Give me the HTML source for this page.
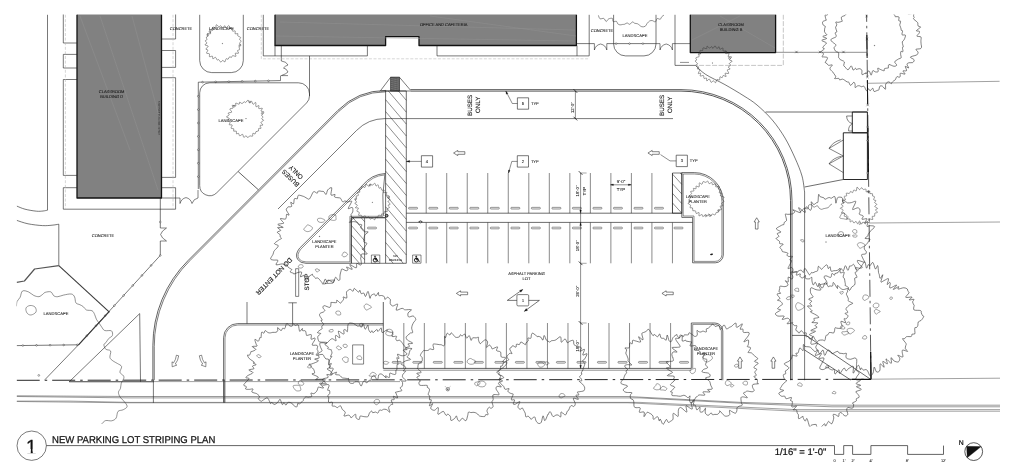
<!DOCTYPE html>
<html lang="en">
<head>
<meta charset="utf-8">
<title>New Parking Lot Striping Plan</title>
<style>
html,body{margin:0;padding:0;background:#fff;}
body{width:1024px;height:468px;overflow:hidden;font-family:"Liberation Sans",sans-serif;}
svg{display:block;will-change:transform;}
text{text-rendering:geometricPrecision;}
</style>
</head>
<body>
<svg width="1024" height="468" viewBox="0 0 1024 468" font-family="'Liberation Sans', sans-serif" stroke-linecap="butt" stroke-linejoin="round">
<defs><clipPath id="vp"><rect x="16.5" y="14.6" width="984.5" height="412"/></clipPath></defs>
<rect x="0" y="0" width="1024" height="468" fill="#ffffff"/>
<g clip-path="url(#vp)">
<rect x="77" y="11.6" width="84.5" height="186.4" fill="#818181" stroke="none" stroke-width="0"/>
<path d="M77,14.6 V198 H161.5 V14.6" fill="none" stroke="#111" stroke-width="1.3"/>
<line x1="80" y1="16" x2="130" y2="150" stroke="#929292" stroke-width="0.5"/>
<line x1="132" y1="16" x2="160" y2="120" stroke="#929292" stroke-width="0.5"/>
<line x1="100" y1="16" x2="158" y2="190" stroke="#929292" stroke-width="0.5"/>
<path d="M47.5,14.6 V210.2" fill="none" stroke="#1e1e1e" stroke-width="0.6"/>
<path d="M16.8,206.1 C18.17,206.62 21.72,208.35 25,209.2 C28.28,210.05 33.5,210.9 36.5,211.2 C39.5,211.5 41.17,211.17 43,211 C44.83,210.83 46.75,210.33 47.5,210.2" fill="none" stroke="#1e1e1e" stroke-width="0.6"/>
<path d="M16.8,220.4 C18.67,220.97 23.72,222.93 28,223.8 C32.28,224.67 38.5,225.37 42.5,225.6 C46.5,225.83 49.28,225.43 52,225.2 C54.72,224.97 57.67,224.37 58.8,224.2 V265.6" fill="none" stroke="#1e1e1e" stroke-width="0.6"/>
<path d="M77,11.6 H63.3 V43 H77" fill="none" stroke="#1e1e1e" stroke-width="0.6"/>
<path d="M77,54.4 H63.3 V68 H77" fill="none" stroke="#1e1e1e" stroke-width="0.6"/>
<path d="M77,79.5 H63.3 V175.4 H77" fill="none" stroke="#1e1e1e" stroke-width="0.6"/>
<path d="M77,187.7 H63.3 V209.2 H175.6 V187.7 H161.5" fill="none" stroke="#1e1e1e" stroke-width="0.6"/>
<path d="M161.5,11.6 H175.6 V39 H161.5" fill="none" stroke="#1e1e1e" stroke-width="0.6"/>
<path d="M161.5,50.5 H175.6 V67.4 H161.5" fill="none" stroke="#1e1e1e" stroke-width="0.6"/>
<path d="M161.5,77.7 H175.6 V177.4 H161.5" fill="none" stroke="#1e1e1e" stroke-width="0.6"/>
<line x1="65.4" y1="14.6" x2="65.4" y2="208.5" stroke="#b5b5b5" stroke-width="0.55" stroke-dasharray="3 1.6"/>
<line x1="173" y1="14.6" x2="173" y2="208.5" stroke="#b5b5b5" stroke-width="0.55" stroke-dasharray="3 1.6"/>
<text x="111.6" y="92.8" font-size="4" text-anchor="middle" fill="#151515" stroke="#151515" stroke-width="0.07" font-weight="normal">CLASSROOM</text>
<text x="111.6" y="97.8" font-size="4" text-anchor="middle" fill="#151515" stroke="#151515" stroke-width="0.07" font-weight="normal">BUILDING D</text>
<text x="160.4" y="135" font-size="2.5" fill="#111" textLength="34" lengthAdjust="spacingAndGlyphs" transform="rotate(-90 160.4 135)">EDGE OF ROOF OVERHANG ABOVE</text>
<path d="M160.3,198 L160.3,228" fill="none" stroke="#1e1e1e" stroke-width="0.6"/>
<circle cx="160.3" cy="222" r="0.8" fill="#fff" stroke="#1e1e1e" stroke-width="0.45"/>
<path d="M160.3,241 L160.3,255.4 L78.5,344.8 L16.7,345.6" fill="none" stroke="#1e1e1e" stroke-width="0.6"/>
<circle cx="160.3" cy="255.4" r="0.8" fill="#fff" stroke="#1e1e1e" stroke-width="0.45"/>
<circle cx="151.12" cy="265.43" r="0.8" fill="#fff" stroke="#1e1e1e" stroke-width="0.45"/>
<circle cx="141.94" cy="275.47" r="0.8" fill="#fff" stroke="#1e1e1e" stroke-width="0.45"/>
<circle cx="132.76" cy="285.5" r="0.8" fill="#fff" stroke="#1e1e1e" stroke-width="0.45"/>
<circle cx="123.58" cy="295.53" r="0.8" fill="#fff" stroke="#1e1e1e" stroke-width="0.45"/>
<circle cx="114.4" cy="305.57" r="0.8" fill="#fff" stroke="#1e1e1e" stroke-width="0.45"/>
<circle cx="105.22" cy="315.6" r="0.8" fill="#fff" stroke="#1e1e1e" stroke-width="0.45"/>
<circle cx="96.04" cy="325.64" r="0.8" fill="#fff" stroke="#1e1e1e" stroke-width="0.45"/>
<circle cx="86.85" cy="335.67" r="0.8" fill="#fff" stroke="#1e1e1e" stroke-width="0.45"/>
<circle cx="77.28" cy="344.82" r="0.8" fill="#fff" stroke="#1e1e1e" stroke-width="0.45"/>
<circle cx="63.68" cy="344.99" r="0.8" fill="#fff" stroke="#1e1e1e" stroke-width="0.45"/>
<circle cx="50.08" cy="345.17" r="0.8" fill="#fff" stroke="#1e1e1e" stroke-width="0.45"/>
<circle cx="36.48" cy="345.34" r="0.8" fill="#fff" stroke="#1e1e1e" stroke-width="0.45"/>
<circle cx="22.88" cy="345.52" r="0.8" fill="#fff" stroke="#1e1e1e" stroke-width="0.45"/>
<path d="M160.3,228 H166.5 M160.3,241 H166.5 M166.5,228 Q161.5,231 160.6,234.5 Q161.5,238 166.5,241" fill="none" stroke="#1e1e1e" stroke-width="0.55"/>
<path d="M175.6,198 H180 V203.5 M180,203.5 Q181.5,198.5 186,197.6 Q190.5,198.5 192,203.5 M192,203.5 Q193.5,198.8 198,198 V190" fill="none" stroke="#1e1e1e" stroke-width="0.55"/>
<path d="M199.7,14.6 V60.6 A12,12 0 0 0 211.7,72.6 H231.3 A12,12 0 0 0 243.3,60.6 V14.6" fill="none" stroke="#1e1e1e" stroke-width="0.6"/>
<path d="M239.58,43.3 C239.49,43.92 240.63,44.21 240.54,44.77 C240.45,45.34 239.18,45.91 239.03,46.7 C238.88,47.5 239.88,48.9 239.63,49.55 C239.38,50.2 237.72,49.99 237.53,50.59 C237.34,51.2 238.86,52.75 238.48,53.2 C238.11,53.65 235.72,52.78 235.29,53.29 C234.85,53.81 236.32,55.9 235.87,56.3 C235.41,56.69 233.3,55.47 232.56,55.66 C231.83,55.84 231.98,57.2 231.47,57.4 C230.97,57.59 230.1,56.54 229.54,56.85 C228.97,57.15 228.64,58.89 228.08,59.2 C227.52,59.52 226.73,58.28 226.17,58.74 C225.61,59.2 225.26,61.7 224.72,61.97 C224.17,62.24 223.55,60.34 222.89,60.36 C222.22,60.37 221.42,62.18 220.73,62.05 C220.03,61.93 219.31,59.96 218.73,59.62 C218.15,59.29 217.76,60.43 217.24,60.06 C216.71,59.69 216.29,57.61 215.56,57.4 C214.83,57.19 213.4,58.98 212.87,58.78 C212.35,58.58 212.97,56.57 212.41,56.22 C211.84,55.88 209.99,57.11 209.48,56.71 C208.98,56.31 209.87,54.39 209.39,53.81 C208.9,53.22 206.84,53.81 206.58,53.19 C206.32,52.57 207.97,50.79 207.83,50.09 C207.68,49.4 205.63,49.66 205.71,49.02 C205.78,48.38 208.39,46.94 208.26,46.25 C208.13,45.56 205.14,45.39 204.92,44.86 C204.71,44.32 206.93,43.69 206.98,43.03 C207.03,42.38 205.24,41.48 205.22,40.93 C205.21,40.38 206.7,40.38 206.88,39.74 C207.07,39.11 206.16,37.68 206.32,37.11 C206.48,36.55 207.64,36.94 207.82,36.35 C208,35.77 206.95,34.07 207.41,33.62 C207.87,33.17 210.18,34.3 210.58,33.66 C210.99,33.01 209.49,30.31 209.85,29.77 C210.2,29.22 212.17,30.8 212.7,30.39 C213.23,29.97 212.53,27.72 213.02,27.26 C213.52,26.81 215.12,28.09 215.67,27.67 C216.23,27.25 215.82,24.91 216.34,24.73 C216.87,24.56 218.08,26.42 218.85,26.6 C219.61,26.78 220.31,25.58 220.93,25.82 C221.55,26.05 221.92,28.04 222.58,28.01 C223.23,27.98 224.32,25.65 224.87,25.64 C225.43,25.62 225.28,27.94 225.93,27.93 C226.58,27.92 228.05,25.52 228.79,25.58 C229.52,25.65 229.76,27.89 230.32,28.32 C230.89,28.76 231.82,27.72 232.19,28.19 C232.56,28.66 232.07,30.68 232.56,31.13 C233.06,31.59 234.71,30.49 235.14,30.93 C235.58,31.37 234.7,33.32 235.16,33.77 C235.62,34.23 237.45,33.32 237.88,33.66 C238.31,33.99 237.3,35.13 237.75,35.76 C238.2,36.4 240.28,36.83 240.58,37.44 C240.88,38.05 239.46,38.82 239.54,39.42 C239.63,40.02 241.09,40.42 241.09,41.06 C241.1,41.71 239.68,42.68 239.58,43.3 Z" fill="none" stroke="#333" stroke-width="0.5"/>
<circle cx="207.71" cy="34.94" r="0.9" fill="none" stroke="#333" stroke-width="0.4"/>
<circle cx="239.86" cy="45.36" r="0.9" fill="none" stroke="#333" stroke-width="0.4"/>
<circle cx="209.93" cy="31.79" r="0.9" fill="none" stroke="#333" stroke-width="0.4"/>
<circle cx="222.3" cy="43.6" r="0.3" fill="#1e1e1e" stroke="#1e1e1e" stroke-width="0.3"/>
<text x="181" y="30" font-size="4" text-anchor="middle" fill="#151515" stroke="#151515" stroke-width="0.07" font-weight="normal">CONCRETE</text>
<text x="221.5" y="29.6" font-size="4.1" text-anchor="middle" fill="#151515" stroke="#151515" stroke-width="0.07" font-weight="normal">LANDSCAPE</text>
<text x="258" y="29.6" font-size="4" text-anchor="middle" fill="#151515" stroke="#151515" stroke-width="0.07" font-weight="normal">CONCRETE</text>
<path d="M275,11.6 H576.4 V45.5 H419 V36.7 H385.6 V45.5 H275 Z" fill="#818181" stroke="none" stroke-width="0"/>
<path d="M275,14.6 V45.5 H385.6 V36.7 H419 V45.5 H576.4 V14.6" fill="none" stroke="#111" stroke-width="1.3"/>
<line x1="280" y1="22" x2="575" y2="30" stroke="#919191" stroke-width="0.5"/>
<line x1="276" y1="36" x2="575" y2="41" stroke="#919191" stroke-width="0.5"/>
<line x1="430" y1="16" x2="576" y2="36" stroke="#919191" stroke-width="0.5"/>
<text x="443.7" y="26.2" font-size="4" text-anchor="middle" fill="#151515" stroke="#151515" stroke-width="0.07" font-weight="normal">OFFICE AND CAFETERIA</text>
<path d="M263.3,14.6 V55.9 H367.4 V45.5" fill="none" stroke="#1e1e1e" stroke-width="0.6"/>
<path d="M437,45.5 V55.9 H589.2 V14.6" fill="none" stroke="#1e1e1e" stroke-width="0.6"/>
<line x1="275" y1="45.5" x2="275" y2="55.9" stroke="#1e1e1e" stroke-width="0.6"/>
<line x1="281.3" y1="45.5" x2="281.3" y2="61" stroke="#1e1e1e" stroke-width="0.6"/>
<line x1="577" y1="45.5" x2="577" y2="55.9" stroke="#1e1e1e" stroke-width="0.6"/>
<path d="M261.3,14.6 V58.8 H589" fill="none" stroke="#b5b5b5" stroke-width="0.55" stroke-dasharray="3 1.6"/>
<path d="M281.3,61 Q286.5,61.5 288,65 Q285,66 283.5,68 Q286.5,68.5 288,72 Q286,74 281.3,75.6 M281.3,75.6 H288 M280.5,75.6 V80.6" fill="none" stroke="#1e1e1e" stroke-width="0.55"/>
<path d="M280.5,80.6 L198.3,82.2" fill="none" stroke="#1e1e1e" stroke-width="0.6"/>
<circle cx="268.5" cy="80.83" r="0.8" fill="#fff" stroke="#1e1e1e" stroke-width="0.45"/>
<circle cx="255.3" cy="81.09" r="0.8" fill="#fff" stroke="#1e1e1e" stroke-width="0.45"/>
<circle cx="242.11" cy="81.35" r="0.8" fill="#fff" stroke="#1e1e1e" stroke-width="0.45"/>
<circle cx="228.91" cy="81.6" r="0.8" fill="#fff" stroke="#1e1e1e" stroke-width="0.45"/>
<circle cx="215.71" cy="81.86" r="0.8" fill="#fff" stroke="#1e1e1e" stroke-width="0.45"/>
<circle cx="202.51" cy="82.12" r="0.8" fill="#fff" stroke="#1e1e1e" stroke-width="0.45"/>
<path d="M198.3,82.2 L198.3,189" fill="none" stroke="#1e1e1e" stroke-width="0.6"/>
<circle cx="198.3" cy="96.2" r="0.8" fill="#fff" stroke="#1e1e1e" stroke-width="0.45"/>
<circle cx="198.3" cy="109.6" r="0.8" fill="#fff" stroke="#1e1e1e" stroke-width="0.45"/>
<circle cx="198.3" cy="123" r="0.8" fill="#fff" stroke="#1e1e1e" stroke-width="0.45"/>
<circle cx="198.3" cy="136.4" r="0.8" fill="#fff" stroke="#1e1e1e" stroke-width="0.45"/>
<circle cx="198.3" cy="149.8" r="0.8" fill="#fff" stroke="#1e1e1e" stroke-width="0.45"/>
<circle cx="198.3" cy="163.2" r="0.8" fill="#fff" stroke="#1e1e1e" stroke-width="0.45"/>
<circle cx="198.3" cy="176.6" r="0.8" fill="#fff" stroke="#1e1e1e" stroke-width="0.45"/>
<line x1="309.5" y1="55.9" x2="309.5" y2="96" stroke="#1e1e1e" stroke-width="0.6"/>
<path d="M199.7,185.66 V92.8 A10,10 0 0 1 209.7,82.8 H298.5 A11,11 0 0 1 309.5,93.8 V95.86 A10,10 0 0 1 306.57,102.93 L216.77,192.73 A10,10 0 0 1 199.7,185.66 Z" fill="none" stroke="#1e1e1e" stroke-width="0.6"/>
<path d="M261.7,118.89 C261.8,119.44 263.74,119.68 263.61,120.28 C263.49,120.88 261.09,121.69 260.97,122.48 C260.85,123.27 263.04,124.52 262.9,125.02 C262.75,125.53 260.4,124.97 260.09,125.51 C259.78,126.04 261.26,127.77 261.03,128.25 C260.81,128.74 259.17,127.99 258.73,128.44 C258.29,128.89 258.88,130.41 258.41,130.94 C257.95,131.48 256.49,131.14 255.94,131.63 C255.4,132.12 255.65,133.6 255.14,133.89 C254.62,134.18 253.3,132.99 252.86,133.38 C252.42,133.76 252.96,135.75 252.5,136.18 C252.04,136.61 250.92,135.75 250.1,135.96 C249.27,136.16 248.23,137.44 247.56,137.42 C246.89,137.39 246.71,135.83 246.08,135.81 C245.44,135.78 244.36,137.5 243.77,137.26 C243.19,137.01 243.25,134.56 242.57,134.32 C241.9,134.09 240.4,136 239.72,135.84 C239.04,135.68 239.03,133.68 238.49,133.35 C237.96,133.02 236.88,134.23 236.51,133.87 C236.15,133.51 236.77,131.63 236.3,131.18 C235.82,130.73 234.09,131.56 233.67,131.17 C233.26,130.77 234.24,129.33 233.8,128.84 C233.37,128.34 231.35,128.81 231.08,128.18 C230.81,127.55 232.47,125.63 232.17,125.05 C231.87,124.47 229.64,125.16 229.29,124.68 C228.94,124.2 230.33,122.87 230.06,122.15 C229.8,121.42 227.83,120.93 227.71,120.32 C227.59,119.72 229.55,119.06 229.34,118.5 C229.13,117.94 226.47,117.55 226.44,116.97 C226.41,116.39 228.83,115.65 229.14,114.99 C229.44,114.33 227.83,113.48 228.26,113 C228.69,112.52 231.42,112.8 231.69,112.13 C231.96,111.46 229.65,109.65 229.88,108.96 C230.11,108.28 232.67,108.63 233.08,108.02 C233.48,107.42 231.86,105.66 232.3,105.31 C232.74,104.95 235.15,106.26 235.72,105.9 C236.29,105.55 235.16,103.48 235.73,103.19 C236.31,102.9 238.5,104.34 239.16,104.17 C239.82,103.99 239.18,102.23 239.68,102.13 C240.17,102.02 241.39,103.61 242.12,103.54 C242.85,103.48 243.47,101.9 244.08,101.72 C244.69,101.54 245.11,102.74 245.77,102.46 C246.43,102.18 247.44,100 248.04,100.04 C248.65,100.07 248.82,102.46 249.41,102.67 C250,102.87 250.99,101.02 251.59,101.29 C252.2,101.55 252.34,104.04 253.03,104.24 C253.71,104.45 255.21,102.12 255.7,102.52 C256.19,102.92 255.45,106.14 255.98,106.66 C256.52,107.17 258.42,105.28 258.89,105.59 C259.36,105.9 258.22,108.06 258.79,108.52 C259.36,108.97 261.95,107.92 262.31,108.34 C262.68,108.75 260.74,110.42 261.01,111.02 C261.27,111.62 263.78,111.21 263.9,111.94 C264.02,112.66 261.87,114.53 261.71,115.36 C261.56,116.2 262.97,116.39 262.97,116.97 C262.97,117.56 261.59,118.33 261.7,118.89 Z" fill="none" stroke="#333" stroke-width="0.5"/>
<circle cx="262.24" cy="113.31" r="0.9" fill="none" stroke="#333" stroke-width="0.4"/>
<circle cx="234.13" cy="106.16" r="0.9" fill="none" stroke="#333" stroke-width="0.4"/>
<circle cx="249.93" cy="101.98" r="0.9" fill="none" stroke="#333" stroke-width="0.4"/>
<circle cx="246" cy="118.7" r="0.3" fill="#1e1e1e" stroke="#1e1e1e" stroke-width="0.3"/>
<text x="231" y="121.8" font-size="4.1" text-anchor="middle" fill="#151515" stroke="#151515" stroke-width="0.07" font-weight="normal">LANDSCAPE</text>
<line x1="238.2" y1="171.6" x2="258.4" y2="189.8" stroke="#1e1e1e" stroke-width="0.7"/>
<path d="M152.9,380.2 V345.4 A120,120 0 0 1 188.05,260.55 L337.88,110.38 A68.2,68.2 0 0 1 386.1,90.4" fill="none" stroke="#1e1e1e" stroke-width="0.7"/>
<path d="M154.25,380.2 V346.52 A121.35,121.35 0 0 1 189.79,260.72 L338.83,111.33 A66.85,66.85 0 0 1 386.1,91.75" fill="none" stroke="#1e1e1e" stroke-width="0.6"/>
<path d="M673,118.6 H384.9 A40,40 0 0 0 356.6,130.4 L278,209" fill="none" stroke="#1e1e1e" stroke-width="0.6"/>
<path d="M410.5,89.6 H681 A111,111 0 0 1 792,200.6 V380.2" fill="none" stroke="#1e1e1e" stroke-width="0.7"/>
<path d="M410.5,91.1 H681 A109.5,109.5 0 0 1 790.5,200.6 V380.2" fill="none" stroke="#1e1e1e" stroke-width="0.75"/>
<path d="M379.8,91.6 L390.6,77.3 L399.5,77.3 L410.5,90.2" fill="none" stroke="#1e1e1e" stroke-width="0.6"/>
<line x1="381" y1="91" x2="410.5" y2="91" stroke="#1e1e1e" stroke-width="0.6"/>
<rect x="390.6" y="77.3" width="8.9" height="13.7" fill="#7c7c7c" stroke="#1e1e1e" stroke-width="0.6"/>
<line x1="390.6" y1="77.3" x2="399.5" y2="79.3" stroke="#333" stroke-width="0.35"/>
<line x1="390.6" y1="77.3" x2="390.6" y2="91" stroke="#444" stroke-width="0.25"/>
<line x1="390.6" y1="79.3" x2="399.5" y2="81.3" stroke="#333" stroke-width="0.35"/>
<line x1="392.08" y1="77.3" x2="392.08" y2="91" stroke="#444" stroke-width="0.25"/>
<line x1="390.6" y1="81.3" x2="399.5" y2="83.3" stroke="#333" stroke-width="0.35"/>
<line x1="393.56" y1="77.3" x2="393.56" y2="91" stroke="#444" stroke-width="0.25"/>
<line x1="390.6" y1="83.3" x2="399.5" y2="85.3" stroke="#333" stroke-width="0.35"/>
<line x1="395.04" y1="77.3" x2="395.04" y2="91" stroke="#444" stroke-width="0.25"/>
<line x1="390.6" y1="85.3" x2="399.5" y2="87.3" stroke="#333" stroke-width="0.35"/>
<line x1="396.52" y1="77.3" x2="396.52" y2="91" stroke="#444" stroke-width="0.25"/>
<line x1="390.6" y1="87.3" x2="399.5" y2="89.3" stroke="#333" stroke-width="0.35"/>
<line x1="398" y1="77.3" x2="398" y2="91" stroke="#444" stroke-width="0.25"/>
<line x1="390.6" y1="89.3" x2="399.5" y2="91.3" stroke="#333" stroke-width="0.35"/>
<line x1="399.48" y1="77.3" x2="399.48" y2="91" stroke="#444" stroke-width="0.25"/>
<path d="M675,14.6 V65.4 H695.4" fill="none" stroke="#1e1e1e" stroke-width="0.6"/>
<path d="M695.4,65.4 C697.1,66.9 700.68,71.2 705.6,74.4 C710.52,77.6 718.5,81 724.9,84.6 C731.3,88.2 738.65,92.6 744,96 C749.35,99.4 752.28,101 757,105 C761.72,109 767.63,114.5 772.3,120 C776.97,125.5 781.22,131.67 785,138 C788.78,144.33 792.17,151.67 795,158 C797.83,164.33 800.4,170.33 802,176 C803.6,181.67 804.17,189.33 804.6,192 V380.2" fill="none" stroke="#1e1e1e" stroke-width="0.6"/>
<rect x="385.6" y="91" width="20.7" height="172.3" fill="none" stroke="#1e1e1e" stroke-width="0.65"/>
<line x1="398.42" y1="91" x2="406.3" y2="100.3" stroke="#1e1e1e" stroke-width="0.5"/>
<line x1="388.33" y1="91" x2="406.3" y2="112.2" stroke="#1e1e1e" stroke-width="0.5"/>
<line x1="385.6" y1="99.67" x2="406.3" y2="124.1" stroke="#1e1e1e" stroke-width="0.5"/>
<line x1="385.6" y1="111.57" x2="406.3" y2="136" stroke="#1e1e1e" stroke-width="0.5"/>
<line x1="385.6" y1="123.47" x2="406.3" y2="147.9" stroke="#1e1e1e" stroke-width="0.5"/>
<line x1="385.6" y1="135.37" x2="406.3" y2="159.8" stroke="#1e1e1e" stroke-width="0.5"/>
<line x1="385.6" y1="147.27" x2="406.3" y2="171.7" stroke="#1e1e1e" stroke-width="0.5"/>
<line x1="385.6" y1="159.17" x2="406.3" y2="183.6" stroke="#1e1e1e" stroke-width="0.5"/>
<line x1="385.6" y1="171.07" x2="406.3" y2="195.5" stroke="#1e1e1e" stroke-width="0.5"/>
<line x1="385.6" y1="182.97" x2="406.3" y2="207.4" stroke="#1e1e1e" stroke-width="0.5"/>
<line x1="385.6" y1="194.87" x2="406.3" y2="219.3" stroke="#1e1e1e" stroke-width="0.5"/>
<line x1="385.6" y1="206.77" x2="406.3" y2="231.2" stroke="#1e1e1e" stroke-width="0.5"/>
<line x1="385.6" y1="218.67" x2="406.3" y2="243.1" stroke="#1e1e1e" stroke-width="0.5"/>
<line x1="385.6" y1="230.57" x2="406.3" y2="255" stroke="#1e1e1e" stroke-width="0.5"/>
<line x1="385.6" y1="242.47" x2="403.25" y2="263.3" stroke="#1e1e1e" stroke-width="0.5"/>
<line x1="385.6" y1="254.37" x2="393.16" y2="263.3" stroke="#1e1e1e" stroke-width="0.5"/>
<text x="395.4" y="257.4" font-size="3" text-anchor="middle" fill="#151515" stroke="#151515" stroke-width="0.04" font-weight="normal">NO</text>
<text x="395.4" y="261.3" font-size="3" text-anchor="middle" fill="#151515" stroke="#151515" stroke-width="0.04" font-weight="normal">PARKING</text>
<line x1="426.2" y1="173" x2="426.2" y2="213.2" stroke="#3c3c3c" stroke-width="0.6"/>
<line x1="446.72" y1="173" x2="446.72" y2="213.2" stroke="#3c3c3c" stroke-width="0.6"/>
<line x1="467.24" y1="173" x2="467.24" y2="213.2" stroke="#3c3c3c" stroke-width="0.6"/>
<line x1="487.76" y1="173" x2="487.76" y2="213.2" stroke="#3c3c3c" stroke-width="0.6"/>
<line x1="508.28" y1="173" x2="508.28" y2="213.2" stroke="#3c3c3c" stroke-width="0.6"/>
<line x1="528.8" y1="173" x2="528.8" y2="213.2" stroke="#3c3c3c" stroke-width="0.6"/>
<line x1="549.32" y1="173" x2="549.32" y2="213.2" stroke="#3c3c3c" stroke-width="0.6"/>
<line x1="569.84" y1="173" x2="569.84" y2="213.2" stroke="#3c3c3c" stroke-width="0.6"/>
<line x1="590.36" y1="173" x2="590.36" y2="213.2" stroke="#3c3c3c" stroke-width="0.6"/>
<line x1="610.88" y1="173" x2="610.88" y2="213.2" stroke="#3c3c3c" stroke-width="0.6"/>
<line x1="631.4" y1="173" x2="631.4" y2="213.2" stroke="#3c3c3c" stroke-width="0.6"/>
<line x1="651.92" y1="173" x2="651.92" y2="213.2" stroke="#3c3c3c" stroke-width="0.6"/>
<line x1="672.44" y1="173" x2="672.44" y2="213.2" stroke="#3c3c3c" stroke-width="0.6"/>
<line x1="406.3" y1="213.2" x2="681.8" y2="213.2" stroke="#1e1e1e" stroke-width="0.65"/>
<line x1="406.3" y1="222.4" x2="692.6" y2="222.4" stroke="#1e1e1e" stroke-width="0.65"/>
<line x1="426.2" y1="222.4" x2="426.2" y2="263.3" stroke="#3c3c3c" stroke-width="0.6"/>
<line x1="446.72" y1="222.4" x2="446.72" y2="263.3" stroke="#3c3c3c" stroke-width="0.6"/>
<line x1="467.24" y1="222.4" x2="467.24" y2="263.3" stroke="#3c3c3c" stroke-width="0.6"/>
<line x1="487.76" y1="222.4" x2="487.76" y2="263.3" stroke="#3c3c3c" stroke-width="0.6"/>
<line x1="508.28" y1="222.4" x2="508.28" y2="263.3" stroke="#3c3c3c" stroke-width="0.6"/>
<line x1="528.8" y1="222.4" x2="528.8" y2="263.3" stroke="#3c3c3c" stroke-width="0.6"/>
<line x1="549.32" y1="222.4" x2="549.32" y2="263.3" stroke="#3c3c3c" stroke-width="0.6"/>
<line x1="569.84" y1="222.4" x2="569.84" y2="263.3" stroke="#3c3c3c" stroke-width="0.6"/>
<line x1="590.36" y1="222.4" x2="590.36" y2="263.3" stroke="#3c3c3c" stroke-width="0.6"/>
<line x1="610.88" y1="222.4" x2="610.88" y2="263.3" stroke="#3c3c3c" stroke-width="0.6"/>
<line x1="631.4" y1="222.4" x2="631.4" y2="263.3" stroke="#3c3c3c" stroke-width="0.6"/>
<line x1="651.92" y1="222.4" x2="651.92" y2="263.3" stroke="#3c3c3c" stroke-width="0.6"/>
<line x1="672.44" y1="222.4" x2="672.44" y2="263.3" stroke="#3c3c3c" stroke-width="0.6"/>
<rect x="408.55" y="207.35" width="9" height="1.7" rx="0.7" fill="#ececec" stroke="#3a3a3a" stroke-width="0.5"/>
<rect x="408.55" y="227.15" width="9" height="1.7" rx="0.7" fill="#ececec" stroke="#3a3a3a" stroke-width="0.5"/>
<rect x="428.76" y="207.35" width="9" height="1.7" rx="0.7" fill="#ececec" stroke="#3a3a3a" stroke-width="0.5"/>
<rect x="428.76" y="227.15" width="9" height="1.7" rx="0.7" fill="#ececec" stroke="#3a3a3a" stroke-width="0.5"/>
<rect x="449.28" y="207.35" width="9" height="1.7" rx="0.7" fill="#ececec" stroke="#3a3a3a" stroke-width="0.5"/>
<rect x="449.28" y="227.15" width="9" height="1.7" rx="0.7" fill="#ececec" stroke="#3a3a3a" stroke-width="0.5"/>
<rect x="469.8" y="207.35" width="9" height="1.7" rx="0.7" fill="#ececec" stroke="#3a3a3a" stroke-width="0.5"/>
<rect x="469.8" y="227.15" width="9" height="1.7" rx="0.7" fill="#ececec" stroke="#3a3a3a" stroke-width="0.5"/>
<rect x="490.32" y="207.35" width="9" height="1.7" rx="0.7" fill="#ececec" stroke="#3a3a3a" stroke-width="0.5"/>
<rect x="490.32" y="227.15" width="9" height="1.7" rx="0.7" fill="#ececec" stroke="#3a3a3a" stroke-width="0.5"/>
<rect x="510.84" y="207.35" width="9" height="1.7" rx="0.7" fill="#ececec" stroke="#3a3a3a" stroke-width="0.5"/>
<rect x="510.84" y="227.15" width="9" height="1.7" rx="0.7" fill="#ececec" stroke="#3a3a3a" stroke-width="0.5"/>
<rect x="531.36" y="207.35" width="9" height="1.7" rx="0.7" fill="#ececec" stroke="#3a3a3a" stroke-width="0.5"/>
<rect x="531.36" y="227.15" width="9" height="1.7" rx="0.7" fill="#ececec" stroke="#3a3a3a" stroke-width="0.5"/>
<rect x="551.88" y="207.35" width="9" height="1.7" rx="0.7" fill="#ececec" stroke="#3a3a3a" stroke-width="0.5"/>
<rect x="551.88" y="227.15" width="9" height="1.7" rx="0.7" fill="#ececec" stroke="#3a3a3a" stroke-width="0.5"/>
<rect x="572.4" y="207.35" width="9" height="1.7" rx="0.7" fill="#ececec" stroke="#3a3a3a" stroke-width="0.5"/>
<rect x="572.4" y="227.15" width="9" height="1.7" rx="0.7" fill="#ececec" stroke="#3a3a3a" stroke-width="0.5"/>
<rect x="592.92" y="207.35" width="9" height="1.7" rx="0.7" fill="#ececec" stroke="#3a3a3a" stroke-width="0.5"/>
<rect x="592.92" y="227.15" width="9" height="1.7" rx="0.7" fill="#ececec" stroke="#3a3a3a" stroke-width="0.5"/>
<rect x="613.44" y="207.35" width="9" height="1.7" rx="0.7" fill="#ececec" stroke="#3a3a3a" stroke-width="0.5"/>
<rect x="613.44" y="227.15" width="9" height="1.7" rx="0.7" fill="#ececec" stroke="#3a3a3a" stroke-width="0.5"/>
<rect x="633.96" y="207.35" width="9" height="1.7" rx="0.7" fill="#ececec" stroke="#3a3a3a" stroke-width="0.5"/>
<rect x="633.96" y="227.15" width="9" height="1.7" rx="0.7" fill="#ececec" stroke="#3a3a3a" stroke-width="0.5"/>
<rect x="654.48" y="207.35" width="9" height="1.7" rx="0.7" fill="#ececec" stroke="#3a3a3a" stroke-width="0.5"/>
<rect x="654.48" y="227.15" width="9" height="1.7" rx="0.7" fill="#ececec" stroke="#3a3a3a" stroke-width="0.5"/>
<rect x="674" y="227.15" width="9" height="1.7" rx="0.7" fill="#ececec" stroke="#3a3a3a" stroke-width="0.5"/>
<circle cx="420.5" cy="221.8" r="1.1" fill="#fff" stroke="#1e1e1e" stroke-width="0.6"/>
<line x1="418.4" y1="221.8" x2="422.6" y2="221.8" stroke="#1e1e1e" stroke-width="0.6"/>
<rect x="672.5" y="173" width="9.3" height="40.2" fill="none" stroke="#1e1e1e" stroke-width="0.6"/>
<line x1="680.16" y1="173" x2="681.8" y2="174.8" stroke="#1e1e1e" stroke-width="0.5"/>
<line x1="672.5" y1="174.17" x2="681.8" y2="184.4" stroke="#1e1e1e" stroke-width="0.5"/>
<line x1="672.5" y1="183.77" x2="681.8" y2="194" stroke="#1e1e1e" stroke-width="0.5"/>
<line x1="672.5" y1="193.37" x2="681.8" y2="203.6" stroke="#1e1e1e" stroke-width="0.5"/>
<line x1="672.5" y1="202.97" x2="681.8" y2="213.2" stroke="#1e1e1e" stroke-width="0.5"/>
<line x1="672.5" y1="212.57" x2="673.07" y2="213.2" stroke="#1e1e1e" stroke-width="0.5"/>
<rect x="351.3" y="217.7" width="13.3" height="45.6" fill="none" stroke="#1e1e1e" stroke-width="0.6"/>
<line x1="361.12" y1="217.7" x2="364.6" y2="221.7" stroke="#1e1e1e" stroke-width="0.5"/>
<line x1="352.86" y1="217.7" x2="364.6" y2="231.2" stroke="#1e1e1e" stroke-width="0.5"/>
<line x1="351.3" y1="225.4" x2="364.6" y2="240.7" stroke="#1e1e1e" stroke-width="0.5"/>
<line x1="351.3" y1="234.9" x2="364.6" y2="250.2" stroke="#1e1e1e" stroke-width="0.5"/>
<line x1="351.3" y1="244.4" x2="364.6" y2="259.7" stroke="#1e1e1e" stroke-width="0.5"/>
<line x1="351.3" y1="253.9" x2="359.47" y2="263.3" stroke="#1e1e1e" stroke-width="0.5"/>
<line x1="364.6" y1="217.7" x2="385.6" y2="217.7" stroke="#1e1e1e" stroke-width="0.6"/>
<line x1="364.6" y1="263.3" x2="385.6" y2="263.3" stroke="#1e1e1e" stroke-width="0.6"/>
<rect x="367.5" y="227.15" width="9" height="1.7" rx="0.7" fill="#ececec" stroke="#3a3a3a" stroke-width="0.5"/>
<rect x="371.4" y="255" width="8.4" height="8.2" fill="#fff" stroke="#111" stroke-width="0.5"/>
<circle cx="375.1" cy="260.1" r="1.9" fill="none" stroke="#111" stroke-width="0.9"/>
<circle cx="375" cy="256.4" r="0.7" fill="#111" stroke="#111" stroke-width="0.2"/>
<path d="M375,257.2 V259.7 H377.2 L378.2,262 M375,258.4 H377" fill="none" stroke="#111" stroke-width="0.9"/>
<rect x="412.6" y="255" width="8.4" height="8.2" fill="#fff" stroke="#111" stroke-width="0.5"/>
<circle cx="416.3" cy="260.1" r="1.9" fill="none" stroke="#111" stroke-width="0.9"/>
<circle cx="416.2" cy="256.4" r="0.7" fill="#111" stroke="#111" stroke-width="0.2"/>
<path d="M416.2,257.2 V259.7 H418.4 L419.4,262 M416.2,258.4 H418.2" fill="none" stroke="#111" stroke-width="0.9"/>
<line x1="403.82" y1="323" x2="403.82" y2="368.5" stroke="#3c3c3c" stroke-width="0.6"/>
<line x1="424.34" y1="323" x2="424.34" y2="368.5" stroke="#3c3c3c" stroke-width="0.6"/>
<line x1="444.86" y1="323" x2="444.86" y2="368.5" stroke="#3c3c3c" stroke-width="0.6"/>
<line x1="465.38" y1="323" x2="465.38" y2="368.5" stroke="#3c3c3c" stroke-width="0.6"/>
<line x1="485.9" y1="323" x2="485.9" y2="368.5" stroke="#3c3c3c" stroke-width="0.6"/>
<line x1="506.42" y1="323" x2="506.42" y2="368.5" stroke="#3c3c3c" stroke-width="0.6"/>
<line x1="526.94" y1="323" x2="526.94" y2="368.5" stroke="#3c3c3c" stroke-width="0.6"/>
<line x1="547.46" y1="323" x2="547.46" y2="368.5" stroke="#3c3c3c" stroke-width="0.6"/>
<line x1="567.98" y1="323" x2="567.98" y2="368.5" stroke="#3c3c3c" stroke-width="0.6"/>
<line x1="588.5" y1="323" x2="588.5" y2="368.5" stroke="#3c3c3c" stroke-width="0.6"/>
<line x1="609.02" y1="323" x2="609.02" y2="368.5" stroke="#3c3c3c" stroke-width="0.6"/>
<line x1="629.54" y1="323" x2="629.54" y2="368.5" stroke="#3c3c3c" stroke-width="0.6"/>
<line x1="650.06" y1="323" x2="650.06" y2="368.5" stroke="#3c3c3c" stroke-width="0.6"/>
<line x1="670.58" y1="323" x2="670.58" y2="368.5" stroke="#3c3c3c" stroke-width="0.6"/>
<line x1="383.3" y1="368.4" x2="691.3" y2="368.4" stroke="#1e1e1e" stroke-width="0.7"/>
<line x1="383.3" y1="370.2" x2="691.3" y2="370.2" stroke="#1e1e1e" stroke-width="0.5"/>
<rect x="392.26" y="361.45" width="9" height="1.7" rx="0.7" fill="#ececec" stroke="#3a3a3a" stroke-width="0.5"/>
<rect x="412.78" y="361.45" width="9" height="1.7" rx="0.7" fill="#ececec" stroke="#3a3a3a" stroke-width="0.5"/>
<rect x="433.3" y="361.45" width="9" height="1.7" rx="0.7" fill="#ececec" stroke="#3a3a3a" stroke-width="0.5"/>
<rect x="453.82" y="361.45" width="9" height="1.7" rx="0.7" fill="#ececec" stroke="#3a3a3a" stroke-width="0.5"/>
<rect x="474.34" y="361.45" width="9" height="1.7" rx="0.7" fill="#ececec" stroke="#3a3a3a" stroke-width="0.5"/>
<rect x="494.86" y="361.45" width="9" height="1.7" rx="0.7" fill="#ececec" stroke="#3a3a3a" stroke-width="0.5"/>
<rect x="515.38" y="361.45" width="9" height="1.7" rx="0.7" fill="#ececec" stroke="#3a3a3a" stroke-width="0.5"/>
<rect x="535.9" y="361.45" width="9" height="1.7" rx="0.7" fill="#ececec" stroke="#3a3a3a" stroke-width="0.5"/>
<rect x="556.42" y="361.45" width="9" height="1.7" rx="0.7" fill="#ececec" stroke="#3a3a3a" stroke-width="0.5"/>
<rect x="576.94" y="361.45" width="9" height="1.7" rx="0.7" fill="#ececec" stroke="#3a3a3a" stroke-width="0.5"/>
<rect x="597.46" y="361.45" width="9" height="1.7" rx="0.7" fill="#ececec" stroke="#3a3a3a" stroke-width="0.5"/>
<rect x="617.98" y="361.45" width="9" height="1.7" rx="0.7" fill="#ececec" stroke="#3a3a3a" stroke-width="0.5"/>
<rect x="638.5" y="361.45" width="9" height="1.7" rx="0.7" fill="#ececec" stroke="#3a3a3a" stroke-width="0.5"/>
<rect x="659.02" y="361.45" width="9" height="1.7" rx="0.7" fill="#ececec" stroke="#3a3a3a" stroke-width="0.5"/>
<rect x="679.54" y="361.45" width="9" height="1.7" rx="0.7" fill="#ececec" stroke="#3a3a3a" stroke-width="0.5"/>
<line x1="383.3" y1="302" x2="383.3" y2="368.5" stroke="#1e1e1e" stroke-width="0.7"/>
<path d="M385.4,173.5 Q371.5,174.2 362.5,185.4 L299.6,248.2 Q294.6,254.4 297.6,259.4 Q300.4,263.3 306,263.3 H351.3 V217.7 H385.4" fill="none" stroke="#1e1e1e" stroke-width="0.65"/>
<path d="M384.2,175 Q372.6,175.6 363.6,186.4 L300.8,249.2 Q296.4,254.6 298.9,258.7 Q301.2,261.9 306,261.9 H349.9 V216.3 H383.2" fill="none" stroke="#1e1e1e" stroke-width="0.5"/>
<path d="M384.9,173.8 Q381.6,195 383.3,216" fill="none" stroke="#1e1e1e" stroke-width="0.6"/>
<text x="324.4" y="242.6" font-size="4" text-anchor="middle" fill="#151515" stroke="#151515" stroke-width="0.07" font-weight="normal">LANDSCAPE</text>
<text x="324.4" y="247.8" font-size="4" text-anchor="middle" fill="#151515" stroke="#151515" stroke-width="0.07" font-weight="normal">PLANTER</text>
<path d="M681.8,172.6 H694.3 A29,29 0 0 1 723.3,201.6 V255 A8,8 0 0 1 715.3,262.8 H692.6 V217.4 H681.8 Z" fill="none" stroke="#1e1e1e" stroke-width="0.65"/>
<path d="M683.2,174 H694.3 A27.6,27.6 0 0 1 721.9,201.6 V254.6 A6.8,6.8 0 0 1 715,261.4 H694 V216 H683.2 Z" fill="none" stroke="#1e1e1e" stroke-width="0.5"/>
<text x="697.8" y="197.8" font-size="4" text-anchor="middle" fill="#151515" stroke="#151515" stroke-width="0.07" font-weight="normal">LANDSCAPE</text>
<text x="697.8" y="202.8" font-size="4" text-anchor="middle" fill="#151515" stroke="#151515" stroke-width="0.07" font-weight="normal">PLANTER</text>
<path d="M710,254.6 q1.6,-1.4 3,-0.6 q-1,1.6 -3,0.6 Z" fill="#111" stroke="#111" stroke-width="0.4"/>
<path d="M691.3,368.5 V323 H714.8 A8,8 0 0 1 722.8,331 V380.2" fill="none" stroke="#1e1e1e" stroke-width="0.65"/>
<path d="M692.7,368.5 V324.4 H714.6 A6.7,6.7 0 0 1 721.4,331 V380.2" fill="none" stroke="#1e1e1e" stroke-width="0.5"/>
<text x="706" y="349.8" font-size="4" text-anchor="middle" fill="#151515" stroke="#151515" stroke-width="0.07" font-weight="normal">LANDSCAPE</text>
<text x="706" y="354.8" font-size="4" text-anchor="middle" fill="#151515" stroke="#151515" stroke-width="0.07" font-weight="normal">PLANTER</text>
<path d="M383.3,323.6 H237.6 A14,14 0 0 0 223.6,337.6 V402.8" fill="none" stroke="#1e1e1e" stroke-width="0.65"/>
<path d="M383.3,325 H237.8 A12.7,12.7 0 0 0 225,337.8 V402.8" fill="none" stroke="#1e1e1e" stroke-width="0.5"/>
<line x1="247" y1="302" x2="247" y2="323.6" stroke="#1e1e1e" stroke-width="0.6"/>
<line x1="292.6" y1="302.8" x2="292.6" y2="323.6" stroke="#1e1e1e" stroke-width="0.6"/>
<line x1="288.4" y1="302.8" x2="296.8" y2="302.8" stroke="#1e1e1e" stroke-width="0.6"/>
<rect x="352.6" y="344.9" width="11" height="19.2" fill="none" stroke="#1e1e1e" stroke-width="0.55"/>
<text x="302" y="355.3" font-size="4" text-anchor="middle" fill="#151515" stroke="#151515" stroke-width="0.07" font-weight="normal">LANDSCAPE</text>
<text x="302" y="360.3" font-size="4" text-anchor="middle" fill="#151515" stroke="#151515" stroke-width="0.07" font-weight="normal">PLANTER</text>
<path d="M325.2,283.6 L327.2,280.4 L334.6,280 L332.8,283.2 Z" fill="none" stroke="#1e1e1e" stroke-width="0.5"/>
<line x1="323.8" y1="284.2" x2="326" y2="283.4" stroke="#1e1e1e" stroke-width="0.5"/>
<rect x="295.6" y="268.7" width="3.1" height="27.7" fill="none" stroke="#1e1e1e" stroke-width="0.55"/>
<text x="309.4" y="282" font-size="6.3" text-anchor="middle" fill="#151515" stroke="#151515" stroke-width="0.12" font-weight="normal" transform="rotate(-90 309.4 282)">STOP</text>
<text x="272.4" y="274.8" font-size="6.5" text-anchor="middle" fill="#151515" stroke="#151515" stroke-width="0.12" font-weight="normal" transform="rotate(134 272.4 274.8)">DO NOT ENTER</text>
<text x="292.2" y="176.6" font-size="6.4" text-anchor="middle" fill="#151515" stroke="#151515" stroke-width="0.12" font-weight="normal" transform="rotate(225 292.2 176.6)">BUSES</text>
<text x="297.4" y="170.8" font-size="6.4" text-anchor="middle" fill="#151515" stroke="#151515" stroke-width="0.12" font-weight="normal" transform="rotate(225 297.4 170.8)">ONLY</text>
<text x="471.9" y="105.4" font-size="6.25" text-anchor="middle" fill="#151515" stroke="#151515" stroke-width="0.12" font-weight="normal" transform="rotate(-90 471.9 105.4)">BUSES</text>
<text x="479.7" y="104.8" font-size="6.25" text-anchor="middle" fill="#151515" stroke="#151515" stroke-width="0.12" font-weight="normal" transform="rotate(-90 479.7 104.8)">ONLY</text>
<text x="663.9" y="105.4" font-size="6.25" text-anchor="middle" fill="#151515" stroke="#151515" stroke-width="0.12" font-weight="normal" transform="rotate(-90 663.9 105.4)">BUSES</text>
<text x="671.7" y="104.8" font-size="6.25" text-anchor="middle" fill="#151515" stroke="#151515" stroke-width="0.12" font-weight="normal" transform="rotate(-90 671.7 104.8)">ONLY</text>
<rect x="517.4" y="97.8" width="11.2" height="11.4" fill="#fff" stroke="#1e1e1e" stroke-width="0.6"/>
<text x="523" y="105" font-size="4.2" text-anchor="middle" fill="#151515" stroke="#151515" stroke-width="0.07" font-weight="normal">5</text>
<text x="531" y="105" font-size="4" text-anchor="start" fill="#151515" stroke="#151515" stroke-width="0.07" font-weight="normal">TYP</text>
<path d="M505.9,91.2 L512.3,103.5 H517.4" fill="none" stroke="#1e1e1e" stroke-width="0.5"/>
<path d="M505.9,91.2 L507.9,93.4 L506.3,94.2 Z" fill="#111" stroke="#111" stroke-width="0.3"/>
<rect x="421.4" y="155.7" width="11.2" height="11.4" fill="#fff" stroke="#1e1e1e" stroke-width="0.6"/>
<text x="427" y="162.9" font-size="4.2" text-anchor="middle" fill="#151515" stroke="#151515" stroke-width="0.07" font-weight="normal">4</text>
<line x1="406.3" y1="161.4" x2="421.4" y2="161.4" stroke="#1e1e1e" stroke-width="0.5"/>
<path d="M406.3,161.4 L409.6,160.5 L409.6,162.3 Z" fill="#111" stroke="#111" stroke-width="0.3"/>
<rect x="517.3" y="155.7" width="11.2" height="11.4" fill="#fff" stroke="#1e1e1e" stroke-width="0.6"/>
<text x="522.9" y="162.9" font-size="4.2" text-anchor="middle" fill="#151515" stroke="#151515" stroke-width="0.07" font-weight="normal">2</text>
<text x="530.9" y="162.9" font-size="4" text-anchor="start" fill="#151515" stroke="#151515" stroke-width="0.07" font-weight="normal">TYP</text>
<path d="M517.3,161.4 H511.8 L508.5,173" fill="none" stroke="#1e1e1e" stroke-width="0.5"/>
<path d="M508.5,173 L508.5,170 L510,170.4 Z" fill="#111" stroke="#111" stroke-width="0.3"/>
<rect x="676.2" y="155.2" width="11.2" height="11.4" fill="#fff" stroke="#1e1e1e" stroke-width="0.6"/>
<text x="681.8" y="162.4" font-size="4.2" text-anchor="middle" fill="#151515" stroke="#151515" stroke-width="0.07" font-weight="normal">3</text>
<text x="689.8" y="162.4" font-size="4" text-anchor="start" fill="#151515" stroke="#151515" stroke-width="0.07" font-weight="normal">TYP</text>
<path d="M676.2,160.9 H670 L660.5,154.6" fill="none" stroke="#1e1e1e" stroke-width="0.5"/>
<path d="M507.3,300.4 H539.4 M507.3,300.4 L522.7,289.5 M539.4,300.4 L524.4,311.3" fill="none" stroke="#1e1e1e" stroke-width="0.6"/>
<rect x="516.9" y="294.6" width="11.8" height="11.3" rx="1.2" fill="#fff" stroke="#2a2a2a" stroke-width="0.6"/>
<text x="522.9" y="302" font-size="4.4" text-anchor="middle" fill="#151515" stroke="#151515" stroke-width="0.07" font-weight="normal">1</text>
<path d="M522.7,289.5 L519.6,290.4 L520.9,292.2 Z" fill="#111" stroke="#111" stroke-width="0.3"/>
<path d="M524.4,311.3 L527.5,310.4 L526.2,308.6 Z" fill="#111" stroke="#111" stroke-width="0.3"/>
<text x="526.5" y="275" font-size="4" text-anchor="middle" fill="#151515" stroke="#151515" stroke-width="0.07" font-weight="normal">ASPHALT PARKING</text>
<text x="526.5" y="279.9" font-size="4" text-anchor="middle" fill="#151515" stroke="#151515" stroke-width="0.07" font-weight="normal">LOT</text>
<path d="M453.55,153 L457.75,150.4 L457.75,151.7 L464.85,151.7 L464.85,154.3 L457.75,154.3 L457.75,155.6 Z" fill="none" stroke="#1e1e1e" stroke-width="0.55"/>
<path d="M647.95,153 L652.15,150.4 L652.15,151.7 L659.25,151.7 L659.25,154.3 L652.15,154.3 L652.15,155.6 Z" fill="none" stroke="#1e1e1e" stroke-width="0.55"/>
<path d="M456.35,293.4 L460.55,290.8 L460.55,292.1 L467.65,292.1 L467.65,294.7 L460.55,294.7 L460.55,296 Z" fill="none" stroke="#1e1e1e" stroke-width="0.55"/>
<path d="M661.95,293.4 L666.15,290.8 L666.15,292.1 L673.25,292.1 L673.25,294.7 L666.15,294.7 L666.15,296 Z" fill="none" stroke="#1e1e1e" stroke-width="0.55"/>
<path d="M756.7,217.75 L759.3,221.95 L758,221.95 L758,229.05 L755.4,229.05 L755.4,221.95 L754.1,221.95 Z" fill="none" stroke="#1e1e1e" stroke-width="0.55"/>
<path d="M740,356.95 L742.6,361.15 L741.3,361.15 L741.3,368.25 L738.7,368.25 L738.7,361.15 L737.4,361.15 Z" fill="none" stroke="#1e1e1e" stroke-width="0.55"/>
<path d="M773.4,356.95 L776,361.15 L774.7,361.15 L774.7,368.25 L772.1,368.25 L772.1,361.15 L770.8,361.15 Z" fill="none" stroke="#1e1e1e" stroke-width="0.55"/>
<path d="M176.4,355.2 l2.3,0.6 q-0.6,4.6 -3.4,8.2 l1.5,1.1 l-4.6,1.7 l-0.2,-5 l1.5,1.1 q2.4,-3.2 2.9,-7.7 Z" fill="none" stroke="#1e1e1e" stroke-width="0.5"/>
<path d="M201.6,355.2 l-2.3,0.6 q0.6,4.6 3.4,8.2 l-1.5,1.1 l4.6,1.7 l0.2,-5 l-1.5,1.1 q-2.4,-3.2 -2.9,-7.7 Z" fill="none" stroke="#1e1e1e" stroke-width="0.5"/>
<line x1="580.6" y1="173" x2="580.6" y2="368.5" stroke="#1e1e1e" stroke-width="0.5"/>
<line x1="575.4" y1="91" x2="575.4" y2="118.6" stroke="#1e1e1e" stroke-width="0.5"/>
<line x1="573.6" y1="89.2" x2="577.2" y2="92.8" stroke="#111" stroke-width="0.8"/>
<line x1="573.6" y1="116.8" x2="577.2" y2="120.4" stroke="#111" stroke-width="0.8"/>
<line x1="578.8" y1="171.2" x2="582.4" y2="174.8" stroke="#111" stroke-width="0.8"/>
<line x1="578.8" y1="261.5" x2="582.4" y2="265.1" stroke="#111" stroke-width="0.8"/>
<line x1="578.8" y1="321.2" x2="582.4" y2="324.8" stroke="#111" stroke-width="0.8"/>
<path d="M580.6,213.2 L579.8,210 L581.4,210 Z" fill="#111" stroke="#111" stroke-width="0.3"/>
<path d="M580.6,222.4 L579.8,225.6 L581.4,225.6 Z" fill="#111" stroke="#111" stroke-width="0.3"/>
<path d="M580.6,368.4 L579.8,365.2 L581.4,365.2 Z" fill="#111" stroke="#111" stroke-width="0.3"/>
<line x1="580.6" y1="173" x2="586.6" y2="173" stroke="#1e1e1e" stroke-width="0.4"/>
<line x1="580.6" y1="263.3" x2="586.6" y2="263.3" stroke="#1e1e1e" stroke-width="0.4"/>
<line x1="580.6" y1="323" x2="586.6" y2="323" stroke="#1e1e1e" stroke-width="0.4"/>
<text x="574" y="107.6" font-size="4.3" text-anchor="middle" fill="#151515" stroke="#151515" stroke-width="0.07" font-weight="normal" transform="rotate(-90 574 107.6)">12'-0&quot;</text>
<text x="579.2" y="191" font-size="4.3" text-anchor="middle" fill="#151515" stroke="#151515" stroke-width="0.07" font-weight="normal" transform="rotate(-90 579.2 191)">18'-0&quot;</text>
<text x="585.8" y="191" font-size="4.3" text-anchor="middle" fill="#151515" stroke="#151515" stroke-width="0.07" font-weight="normal" transform="rotate(-90 585.8 191)">TYP</text>
<text x="579.2" y="245.7" font-size="4.3" text-anchor="middle" fill="#151515" stroke="#151515" stroke-width="0.07" font-weight="normal" transform="rotate(-90 579.2 245.7)">18'-0&quot;</text>
<text x="579.2" y="291.3" font-size="4.3" text-anchor="middle" fill="#151515" stroke="#151515" stroke-width="0.07" font-weight="normal" transform="rotate(-90 579.2 291.3)">26'-0&quot;</text>
<text x="579.2" y="346" font-size="4.3" text-anchor="middle" fill="#151515" stroke="#151515" stroke-width="0.07" font-weight="normal" transform="rotate(-90 579.2 346)">18'-0&quot;</text>
<line x1="610.6" y1="184.8" x2="631.2" y2="184.8" stroke="#1e1e1e" stroke-width="0.5"/>
<path d="M610.6,184.8 L613.4,184 L613.4,185.6 Z" fill="#111" stroke="#111" stroke-width="0.3"/>
<path d="M631.2,184.8 L628.4,184 L628.4,185.6 Z" fill="#111" stroke="#111" stroke-width="0.3"/>
<text x="621" y="183.2" font-size="4.3" text-anchor="middle" fill="#151515" stroke="#151515" stroke-width="0.07" font-weight="normal">9'-0&quot;</text>
<text x="621" y="190.6" font-size="4.3" text-anchor="middle" fill="#151515" stroke="#151515" stroke-width="0.07" font-weight="normal">TYP</text>
<path d="M613.6,14.6 V43.9 A12,12 0 0 0 625.6,55.9 H644 A12,12 0 0 0 656,43.9 V14.6" fill="none" stroke="#1e1e1e" stroke-width="0.6"/>
<line x1="576.4" y1="43.6" x2="594.4" y2="43.6" stroke="#1e1e1e" stroke-width="0.6"/>
<path d="M594.4,43.6 V50 Q595.4,45.2 600.6,44 Q605.8,45.2 606.8,50 V43.6" fill="none" stroke="#1e1e1e" stroke-width="0.55"/>
<line x1="606.8" y1="43.6" x2="613.6" y2="43.6" stroke="#1e1e1e" stroke-width="0.6"/>
<path d="M613.6,43.6 L656,43.6" fill="none" stroke="#1e1e1e" stroke-width="0.6"/>
<circle cx="616.1" cy="43.6" r="0.8" fill="#fff" stroke="#1e1e1e" stroke-width="0.45"/>
<circle cx="629.5" cy="43.6" r="0.8" fill="#fff" stroke="#1e1e1e" stroke-width="0.45"/>
<circle cx="642.9" cy="43.6" r="0.8" fill="#fff" stroke="#1e1e1e" stroke-width="0.45"/>
<path d="M656,43.6 H660 V50 Q661,45.2 666.2,44 Q671.4,45.2 672.4,50 V43.6 H690.3" fill="none" stroke="#1e1e1e" stroke-width="0.55"/>
<text x="602" y="31.9" font-size="4" text-anchor="middle" fill="#151515" stroke="#151515" stroke-width="0.07" font-weight="normal">CONCRETE</text>
<text x="635" y="37.1" font-size="4.1" text-anchor="middle" fill="#151515" stroke="#151515" stroke-width="0.07" font-weight="normal">LANDSCAPE</text>
<path d="M598.41,15.35 C598.67,15.92 599.07,18.25 599.98,18.76 C600.89,19.28 602.85,17.98 603.89,18.45 C604.92,18.91 605.39,21.47 606.18,21.54 C606.97,21.62 607.59,19.42 608.63,18.9 C609.67,18.38 611.67,17.98 612.42,18.43 C613.18,18.89 612.48,21.13 613.16,21.62 C613.84,22.1 615.72,20.98 616.49,21.35 C617.25,21.72 617.18,23.23 617.76,23.82 C618.34,24.41 619.21,24.78 619.98,24.89 C620.75,25 621.58,24.59 622.38,24.47 C623.18,24.35 624.02,24.44 624.8,24.19 C625.58,23.93 626.23,22.93 627.06,22.95 C627.88,22.97 628.86,24.48 629.75,24.31 C630.65,24.14 631.59,22.1 632.43,21.93 C633.26,21.77 633.93,23.01 634.78,23.31 C635.62,23.61 636.67,23.4 637.5,23.75 C638.33,24.1 639.02,24.89 639.74,25.39 C640.47,25.9 640.94,26.63 641.86,26.78 C642.78,26.93 644.38,26.85 645.26,26.29 C646.15,25.72 646.42,24.27 647.15,23.38 C647.89,22.49 648.83,21.43 649.69,20.96 C650.55,20.5 651.35,20.46 652.31,20.6 C653.26,20.74 654.59,22.16 655.4,21.82 C656.2,21.48 656.34,19.01 657.15,18.58 C657.96,18.15 659.47,19.54 660.24,19.24 C661.01,18.93 661.13,17.46 661.76,16.76 C662.38,16.05 663.63,15.29 664,15" fill="none" stroke="#3a3a3a" stroke-width="0.55"/>
<line x1="680" y1="62.4" x2="689" y2="62.4" stroke="#1e1e1e" stroke-width="0.5"/>
<rect x="690.3" y="11.6" width="85.3" height="41" fill="#818181" stroke="none" stroke-width="0"/>
<path d="M690.3,14.6 V52.6 H775.6 V14.6" fill="none" stroke="#111" stroke-width="1.3"/>
<line x1="720" y1="16" x2="775" y2="48" stroke="#919191" stroke-width="0.5"/>
<line x1="692" y1="40" x2="740" y2="16" stroke="#919191" stroke-width="0.5"/>
<text x="731" y="25.7" font-size="4" text-anchor="middle" fill="#151515" stroke="#151515" stroke-width="0.07" font-weight="normal">CLASSROOM</text>
<text x="731" y="30.7" font-size="4" text-anchor="middle" fill="#151515" stroke="#151515" stroke-width="0.07" font-weight="normal">BUILDING B</text>
<path d="M783.3,14.6 V65.4 H697" fill="none" stroke="#c6c6c6" stroke-width="1.0" stroke-dasharray="5 1.5"/>
<path d="M729.25,63.51 C729.02,64.19 731.01,64.62 730.83,65.2 C730.66,65.78 728.33,66.37 728.22,67.01 C728.11,67.64 730.32,68.54 730.18,69.03 C730.03,69.51 727.59,69.19 727.34,69.91 C727.09,70.64 729.04,72.79 728.66,73.36 C728.28,73.93 725.49,72.82 725.06,73.35 C724.63,73.87 726.41,76.13 726.1,76.49 C725.79,76.85 723.85,75.29 723.2,75.49 C722.54,75.68 722.71,77.43 722.17,77.66 C721.64,77.89 720.44,76.48 719.99,76.87 C719.55,77.26 720.01,79.56 719.51,80.01 C719.01,80.46 717.69,79.1 717.01,79.55 C716.34,80.01 716.07,82.54 715.45,82.74 C714.83,82.93 714.01,80.77 713.3,80.71 C712.59,80.65 711.87,82.65 711.21,82.38 C710.55,82.11 710.06,79.35 709.33,79.11 C708.61,78.86 707.35,81.11 706.87,80.93 C706.39,80.75 706.92,78.45 706.46,78.04 C706,77.64 704.61,78.9 704.1,78.48 C703.6,78.07 704.06,75.96 703.42,75.55 C702.79,75.15 700.77,76.46 700.31,76.06 C699.84,75.65 700.99,73.56 700.65,73.13 C700.3,72.7 698.38,74.07 698.24,73.49 C698.09,72.92 699.95,70.48 699.77,69.68 C699.6,68.88 697.36,69.13 697.2,68.71 C697.04,68.28 699.07,67.7 698.84,67.12 C698.6,66.54 696,65.78 695.79,65.23 C695.58,64.68 697.67,64.52 697.57,63.82 C697.47,63.12 695.33,61.67 695.18,61.04 C695.03,60.4 696.53,60.57 696.66,60.03 C696.78,59.49 695.51,58.4 695.92,57.8 C696.34,57.2 698.77,57.07 699.17,56.44 C699.56,55.81 698.08,54.48 698.32,54.02 C698.55,53.56 700.33,54.26 700.6,53.69 C700.87,53.11 699.58,51.1 699.91,50.59 C700.24,50.07 702.06,51.04 702.6,50.59 C703.15,50.14 702.51,48.2 703.18,47.88 C703.84,47.57 705.95,48.99 706.59,48.7 C707.24,48.42 706.56,46.29 707.05,46.18 C707.54,46.06 708.76,47.93 709.53,48.01 C710.31,48.09 711.12,46.59 711.7,46.65 C712.28,46.71 712.44,48.52 713,48.38 C713.56,48.23 714.39,45.76 715.04,45.8 C715.69,45.83 716.25,48.45 716.92,48.59 C717.58,48.73 718.53,46.52 719.01,46.63 C719.5,46.74 719.18,49.03 719.81,49.25 C720.44,49.48 722.22,47.7 722.78,47.97 C723.35,48.25 722.65,50.37 723.21,50.91 C723.77,51.45 725.7,50.78 726.14,51.23 C726.57,51.68 725.32,53.27 725.8,53.61 C726.28,53.94 728.65,52.74 729.04,53.26 C729.44,53.78 727.77,56.1 728.18,56.7 C728.6,57.3 731.33,56.31 731.55,56.86 C731.78,57.41 729.41,59.3 729.52,60 C729.63,60.7 732.28,60.49 732.23,61.08 C732.19,61.66 729.48,62.82 729.25,63.51 Z" fill="none" stroke="#333" stroke-width="0.5"/>
<circle cx="729.46" cy="58.21" r="0.9" fill="none" stroke="#333" stroke-width="0.4"/>
<circle cx="725.82" cy="52" r="0.9" fill="none" stroke="#333" stroke-width="0.4"/>
<circle cx="699.75" cy="53.23" r="0.9" fill="none" stroke="#333" stroke-width="0.4"/>
<circle cx="712.4" cy="63" r="0.3" fill="#1e1e1e" stroke="#1e1e1e" stroke-width="0.3"/>
<line x1="775.6" y1="52.3" x2="866.9" y2="52.3" stroke="#444" stroke-width="0.6"/>
<path d="M795.3,50.8 l2.4,2.4 M795.3,53.2 l2.4,-2.4" fill="none" stroke="#1e1e1e" stroke-width="0.45"/>
<path d="M818.8,50.8 l2.4,2.4 M818.8,53.2 l2.4,-2.4" fill="none" stroke="#1e1e1e" stroke-width="0.45"/>
<path d="M842.3,50.8 l2.4,2.4 M842.3,53.2 l2.4,-2.4" fill="none" stroke="#1e1e1e" stroke-width="0.45"/>
<line x1="765.6" y1="112" x2="867.4" y2="112" stroke="#1e1e1e" stroke-width="0.65"/>
<rect x="852.3" y="112" width="15.1" height="20.8" fill="none" stroke="#111" stroke-width="0.9"/>
<rect x="843.3" y="132.8" width="24.1" height="46.7" fill="none" stroke="#111" stroke-width="0.9"/>
<line x1="804.6" y1="187" x2="843.3" y2="179.5" stroke="#1e1e1e" stroke-width="0.65"/>
<path d="M852.3,116 H846.6 Q846.8,122 852.3,123.6 M852.3,131 H848.6 Q848.2,126 852.3,123.6" fill="none" stroke="#1e1e1e" stroke-width="0.55"/>
<path d="M843.3,140 L829,148.4 L843.3,156 M843.3,156 L829,163.8 L843.3,172.6 M829,148.4 Q833,141.8 840.8,139.8 M829,163.8 Q833,158 841.4,156.2" fill="none" stroke="#1e1e1e" stroke-width="0.55"/>
<circle cx="867.6" cy="127" r="0.8" fill="#fff" stroke="#1e1e1e" stroke-width="0.45"/>
<circle cx="867.6" cy="140.5" r="0.8" fill="#fff" stroke="#1e1e1e" stroke-width="0.45"/>
<circle cx="867.6" cy="173" r="0.8" fill="#fff" stroke="#1e1e1e" stroke-width="0.45"/>
<path d="M16.7,380.3 L871,379.3" fill="none" stroke="#1a1a1a" stroke-width="0.95" stroke-dasharray="23 5 2.5 5"/>
<path d="M871,379.3 L866.6,14.6" fill="none" stroke="#222" stroke-width="0.75" stroke-dasharray="17 4 2.5 4"/>
<line x1="871" y1="379.3" x2="870.67" y2="352" stroke="#111" stroke-width="1.3"/>
<line x1="852" y1="379.3" x2="871" y2="379.3" stroke="#111" stroke-width="1.3"/>
<line x1="867.97" y1="128" x2="868.5" y2="172" stroke="#111" stroke-width="1.0"/>
<line x1="866.85" y1="35" x2="867.12" y2="58" stroke="#111" stroke-width="1.0"/>
<line x1="867.39" y1="80" x2="867.68" y2="104" stroke="#111" stroke-width="1.0"/>
<path d="M865.42,14.8 l2.4,2.4 M865.42,17.2 l2.4,-2.4" fill="none" stroke="#1e1e1e" stroke-width="0.45"/>
<path d="M865.69,37.8 l2.4,2.4 M865.69,40.2 l2.4,-2.4" fill="none" stroke="#1e1e1e" stroke-width="0.45"/>
<path d="M866.15,75.8 l2.4,2.4 M866.15,78.2 l2.4,-2.4" fill="none" stroke="#1e1e1e" stroke-width="0.45"/>
<path d="M866.49,103.8 l2.4,2.4 M866.49,106.2 l2.4,-2.4" fill="none" stroke="#1e1e1e" stroke-width="0.45"/>
<line x1="867.43" y1="83.3" x2="999.6" y2="81.3" stroke="#555" stroke-width="0.55"/>
<line x1="869.12" y1="223" x2="1000" y2="222" stroke="#555" stroke-width="0.55"/>
<line x1="871" y1="379.2" x2="1000" y2="378.2" stroke="#555" stroke-width="0.55"/>
<text x="838" y="236.5" font-size="4.1" text-anchor="middle" fill="#151515" stroke="#151515" stroke-width="0.07" font-weight="normal">LANDSCAPE</text>
<line x1="792" y1="335.4" x2="806" y2="335.4" stroke="#1e1e1e" stroke-width="0.65"/>
<line x1="806" y1="335.4" x2="870.6" y2="379.3" stroke="#1e1e1e" stroke-width="0.65"/>
<line x1="804.6" y1="350" x2="850.8" y2="380" stroke="#1e1e1e" stroke-width="0.65"/>
<path d="M16.7,395.8 L130,396.5 H628 L741,402.4 L832,405.2 H1000" fill="none" stroke="#555" stroke-width="0.6"/>
<path d="M16.7,396.5 L130,397.9 H640 L752,403.8 L832,406.8 H1000" fill="none" stroke="#555" stroke-width="0.6"/>
<path d="M16.7,401.1 H70 L130,402.4 H640 L795.6,409.6 H1000" fill="none" stroke="#555" stroke-width="0.55"/>
<path d="M16.7,401.5 L130,402.8 H628 L795.6,411.2 H1000" fill="none" stroke="#555" stroke-width="0.55"/>
<line x1="153.4" y1="380.2" x2="153.4" y2="402.8" stroke="#1e1e1e" stroke-width="0.6"/>
<line x1="69.2" y1="381.6" x2="400" y2="381.6" stroke="#444" stroke-width="0.5"/>
<circle cx="447.8" cy="389.2" r="1.7" fill="none" stroke="#1e1e1e" stroke-width="0.5"/>
<circle cx="447.8" cy="389.2" r="0.5" fill="#1e1e1e" stroke="#1e1e1e" stroke-width="0.3"/>
<path d="M446.2,387.4 l-0.9,-0.9 M449.4,387.4 l0.9,-0.9" fill="none" stroke="#1e1e1e" stroke-width="0.5"/>
<line x1="224.2" y1="380.2" x2="224.2" y2="402.8" stroke="#1e1e1e" stroke-width="0.6"/>
<path d="M58.8,265.6 L34.6,269 L24.4,281 L16.7,282.3" fill="none" stroke="#555" stroke-width="1.2"/>
<line x1="58.8" y1="265.6" x2="109.4" y2="312.2" stroke="#3a3a3a" stroke-width="1.1"/>
<line x1="78.5" y1="344.8" x2="44.9" y2="379.7" stroke="#1e1e1e" stroke-width="0.6"/>
<line x1="109.4" y1="311.4" x2="78.5" y2="344.8" stroke="#3a3a3a" stroke-width="1.2"/>
<path d="M139.7,313.6 L69.2,381.8 L140.5,381.8 Z" fill="none" stroke="#1e1e1e" stroke-width="0.6"/>
<line x1="140.5" y1="381.8" x2="154" y2="381.8" stroke="#1e1e1e" stroke-width="0.6"/>
<text x="56" y="315.2" font-size="4.1" text-anchor="middle" fill="#151515" stroke="#151515" stroke-width="0.07" font-weight="normal">LANDSCAPE</text>
<text x="103" y="236.8" font-size="4" text-anchor="middle" fill="#151515" stroke="#151515" stroke-width="0.07" font-weight="normal">CONCRETE</text>
<line x1="161.5" y1="198" x2="175.6" y2="198" stroke="#1e1e1e" stroke-width="0.6"/>
<circle cx="38.8" cy="375.4" r="0.9" fill="none" stroke="#1e1e1e" stroke-width="0.4"/>
<path d="M16.48,306.26 C16.57,305.46 16.45,302.94 17.05,301.47 C17.65,299.99 19.16,299.14 20.07,297.39 C20.98,295.65 21.07,291.89 22.5,290.99 C23.93,290.09 26.75,291.23 28.63,291.98 C30.51,292.72 32.05,294.68 33.77,295.45 C35.5,296.23 37.48,296.84 38.96,296.65 C40.45,296.46 41.65,295.04 42.69,294.33 C43.73,293.62 43.84,292.78 45.2,292.37 C46.56,291.97 49.39,291.31 50.84,291.89 C52.29,292.47 52.73,295.06 53.89,295.86 C55.05,296.65 56.15,296.81 57.78,296.68 C59.41,296.55 61.43,295.51 63.68,295.06 C65.93,294.62 69.46,293.71 71.28,294.01 C73.1,294.32 73.81,295.44 74.58,296.91 C75.35,298.38 75.03,301.56 75.91,302.86 C76.8,304.16 78.66,304.08 79.88,304.71 C81.1,305.34 82.17,305.78 83.25,306.65 C84.33,307.52 84.88,309.26 86.36,309.95 C87.83,310.64 90.72,310.02 92.11,310.79 C93.49,311.56 93.97,313.18 94.68,314.58 C95.39,315.99 95.65,317.81 96.36,319.2 C97.08,320.59 98.1,321.65 98.97,322.94 C99.85,324.23 100.67,325.67 101.63,326.94 C102.59,328.2 103.08,329.89 104.72,330.54 C106.35,331.19 110.16,329.99 111.43,330.83 C112.7,331.66 112.82,334.25 112.36,335.54 C111.89,336.84 109.72,337.41 108.65,338.59 C107.57,339.78 106.7,341.63 105.91,342.64 C105.12,343.65 103.92,343.57 103.9,344.67 C103.88,345.77 104.66,348.17 105.78,349.22 C106.9,350.27 109.93,349.57 110.62,350.97 C111.31,352.36 109.52,355.92 109.94,357.59 C110.35,359.27 111.85,360.02 113.1,361.01 C114.35,361.99 116.02,362.58 117.44,363.51 C118.86,364.43 121.2,365.11 121.62,366.56 C122.03,368.02 119.6,370.69 119.92,372.23 C120.23,373.77 122.88,374.73 123.5,375.83 C124.12,376.92 124.01,377.6 123.64,378.81 C123.27,380.02 121.81,381.5 121.28,383.08 C120.76,384.66 120.96,386.78 120.49,388.31 C120.02,389.83 118.52,390.79 118.44,392.23 C118.36,393.68 119.2,395.58 120.03,396.97 C120.86,398.37 122.23,399.07 123.42,400.62 C124.61,402.17 127.2,404.77 127.17,406.29 C127.13,407.81 124.73,408.89 123.2,409.74 C121.67,410.6 119.18,410.03 118,411.41 C116.82,412.8 117.15,416.5 116.11,418.07 C115.07,419.63 113.52,420.38 111.75,420.8 C109.99,421.22 107.24,420.08 105.54,420.61 C103.85,421.14 102.26,423.43 101.6,424" fill="none" stroke="#3a3a3a" stroke-width="0.55"/>
<path d="M26,308 C26.5,306.75 28.5,305.67 30,305.5 C31.5,305.33 34,305.92 35,307 C36,308.08 36.67,310.67 36,312 C35.33,313.33 32.5,314.83 31,315 C29.5,315.17 27.83,314.17 27,313 C26.17,311.83 25.5,309.25 26,308 Z" fill="none" stroke="#3a3a3a" stroke-width="0.5"/>
<circle cx="386.6" cy="215.7" r="1.4" fill="#999" stroke="#1a1a1a" stroke-width="1.0"/>
<path d="M388.01,201.58 C388.06,202.33 390.32,203.48 390.32,204.12 C390.31,204.76 388.13,204.87 388,205.41 C387.87,205.95 389.69,206.78 389.53,207.38 C389.37,207.99 387.42,208.33 387.05,209.03 C386.68,209.73 387.69,211.19 387.29,211.59 C386.88,211.99 385.19,211.02 384.62,211.43 C384.05,211.84 384.37,213.63 383.85,214.05 C383.34,214.46 381.89,213.61 381.51,213.93 C381.13,214.26 382.06,215.78 381.58,215.99 C381.1,216.19 379.33,214.85 378.64,215.18 C377.95,215.5 377.89,217.63 377.44,217.92 C376.98,218.21 376.4,216.59 375.92,216.91 C375.45,217.23 375.19,219.66 374.58,219.84 C373.96,220.02 372.94,218.1 372.24,218 C371.54,217.9 370.91,219.44 370.37,219.25 C369.83,219.06 369.69,217.1 369.01,216.86 C368.33,216.62 366.91,217.95 366.28,217.79 C365.64,217.62 365.87,216 365.18,215.87 C364.5,215.73 362.83,217.08 362.17,216.97 C361.51,216.86 361.82,215.49 361.23,215.21 C360.63,214.93 358.93,215.74 358.61,215.29 C358.28,214.83 359.59,213.19 359.3,212.49 C359.01,211.79 357.01,211.82 356.87,211.09 C356.72,210.35 358.65,208.64 358.41,208.08 C358.17,207.53 355.62,208.23 355.44,207.75 C355.26,207.27 357.46,205.97 357.35,205.23 C357.24,204.49 354.91,203.84 354.78,203.33 C354.66,202.82 356.52,202.78 356.58,202.17 C356.64,201.56 355.13,200.34 355.13,199.69 C355.14,199.03 356.44,198.84 356.6,198.24 C356.77,197.65 355.81,196.6 356.1,196.12 C356.4,195.65 358.14,195.97 358.39,195.39 C358.65,194.8 357.41,193.12 357.64,192.59 C357.87,192.06 359.44,192.74 359.76,192.2 C360.08,191.66 359.28,189.96 359.56,189.35 C359.83,188.73 361.02,189.08 361.43,188.51 C361.84,187.94 361.44,186.11 362.02,185.94 C362.6,185.77 364.2,187.77 364.91,187.48 C365.63,187.18 365.66,184.37 366.31,184.19 C366.97,184.02 368.14,186.48 368.84,186.43 C369.55,186.38 369.99,184.06 370.54,183.88 C371.09,183.7 371.43,185.44 372.12,185.34 C372.82,185.24 374.05,183.16 374.72,183.27 C375.39,183.38 375.58,185.73 376.13,185.99 C376.68,186.24 377.54,184.42 378.03,184.79 C378.53,185.15 378.62,187.73 379.08,188.18 C379.53,188.63 380.31,187.18 380.76,187.51 C381.21,187.83 381.2,189.67 381.78,190.11 C382.36,190.56 383.95,189.75 384.24,190.16 C384.52,190.57 383.05,192.18 383.49,192.57 C383.93,192.96 386.44,192.13 386.89,192.49 C387.34,192.84 385.77,194.07 386.19,194.69 C386.61,195.3 388.98,195.57 389.39,196.17 C389.79,196.77 388.49,197.7 388.6,198.27 C388.71,198.83 390.11,199.02 390.02,199.57 C389.92,200.12 387.96,200.82 388.01,201.58 Z" fill="none" stroke="#333" stroke-width="0.5"/>
<circle cx="388.43" cy="197.46" r="0.9" fill="none" stroke="#333" stroke-width="0.4"/>
<circle cx="355.61" cy="199.13" r="0.9" fill="none" stroke="#333" stroke-width="0.4"/>
<circle cx="369.91" cy="185.16" r="0.9" fill="none" stroke="#333" stroke-width="0.4"/>
<circle cx="372.3" cy="202.3" r="0.3" fill="#1e1e1e" stroke="#1e1e1e" stroke-width="0.3"/>
<path d="M722.73,199.04 C722.7,199.77 724.01,200.78 723.85,201.49 C723.69,202.2 721.94,202.58 721.75,203.28 C721.55,203.99 722.96,205.19 722.69,205.7 C722.42,206.21 720.32,205.7 720.11,206.32 C719.9,206.95 721.65,208.84 721.42,209.45 C721.2,210.06 719.31,209.5 718.77,209.99 C718.23,210.48 718.6,211.99 718.18,212.39 C717.77,212.8 716.81,212.01 716.27,212.43 C715.73,212.85 715.62,214.65 714.95,214.91 C714.28,215.17 712.92,213.78 712.25,213.98 C711.58,214.19 711.51,216.18 710.92,216.16 C710.33,216.15 709.3,213.92 708.72,213.9 C708.15,213.88 708.01,215.89 707.48,216.02 C706.95,216.16 706.32,214.62 705.55,214.71 C704.78,214.81 703.42,216.62 702.84,216.59 C702.26,216.55 702.69,214.63 702.05,214.51 C701.41,214.38 699.51,216.15 699,215.83 C698.5,215.51 699.48,212.98 699.03,212.59 C698.57,212.2 696.85,213.78 696.25,213.49 C695.65,213.19 695.98,211.29 695.41,210.83 C694.84,210.37 693.32,211.19 692.83,210.71 C692.34,210.23 692.97,208.48 692.5,207.96 C692.03,207.45 690.32,208.08 690.01,207.61 C689.69,207.15 690.9,205.87 690.61,205.19 C690.32,204.51 688.27,204.23 688.26,203.53 C688.25,202.84 690.46,201.64 690.57,201 C690.68,200.35 688.87,200.23 688.9,199.66 C688.93,199.1 690.6,198.3 690.74,197.6 C690.88,196.9 689.62,196.14 689.76,195.47 C689.9,194.79 691.44,194.22 691.58,193.56 C691.73,192.9 690.23,191.98 690.62,191.52 C691,191.06 693.46,191.31 693.92,190.8 C694.38,190.28 693.03,188.77 693.39,188.41 C693.74,188.05 695.59,189.01 696.05,188.63 C696.51,188.24 695.64,186.41 696.15,186.1 C696.66,185.8 698.57,187.33 699.11,186.79 C699.65,186.26 698.89,183.32 699.37,182.89 C699.84,182.47 701.33,184.44 701.95,184.23 C702.57,184.02 702.48,181.96 703.1,181.65 C703.73,181.33 704.91,182.44 705.67,182.35 C706.44,182.26 707.11,180.87 707.68,181.08 C708.25,181.3 708.4,183.4 709.08,183.64 C709.77,183.87 711.22,182.29 711.79,182.48 C712.37,182.67 711.95,184.55 712.54,184.77 C713.14,185 714.83,183.48 715.38,183.83 C715.93,184.17 715.26,186.48 715.84,186.86 C716.43,187.24 718.46,185.81 718.89,186.1 C719.31,186.4 718.08,188 718.38,188.65 C718.67,189.3 720.52,189.35 720.65,190 C720.78,190.66 718.9,192 719.13,192.58 C719.37,193.17 721.84,193 722.04,193.51 C722.24,194.02 720,195.03 720.33,195.63 C720.66,196.23 723.62,196.53 724.02,197.09 C724.42,197.66 722.76,198.31 722.73,199.04 Z" fill="none" stroke="#333" stroke-width="0.5"/>
<circle cx="718.54" cy="210.51" r="0.9" fill="none" stroke="#333" stroke-width="0.4"/>
<circle cx="709.8" cy="215.53" r="0.9" fill="none" stroke="#333" stroke-width="0.4"/>
<circle cx="705.8" cy="215.89" r="0.9" fill="none" stroke="#333" stroke-width="0.4"/>
<path d="M874.76,206.47 C874.89,207.16 877.51,207.92 877.64,208.47 C877.76,209.03 875.54,209.15 875.51,209.8 C875.47,210.46 877.55,211.81 877.43,212.4 C877.3,212.99 875.23,212.7 874.78,213.32 C874.32,213.95 875.11,215.62 874.67,216.15 C874.24,216.68 872.5,215.97 872.17,216.52 C871.85,217.07 873.22,219.04 872.74,219.46 C872.26,219.87 869.85,218.53 869.29,219.03 C868.74,219.53 869.88,221.98 869.42,222.45 C868.95,222.93 867.19,221.63 866.52,221.87 C865.84,222.11 865.96,223.87 865.37,223.89 C864.78,223.9 863.62,221.95 863,221.97 C862.38,222 862.23,224.17 861.65,224.02 C861.07,223.87 860.21,221.13 859.52,221.08 C858.82,221.02 858.07,223.64 857.48,223.68 C856.88,223.73 856.56,221.48 855.97,221.37 C855.39,221.26 854.58,223.13 853.97,223.03 C853.36,222.94 852.93,220.98 852.3,220.79 C851.66,220.6 850.57,222.18 850.17,221.89 C849.77,221.6 850.45,219.51 849.89,219.03 C849.33,218.54 847.34,219.38 846.81,219 C846.28,218.63 847.14,217.24 846.72,216.77 C846.3,216.3 844.64,216.75 844.29,216.18 C843.94,215.6 845.1,213.85 844.64,213.31 C844.19,212.76 841.82,213.48 841.56,212.92 C841.3,212.35 843.32,210.68 843.1,209.9 C842.88,209.13 840.23,208.85 840.24,208.26 C840.25,207.67 843.04,207.03 843.17,206.36 C843.31,205.69 840.98,204.79 841.07,204.24 C841.16,203.69 843.5,203.64 843.72,203.07 C843.94,202.5 842.1,201.33 842.38,200.82 C842.67,200.32 845.11,200.72 845.41,200.01 C845.7,199.3 843.94,197.25 844.15,196.56 C844.35,195.86 846.27,196.38 846.63,195.82 C847,195.26 845.89,193.61 846.35,193.2 C846.81,192.8 848.69,193.7 849.39,193.4 C850.09,193.1 850.02,191.54 850.56,191.41 C851.1,191.28 852.07,192.83 852.6,192.61 C853.14,192.4 853.15,190.4 853.77,190.1 C854.38,189.8 855.74,191.3 856.29,190.81 C856.84,190.32 856.52,187.36 857.06,187.17 C857.6,186.98 858.76,189.57 859.52,189.65 C860.29,189.73 861.05,187.69 861.65,187.66 C862.26,187.63 862.44,189.21 863.15,189.46 C863.86,189.71 865.38,188.75 865.91,189.16 C866.45,189.57 865.74,191.6 866.35,191.9 C866.95,192.2 868.94,190.67 869.54,190.95 C870.13,191.23 869.44,193.12 869.92,193.58 C870.41,194.03 871.99,193.28 872.45,193.69 C872.9,194.11 872.3,195.55 872.64,196.06 C872.99,196.57 874.34,196.13 874.52,196.75 C874.69,197.37 873.47,199.13 873.71,199.79 C873.95,200.44 875.83,200.2 875.98,200.68 C876.12,201.16 874.45,202.05 874.6,202.65 C874.74,203.25 876.8,203.67 876.83,204.3 C876.86,204.94 874.63,205.77 874.76,206.47 Z" fill="none" stroke="#333" stroke-width="0.5"/>
<circle cx="843.47" cy="200.16" r="0.9" fill="none" stroke="#333" stroke-width="0.4"/>
<circle cx="868.25" cy="191.59" r="0.9" fill="none" stroke="#333" stroke-width="0.4"/>
<circle cx="859.69" cy="223.6" r="0.9" fill="none" stroke="#333" stroke-width="0.4"/>
<path d="M364.32,236.61 C364.09,237.51 363.89,239.12 363.85,240.05 C363.8,240.98 363.51,241.61 364.03,242.18 C364.56,242.75 366.8,242.82 366.98,243.48 C367.16,244.14 365.72,245.2 365.12,246.15 C364.52,247.1 363.89,248.71 363.39,249.19 C362.89,249.66 361.48,248.24 362.12,249.01 C362.76,249.78 367.29,252.97 367.21,253.81 C367.14,254.66 362.73,253.43 361.69,254.06 C360.65,254.68 361.16,256.88 360.98,257.56 C360.8,258.24 360.57,257.4 360.61,258.12 C360.65,258.83 361.19,260.66 361.22,261.83 C361.25,263 361.55,264.84 360.81,265.12 C360.07,265.39 357.57,263.01 356.8,263.47 C356.03,263.94 357.34,267.72 356.18,267.9 C355.02,268.09 350.53,264.33 349.86,264.57 C349.19,264.82 352.7,268.94 352.16,269.35 C351.63,269.76 347.37,266.97 346.67,267.04 C345.96,267.1 348.04,269.11 347.93,269.72 C347.82,270.33 346.99,270.82 346,270.7 C345.01,270.57 342.82,268.91 341.99,268.98 C341.17,269.05 341.36,270.12 341.03,271.12 C340.71,272.13 340.27,273.56 340.06,275 C339.85,276.45 340.13,278.95 339.77,279.79 C339.4,280.63 338.54,280.49 337.87,280.06 C337.19,279.63 336.34,277.05 335.7,277.2 C335.05,277.35 334.44,280.1 334.02,280.98 C333.6,281.85 334.06,282.58 333.16,282.46 C332.25,282.34 329.55,280.24 328.58,280.26 C327.6,280.28 327.86,282.78 327.3,282.58 C326.74,282.38 325.92,278.81 325.22,279.07 C324.52,279.33 323.69,283.6 323.11,284.13 C322.53,284.66 322.51,283.2 321.73,282.25 C320.96,281.31 319.31,279.19 318.45,278.47 C317.58,277.74 316.98,277.9 316.54,277.88 C316.09,277.86 316.42,278.8 315.78,278.36 C315.14,277.93 313.25,275.97 312.69,275.29 C312.13,274.61 313.02,274.08 312.41,274.3 C311.79,274.51 310.05,275.53 309.02,276.57 C307.99,277.6 306.98,280.41 306.23,280.51 C305.47,280.61 304.87,278.04 304.49,277.18 C304.11,276.31 304.59,275.37 303.92,275.3 C303.26,275.24 300.86,277.31 300.48,276.8 C300.09,276.28 302.06,272.93 301.64,272.22 C301.22,271.5 299.26,272.21 297.98,272.51 C296.7,272.81 294.69,273.88 293.96,274.02 C293.23,274.15 294.26,273.68 293.62,273.32 C292.98,272.97 290.43,272.49 290.13,271.88 C289.83,271.27 291.89,270.27 291.81,269.66 C291.74,269.05 290.25,268.59 289.67,268.2 C289.08,267.8 288.87,267.96 288.29,267.31 C287.71,266.66 286.98,264.78 286.17,264.29 C285.37,263.8 284.17,264.44 283.45,264.37 C282.72,264.31 283.08,263.86 281.85,263.91 C280.61,263.97 276.67,265.29 276.02,264.7 C275.37,264.12 278.4,261.2 277.93,260.42 C277.46,259.64 274.43,260.3 273.21,260.02 C271.99,259.75 270.66,259.71 270.62,258.77 C270.58,257.83 272.45,255.57 272.97,254.38 C273.49,253.19 273.48,252.32 273.77,251.64 C274.05,250.97 273.9,251.28 274.67,250.31 C275.43,249.35 278.32,246.92 278.33,245.87 C278.34,244.83 275.25,244.61 274.75,244.06 C274.26,243.51 274.58,243.29 275.35,242.56 C276.13,241.82 278.39,240.33 279.41,239.64 C280.43,238.96 281.34,238.94 281.47,238.44 C281.6,237.95 280.43,237.3 280.19,236.67 C279.95,236.04 280.52,235.43 280.02,234.69 C279.53,233.95 277.13,232.96 277.25,232.23 C277.37,231.5 280.68,231.1 280.75,230.33 C280.81,229.55 277.21,228.05 277.62,227.56 C278.03,227.07 283.18,227.91 283.21,227.4 C283.24,226.88 277.75,225.15 277.81,224.47 C277.87,223.78 282.76,223.76 283.55,223.29 C284.35,222.82 283.09,222.44 282.58,221.65 C282.06,220.86 280.03,218.96 280.48,218.53 C280.94,218.11 284.3,219.44 285.28,219.12 C286.26,218.8 286.14,217.4 286.36,216.6 C286.58,215.8 286.14,214.58 286.59,214.31 C287.05,214.04 289.15,215.71 289.1,214.95 C289.05,214.19 286.47,211.02 286.28,209.73 C286.08,208.44 287.58,207.69 287.93,207.2 C288.28,206.72 287.77,206.94 288.39,206.81 C289.01,206.68 291.24,207.17 291.64,206.41 C292.04,205.64 290.47,202.66 290.79,202.23 C291.1,201.8 292.93,204.4 293.53,203.82 C294.14,203.24 293.77,199.59 294.41,198.75 C295.04,197.91 296.82,199.09 297.35,198.8 C297.89,198.5 297.4,197.61 297.64,197 C297.88,196.39 297.88,195.27 298.79,195.15 C299.69,195.03 302.14,196.01 303.08,196.28 C304.01,196.55 303.63,196.36 304.4,196.77 C305.17,197.18 306.87,198.38 307.7,198.76 C308.53,199.13 308.73,199.6 309.38,199 C310.04,198.4 311.11,196.14 311.64,195.14 C312.17,194.14 312.15,193.62 312.57,193.02 C312.98,192.42 313.36,191.53 314.13,191.56 C314.9,191.6 316.5,193.32 317.21,193.23 C317.91,193.13 317.58,191.31 318.36,191 C319.13,190.69 320.93,191.28 321.83,191.39 C322.74,191.5 323.07,191.15 323.78,191.66 C324.49,192.16 325.44,194.74 326.1,194.45 C326.77,194.15 326.81,190.99 327.75,189.88 C328.68,188.77 331.17,186.94 331.71,187.78 C332.25,188.62 330.44,193.83 330.99,194.94 C331.54,196.05 334.43,194.16 335,194.45 C335.57,194.74 334.19,196.18 334.41,196.69 C334.63,197.2 335.46,197.32 336.31,197.52 C337.17,197.71 338.81,197.71 339.55,197.87 C340.28,198.03 340.2,197.83 340.72,198.49 C341.24,199.15 341.95,201.42 342.68,201.82 C343.4,202.22 344.28,200.83 345.06,200.87 C345.85,200.91 346.3,202.04 347.37,202.07 C348.45,202.1 351,200.75 351.52,201.06 C352.04,201.38 351.06,202.72 350.52,203.98 C349.97,205.24 347.94,208.04 348.23,208.63 C348.53,209.21 351.54,206.92 352.29,207.48 C353.04,208.04 352.95,210.82 352.74,211.98 C352.54,213.14 351.21,213.56 351.07,214.45 C350.92,215.34 351.48,216.67 351.87,217.31 C352.27,217.95 353.87,217.49 353.45,218.31 C353.03,219.14 349.38,221.71 349.37,222.26 C349.35,222.81 351.97,221.59 353.34,221.63 C354.72,221.66 356.74,222.05 357.62,222.48 C358.51,222.91 357.97,223.84 358.64,224.21 C359.32,224.59 361.37,224.14 361.7,224.76 C362.03,225.37 360.65,227.28 360.63,227.91 C360.6,228.53 360.93,227.88 361.54,228.51 C362.14,229.14 363.16,231.12 364.26,231.68 C365.37,232.24 368,231.39 368.15,231.88 C368.3,232.37 365.81,233.85 365.17,234.64 C364.54,235.43 364.54,235.71 364.32,236.61 Z" fill="none" stroke="#2e2e2e" stroke-width="0.6"/>
<path d="M303.32,266.2 C303.33,266.64 302.88,267.22 302.4,267.54 C301.93,267.86 301.13,268.16 300.45,268.1 C299.77,268.05 298.6,267.64 298.34,267.19 C298.08,266.74 298.52,265.83 298.88,265.41 C299.25,264.98 299.97,264.73 300.55,264.64 C301.13,264.56 301.89,264.65 302.35,264.91 C302.81,265.16 303.31,265.76 303.32,266.2 Z" fill="none" stroke="#2e2e2e" stroke-width="0.45"/>
<path d="M319.83,270.27 C319.83,270.56 318.86,270.84 318.38,271.14 C317.9,271.44 317.34,272.12 316.94,272.07 C316.54,272.02 316.24,271.26 315.97,270.83 C315.7,270.39 315.14,269.8 315.32,269.47 C315.5,269.14 316.54,268.85 317.05,268.84 C317.55,268.83 317.89,269.18 318.35,269.42 C318.82,269.66 319.83,269.98 319.83,270.27 Z" fill="none" stroke="#2e2e2e" stroke-width="0.45"/>
<path d="M347.61,254.38 C347.61,254.9 346.94,255.56 346.33,255.98 C345.71,256.4 344.63,257.01 343.92,256.9 C343.2,256.8 342.21,255.89 342.02,255.36 C341.84,254.82 342.49,254.25 342.81,253.69 C343.13,253.13 343.38,252.14 343.96,251.99 C344.54,251.85 345.67,252.43 346.28,252.82 C346.88,253.22 347.6,253.85 347.61,254.38 Z" fill="none" stroke="#2e2e2e" stroke-width="0.45"/>
<path d="M335.93,217.42 C335.96,218.21 336.44,219.4 335.86,219.88 C335.28,220.36 333.54,220.47 332.45,220.31 C331.36,220.14 329.83,219.64 329.3,218.9 C328.76,218.17 328.69,216.62 329.22,215.91 C329.75,215.2 331.41,214.77 332.48,214.64 C333.56,214.52 335.1,214.67 335.68,215.13 C336.25,215.6 335.9,216.63 335.93,217.42 Z" fill="none" stroke="#2e2e2e" stroke-width="0.45"/>
<path d="M324.89,220.11 C325,220.64 324.01,221.64 323.3,222.02 C322.59,222.4 321.52,222.52 320.63,222.41 C319.75,222.3 318.45,221.96 317.97,221.35 C317.48,220.75 317.28,219.3 317.74,218.79 C318.21,218.27 319.95,218.24 320.77,218.26 C321.58,218.27 321.93,218.54 322.62,218.85 C323.31,219.16 324.78,219.58 324.89,220.11 Z" fill="none" stroke="#2e2e2e" stroke-width="0.45"/>
<path d="M312.45,227.88 C312.55,228.62 311.9,229.77 311.05,230.39 C310.19,231.02 308.54,231.75 307.33,231.62 C306.12,231.49 304.09,230.39 303.81,229.59 C303.54,228.8 305.06,227.64 305.68,226.86 C306.31,226.08 306.77,225.07 307.56,224.92 C308.35,224.77 309.6,225.48 310.42,225.97 C311.23,226.47 312.34,227.14 312.45,227.88 Z" fill="none" stroke="#2e2e2e" stroke-width="0.45"/>
<circle cx="319.5" cy="236.4" r="0.35" fill="#1e1e1e" stroke="#1e1e1e" stroke-width="0.3"/>
<path d="M330.25,367.29 C329.9,367.98 326.91,368.27 327.05,369 C327.19,369.73 330.32,370.66 331.1,371.67 C331.88,372.68 332.44,374.59 331.73,375.07 C331.02,375.55 327.44,374.15 326.84,374.54 C326.23,374.93 328.81,376.62 328.09,377.42 C327.37,378.21 322.84,378.33 322.5,379.3 C322.15,380.27 325.59,382.47 326.04,383.23 C326.49,383.98 326.25,383.82 325.17,383.85 C324.1,383.87 319.87,382.7 319.61,383.38 C319.35,384.07 323.79,387.33 323.6,387.96 C323.41,388.58 319.45,386.95 318.45,387.14 C317.45,387.33 317.91,388.4 317.61,389.09 C317.3,389.78 317.24,390.5 316.63,391.26 C316.02,392.03 314.89,393.36 313.95,393.67 C313,393.98 311.32,392.68 310.95,393.14 C310.59,393.59 312.05,395.73 311.75,396.38 C311.45,397.04 309.76,396.91 309.15,397.06 C308.53,397.2 308.69,397.28 308.09,397.27 C307.48,397.27 306.33,396.59 305.53,397.02 C304.72,397.44 303.63,399.23 303.26,399.81 C302.88,400.38 303.74,399.94 303.29,400.48 C302.85,401.02 301.3,402.46 300.58,403.06 C299.85,403.65 299.39,404.03 298.93,404.07 C298.47,404.12 298.21,402.84 297.83,403.33 C297.45,403.82 297.39,406.72 296.63,407.01 C295.88,407.3 294.14,405.73 293.31,405.08 C292.47,404.42 292.52,403.52 291.62,403.07 C290.72,402.63 288.86,402.09 287.91,402.43 C286.95,402.77 286.56,405.1 285.91,405.13 C285.26,405.15 284.6,402.64 284.02,402.57 C283.45,402.49 282.94,404.83 282.45,404.66 C281.96,404.49 281.52,402.44 281.09,401.54 C280.66,400.65 280.47,399.1 279.86,399.29 C279.26,399.48 278.4,401.83 277.44,402.69 C276.48,403.55 275.01,404.5 274.09,404.45 C273.18,404.4 272.52,402.52 271.94,402.38 C271.36,402.23 271,403.75 270.6,403.6 C270.2,403.44 270.14,402.39 269.56,401.42 C268.99,400.46 268.27,397.99 267.16,397.79 C266.06,397.59 263.94,399.66 262.94,400.23 C261.94,400.79 261.94,401.41 261.17,401.19 C260.4,400.96 258.59,399.62 258.33,398.88 C258.07,398.14 259.66,397.4 259.63,396.74 C259.59,396.08 258.63,395.43 258.13,394.91 C257.62,394.38 257.62,394.08 256.58,393.6 C255.55,393.11 252.5,392.76 251.91,392 C251.31,391.23 253.41,389.46 252.99,389.02 C252.57,388.58 250.61,389.37 249.38,389.36 C248.15,389.35 246.09,389.43 245.59,388.98 C245.09,388.54 246.67,387.39 246.37,386.69 C246.07,385.99 243.33,386.09 243.77,384.76 C244.2,383.44 248.62,379.89 248.98,378.72 C249.35,377.55 246.18,378.26 245.95,377.75 C245.71,377.24 246.43,376.53 247.59,375.69 C248.76,374.84 252.75,373.62 252.96,372.67 C253.17,371.72 248.67,370.65 248.83,369.98 C249,369.32 253.34,369.33 253.96,368.68 C254.57,368.03 252.14,366.77 252.51,366.09 C252.87,365.41 256.06,365.13 256.16,364.62 C256.26,364.11 253.44,363.46 253.12,363.05 C252.8,362.64 254.87,362.92 254.24,362.17 C253.6,361.42 250.42,359.72 249.29,358.54 C248.16,357.36 247.43,355.65 247.47,355.08 C247.51,354.52 248.91,355.73 249.52,355.14 C250.12,354.54 250.72,352.12 251.1,351.52 C251.49,350.92 251.04,351.91 251.83,351.56 C252.62,351.2 255.78,350.21 255.85,349.39 C255.92,348.56 252.05,347.16 252.24,346.61 C252.43,346.07 256.31,346.47 256.98,346.1 C257.65,345.72 256.6,345.47 256.26,344.35 C255.92,343.23 254.57,339.91 254.92,339.38 C255.27,338.85 257.55,341.46 258.37,341.16 C259.19,340.87 259.4,338.17 259.84,337.59 C260.27,337.01 260.68,338.58 260.99,337.69 C261.3,336.79 261.19,332.99 261.68,332.24 C262.17,331.49 263.37,333.45 263.94,333.18 C264.5,332.91 264.38,330.72 265.09,330.63 C265.79,330.54 267.28,332.25 268.18,332.63 C269.07,333.01 269.69,332.94 270.47,332.89 C271.25,332.84 271.95,332.44 272.85,332.34 C273.74,332.24 275.04,332.56 275.86,332.3 C276.67,332.05 277.43,331.63 277.73,330.84 C278.03,330.04 277.13,327.59 277.67,327.56 C278.22,327.52 280.17,330.53 281.01,330.63 C281.84,330.74 282.04,328.55 282.67,328.21 C283.3,327.86 284.12,329.33 284.79,328.57 C285.46,327.81 285.83,324.08 286.68,323.64 C287.53,323.21 288.97,325.58 289.9,325.98 C290.84,326.38 291.8,326.47 292.28,326.04 C292.76,325.61 292.3,323.52 292.78,323.42 C293.25,323.31 294.23,325.13 295.13,325.4 C296.04,325.67 297.46,324.05 298.21,325.04 C298.97,326.02 299,330.73 299.68,331.3 C300.37,331.88 301.83,328.6 302.31,328.49 C302.79,328.38 302.08,330.23 302.58,330.63 C303.09,331.03 304.75,330.29 305.36,330.91 C305.98,331.54 306.02,333.63 306.28,334.39 C306.54,335.15 306.11,335.43 306.93,335.47 C307.75,335.52 310.51,334.04 311.22,334.66 C311.92,335.28 310.56,338.64 311.14,339.2 C311.71,339.77 314.04,337.94 314.66,338.04 C315.27,338.15 315.26,338.68 314.84,339.83 C314.42,340.97 311.93,344.03 312.15,344.93 C312.36,345.82 315.21,344.97 316.13,345.18 C317.04,345.39 317.5,345.55 317.66,346.18 C317.82,346.8 317.16,348.34 317.09,348.92 C317.03,349.5 317.1,349.17 317.27,349.66 C317.43,350.16 318.26,350.95 318.09,351.88 C317.93,352.81 315.58,354.83 316.28,355.25 C316.98,355.67 320.99,354.15 322.32,354.39 C323.64,354.63 323.61,355.91 324.21,356.67 C324.81,357.43 325.24,358.57 325.92,358.97 C326.59,359.37 327.73,358.6 328.26,359.08 C328.79,359.56 328.94,360.9 329.08,361.87 C329.23,362.84 328.91,363.98 329.1,364.89 C329.3,365.79 330.59,366.61 330.25,367.29 Z" fill="none" stroke="#2e2e2e" stroke-width="0.6"/>
<path d="M300.33,387.38 C300.53,388.18 301.26,389.8 300.62,390.37 C299.99,390.95 297.58,391.1 296.5,390.81 C295.42,390.52 294.7,389.46 294.16,388.62 C293.61,387.79 292.79,386.35 293.24,385.79 C293.7,385.23 295.86,385.3 296.89,385.26 C297.92,385.22 298.85,385.19 299.42,385.54 C299.99,385.89 300.13,386.57 300.33,387.38 Z" fill="none" stroke="#2e2e2e" stroke-width="0.45"/>
<path d="M311.36,366.38 C311.37,366.76 311.41,367.28 311.08,367.53 C310.76,367.79 310.03,367.97 309.43,367.92 C308.83,367.88 307.63,367.62 307.47,367.27 C307.31,366.93 308.16,366.28 308.48,365.86 C308.8,365.44 308.97,364.84 309.4,364.74 C309.83,364.63 310.75,364.96 311.08,365.23 C311.41,365.5 311.36,365.99 311.36,366.38 Z" fill="none" stroke="#2e2e2e" stroke-width="0.45"/>
<path d="M261.05,356.32 C261.1,356.7 260.54,357.43 260.1,357.62 C259.65,357.82 258.83,357.63 258.4,357.49 C257.96,357.35 257.78,357.09 257.51,356.77 C257.24,356.46 256.65,355.95 256.77,355.59 C256.89,355.22 257.72,354.62 258.23,354.57 C258.73,354.53 259.31,355.02 259.78,355.32 C260.25,355.61 261,355.93 261.05,356.32 Z" fill="none" stroke="#2e2e2e" stroke-width="0.45"/>
<path d="M303.79,383.31 C303.86,383.87 303.33,384.88 302.74,385.18 C302.16,385.47 300.97,385.27 300.28,385.1 C299.59,384.93 298.89,384.58 298.58,384.14 C298.27,383.69 298.19,383.05 298.41,382.42 C298.64,381.8 299.29,380.48 299.94,380.39 C300.6,380.29 301.68,381.36 302.33,381.85 C302.97,382.34 303.72,382.76 303.79,383.31 Z" fill="none" stroke="#2e2e2e" stroke-width="0.45"/>
<path d="M403.28,370.72 C403.26,371.25 405.68,370.88 405.64,371.44 C405.6,372 403.58,373.22 403.04,374.08 C402.5,374.93 402.43,375.98 402.4,376.58 C402.37,377.17 402.22,376.94 402.86,377.65 C403.5,378.36 406.41,380.27 406.25,380.85 C406.09,381.44 402.51,380.82 401.91,381.17 C401.31,381.52 402.6,382.09 402.64,382.94 C402.67,383.8 402.53,385.47 402.12,386.29 C401.71,387.1 400.21,387.18 400.16,387.85 C400.11,388.51 401.74,389.76 401.81,390.29 C401.89,390.82 401.64,390.71 400.62,391.04 C399.6,391.37 396.47,391.93 395.69,392.26 C394.9,392.6 395.63,392.1 395.93,393.05 C396.23,394.01 397.9,397.44 397.48,397.97 C397.06,398.5 393.97,395.98 393.43,396.23 C392.89,396.47 394.6,398.81 394.24,399.45 C393.88,400.08 391.53,399.24 391.28,400.04 C391.03,400.84 392.77,403.46 392.73,404.24 C392.69,405.01 391.74,404.13 391.06,404.7 C390.38,405.26 388.85,406.37 388.66,407.62 C388.46,408.88 390.23,411.9 389.88,412.23 C389.52,412.56 387.61,410.09 386.55,409.61 C385.48,409.12 384.3,409.19 383.5,409.31 C382.71,409.44 382.43,410.23 381.76,410.35 C381.1,410.48 380.16,409.6 379.51,410.06 C378.87,410.51 378.56,412.75 377.9,413.07 C377.23,413.4 376.38,412.09 375.51,412.03 C374.64,411.97 373.34,412.88 372.69,412.71 C372.04,412.54 372.15,410.92 371.6,411 C371.05,411.07 369.94,412.28 369.39,413.16 C368.83,414.04 368.77,415.67 368.26,416.29 C367.75,416.9 367.16,416.82 366.32,416.86 C365.48,416.9 364.24,416.63 363.21,416.51 C362.17,416.39 360.78,415.68 360.12,416.16 C359.46,416.65 359.93,419.12 359.26,419.42 C358.59,419.71 356.74,418.82 356.11,417.95 C355.48,417.09 356.31,414.3 355.5,414.24 C354.7,414.18 352.2,417.32 351.29,417.61 C350.38,417.9 350.53,416.4 350.04,415.99 C349.55,415.58 349.33,415.13 348.33,415.14 C347.33,415.14 344.55,416.49 344.04,416.01 C343.52,415.54 345.5,413.38 345.24,412.3 C344.97,411.23 342.99,410.14 342.45,409.56 C341.92,408.99 342.4,409.5 342.03,408.84 C341.66,408.19 340.97,405.83 340.23,405.62 C339.48,405.41 338.46,407.49 337.55,407.59 C336.65,407.69 335.68,406.51 334.78,406.21 C333.88,405.92 332.54,406.48 332.15,405.83 C331.76,405.18 332.94,402.89 332.44,402.33 C331.95,401.78 329.85,402.73 329.18,402.51 C328.51,402.3 328.51,401.9 328.44,401.04 C328.36,400.18 328.88,398.18 328.73,397.34 C328.58,396.49 327.39,396.65 327.56,396 C327.73,395.34 329.43,394.34 329.74,393.41 C330.06,392.47 329.81,390.91 329.45,390.36 C329.08,389.82 327.64,390.88 327.57,390.13 C327.51,389.39 328.98,386.81 329.04,385.88 C329.1,384.94 328.93,384.64 327.94,384.52 C326.95,384.41 324.19,385.35 323.08,385.18 C321.97,385.01 320.88,384.4 321.28,383.5 C321.69,382.6 325.7,380.5 325.5,379.78 C325.3,379.06 321.76,379.22 320.09,379.19 C318.42,379.16 315.78,379.95 315.48,379.61 C315.18,379.26 318.87,378.07 318.3,377.14 C317.72,376.21 312.65,374.73 312.03,374.05 C311.41,373.36 314.3,373.83 314.56,373.04 C314.83,372.26 314.18,370.4 313.63,369.36 C313.09,368.31 312.05,367.61 311.28,366.79 C310.51,365.97 308.95,364.88 309.01,364.41 C309.07,363.94 310.08,364.54 311.63,363.97 C313.19,363.4 317.85,361.8 318.35,360.99 C318.85,360.17 314.52,359.58 314.64,359.07 C314.76,358.57 318.53,358.62 319.08,357.94 C319.63,357.26 318.09,355.76 317.94,355.01 C317.8,354.25 317.79,353.92 318.22,353.43 C318.64,352.93 319.85,352.48 320.49,352.02 C321.13,351.55 322.03,351.41 322.06,350.65 C322.09,349.89 321.04,348.68 320.67,347.46 C320.3,346.23 319.36,344.07 319.85,343.3 C320.34,342.53 322.56,342.79 323.6,342.83 C324.64,342.87 325.32,343.71 326.1,343.53 C326.88,343.36 327.69,342.33 328.26,341.81 C328.83,341.28 328.84,340.9 329.52,340.38 C330.19,339.87 331.26,338.64 332.34,338.72 C333.41,338.8 335.45,341 335.98,340.87 C336.51,340.73 335.53,338.81 335.52,337.89 C335.5,336.96 335.15,335.32 335.87,335.29 C336.59,335.26 339.42,338.38 339.84,337.69 C340.26,337 337.75,331.75 338.39,331.16 C339.04,330.57 342.82,334.36 343.72,334.14 C344.62,333.92 343.46,330.51 343.81,329.83 C344.17,329.16 345.24,329.8 345.84,330.09 C346.43,330.38 347.04,332.4 347.39,331.57 C347.73,330.73 347.57,326.49 347.91,325.09 C348.24,323.69 348.87,323.49 349.39,323.16 C349.91,322.83 350.32,323.02 351.03,323.1 C351.74,323.18 352.57,323.12 353.66,323.62 C354.75,324.12 356.61,325.74 357.59,326.12 C358.56,326.49 358.87,325.7 359.51,325.88 C360.15,326.07 360.8,327.58 361.43,327.24 C362.07,326.89 362.72,323.48 363.34,323.82 C363.97,324.16 364.42,329.06 365.18,329.27 C365.94,329.48 367.34,325.07 367.9,325.07 C368.46,325.08 368.12,328.05 368.56,329.29 C368.99,330.53 369.95,332.27 370.5,332.51 C371.05,332.74 371.4,330.69 371.84,330.69 C372.29,330.7 372.35,332.74 373.17,332.54 C374,332.35 375.98,329.72 376.8,329.53 C377.62,329.35 377.35,331.72 378.08,331.44 C378.82,331.17 380.52,327.69 381.19,327.88 C381.87,328.06 381.13,332.27 382.14,332.55 C383.14,332.83 386.43,329.82 387.23,329.56 C388.03,329.29 386.29,330.5 386.91,330.96 C387.53,331.42 389.96,332.14 390.94,332.32 C391.92,332.5 392.58,331.36 392.77,332.04 C392.97,332.73 391.48,335.72 392.09,336.42 C392.7,337.12 395.82,335.91 396.45,336.25 C397.08,336.59 395.82,337.72 395.87,338.45 C395.91,339.19 396.07,340.35 396.72,340.66 C397.38,340.97 398.88,339.91 399.8,340.29 C400.72,340.68 401.77,342.41 402.26,342.98 C402.74,343.55 402.26,343.11 402.7,343.7 C403.14,344.3 404.22,345.84 404.91,346.57 C405.6,347.3 405.69,347.75 406.87,348.08 C408.04,348.42 411.43,348.19 411.96,348.56 C412.49,348.94 410.58,349.28 410.03,350.33 C409.49,351.37 409.18,353.7 408.71,354.84 C408.24,355.98 406.89,356.4 407.2,357.16 C407.5,357.92 410.84,358.75 410.54,359.39 C410.24,360.03 406.94,360.21 405.39,361 C403.84,361.79 401.45,363.35 401.24,364.12 C401.03,364.89 403.4,364.93 404.14,365.62 C404.89,366.31 405.88,367.39 405.73,368.24 C405.59,369.09 403.29,370.18 403.28,370.72 Z" fill="none" stroke="#2e2e2e" stroke-width="0.6"/>
<path d="M341.67,348.17 C341.72,348.54 340.87,349.21 340.35,349.47 C339.83,349.72 339.03,349.83 338.54,349.71 C338.05,349.59 337.77,349.17 337.41,348.75 C337.05,348.34 336.23,347.68 336.38,347.2 C336.53,346.71 337.71,345.85 338.31,345.85 C338.91,345.85 339.45,346.8 340.01,347.19 C340.57,347.58 341.61,347.79 341.67,348.17 Z" fill="none" stroke="#2e2e2e" stroke-width="0.45"/>
<path d="M361.61,357.49 C361.73,358.05 361.89,359.22 361.42,359.53 C360.94,359.85 359.49,359.58 358.74,359.38 C357.99,359.19 357.16,358.83 356.9,358.38 C356.64,357.93 356.84,357.12 357.16,356.7 C357.48,356.28 358.23,355.93 358.81,355.85 C359.4,355.76 360.19,355.91 360.65,356.19 C361.12,356.46 361.48,356.94 361.61,357.49 Z" fill="none" stroke="#2e2e2e" stroke-width="0.45"/>
<path d="M376.22,374.43 C376.29,375.03 375.49,376.13 374.82,376.44 C374.14,376.75 373.13,376.4 372.18,376.29 C371.23,376.18 369.34,376.19 369.11,375.76 C368.89,375.34 370.33,374.3 370.83,373.72 C371.33,373.14 371.5,372.44 372.1,372.29 C372.69,372.14 373.69,372.48 374.38,372.84 C375.06,373.19 376.14,373.83 376.22,374.43 Z" fill="none" stroke="#2e2e2e" stroke-width="0.45"/>
<path d="M379.6,401.63 C379.57,402.2 379.29,402.7 378.72,403.22 C378.14,403.74 376.88,404.84 376.14,404.75 C375.4,404.66 374.55,403.35 374.26,402.67 C373.97,401.99 374.05,401.19 374.41,400.65 C374.77,400.11 375.66,399.57 376.41,399.43 C377.17,399.29 378.41,399.46 378.94,399.83 C379.47,400.19 379.64,401.07 379.6,401.63 Z" fill="none" stroke="#2e2e2e" stroke-width="0.45"/>
<path d="M348.05,359.99 C348.02,360.65 348.36,361.49 347.88,361.9 C347.4,362.31 345.9,362.61 345.17,362.45 C344.43,362.28 343.92,361.52 343.46,360.89 C342.99,360.26 342.13,359.34 342.39,358.69 C342.64,358.03 344.06,357.09 345,356.96 C345.94,356.84 347.53,357.41 348.04,357.92 C348.55,358.42 348.08,359.32 348.05,359.99 Z" fill="none" stroke="#2e2e2e" stroke-width="0.45"/>
<path d="M408.17,335.1 C407.5,335.75 406.3,336.21 406.17,337.03 C406.04,337.85 406.29,338.99 407.38,340.01 C408.46,341.04 412.6,342.51 412.69,343.17 C412.78,343.83 408.46,343.44 407.93,343.96 C407.4,344.48 410.01,345.56 409.51,346.27 C409.01,346.98 405.33,347.65 404.94,348.2 C404.56,348.75 407.5,349.23 407.19,349.56 C406.89,349.9 403.12,349.47 403.1,350.22 C403.09,350.96 407.28,353.1 407.12,354.03 C406.96,354.96 403.75,355.77 402.15,355.8 C400.55,355.83 398.03,353.79 397.52,354.22 C397.01,354.65 399.18,357.8 399.06,358.38 C398.94,358.96 397.08,357.44 396.8,357.7 C396.52,357.96 397.21,358.77 397.41,359.95 C397.6,361.12 398.01,363.96 397.95,364.75 C397.89,365.54 397.24,363.91 397.07,364.68 C396.9,365.45 397.09,368.42 396.91,369.36 C396.72,370.29 396.19,369.48 395.96,370.3 C395.74,371.11 396.08,373.61 395.56,374.25 C395.05,374.89 393.83,374.3 392.87,374.13 C391.92,373.96 390.42,372.68 389.83,373.24 C389.24,373.79 390.06,377.04 389.35,377.47 C388.65,377.89 386.17,375.72 385.62,375.8 C385.08,375.87 386.73,378.19 386.07,377.91 C385.4,377.63 382.83,374.64 381.61,374.13 C380.39,373.61 379.32,374.16 378.75,374.82 C378.17,375.48 378.49,377.33 378.16,378.11 C377.83,378.89 377.44,379.95 376.76,379.47 C376.09,378.99 375.02,375.48 374.11,375.22 C373.2,374.95 371.79,377.04 371.29,377.88 C370.79,378.73 371.48,379.91 371.1,380.31 C370.72,380.71 369.72,379.88 369.02,380.28 C368.31,380.69 367.77,382.6 366.88,382.74 C365.99,382.87 364.6,380.57 363.66,381.12 C362.71,381.66 361.95,385.77 361.21,386.01 C360.47,386.25 359.67,383.25 359.21,382.55 C358.75,381.85 359.18,381.92 358.44,381.8 C357.7,381.68 355.66,381.57 354.78,381.83 C353.91,382.1 354.06,383.26 353.19,383.39 C352.32,383.53 350.35,383.51 349.56,382.66 C348.78,381.81 348.75,378.97 348.49,378.29 C348.24,377.6 348.78,378.6 348.04,378.57 C347.29,378.54 344.98,378.23 344.04,378.12 C343.11,378 342.91,378.1 342.43,377.88 C341.94,377.66 341.64,377.27 341.12,376.8 C340.6,376.33 340.23,375.45 339.31,375.06 C338.39,374.67 336.08,374.94 335.6,374.46 C335.12,373.97 337.28,372.18 336.42,372.16 C335.56,372.13 330.95,374.92 330.43,374.33 C329.92,373.74 333.49,369.66 333.31,368.61 C333.13,367.55 329.69,368.86 329.36,368.01 C329.04,367.17 331.47,364.09 331.35,363.52 C331.22,362.95 328.92,365.19 328.64,364.59 C328.35,363.99 329.11,361.28 329.64,359.93 C330.18,358.58 331.71,357.08 331.85,356.49 C331.99,355.91 330.48,357.03 330.51,356.43 C330.54,355.82 331.9,353.88 332.02,352.87 C332.14,351.86 331.37,350.88 331.24,350.36 C331.12,349.84 331.85,350.04 331.25,349.76 C330.66,349.47 328.16,349.13 327.66,348.66 C327.16,348.19 328.67,347.58 328.24,346.93 C327.8,346.29 325.28,345.51 325.04,344.78 C324.81,344.04 327.67,342.99 326.83,342.52 C325.99,342.06 321.37,342.32 319.98,342 C318.59,341.68 318.87,341.34 318.5,340.62 C318.13,339.9 317.85,338.46 317.76,337.71 C317.68,336.95 317.51,336.8 318,336.11 C318.49,335.41 320.81,334.13 320.71,333.54 C320.62,332.96 317.46,333.23 317.45,332.58 C317.43,331.93 319.83,330.31 320.63,329.65 C321.42,328.98 322.05,329.11 322.22,328.61 C322.39,328.11 321.43,327.36 321.65,326.63 C321.87,325.9 323.67,325.23 323.55,324.24 C323.43,323.25 321.17,321.41 320.94,320.69 C320.72,319.98 322.45,320.87 322.22,319.97 C321.99,319.06 319.82,316.43 319.56,315.28 C319.29,314.12 320,313.58 320.62,313.05 C321.24,312.52 322.56,312.56 323.26,312.11 C323.97,311.65 324.91,310.99 324.86,310.3 C324.81,309.61 323.08,308.75 322.96,307.97 C322.85,307.19 323.02,305.75 324.18,305.64 C325.33,305.54 328.74,307.73 329.88,307.34 C331.02,306.95 330.79,304.11 331.01,303.29 C331.23,302.48 330.29,302.55 331.2,302.43 C332.1,302.31 335.5,302.96 336.44,302.58 C337.38,302.19 336.2,300.05 336.85,300.13 C337.5,300.21 339.5,302.78 340.31,303.05 C341.13,303.33 341.2,302.42 341.75,301.77 C342.3,301.13 343.37,300 343.63,299.19 C343.88,298.38 342.77,297.11 343.3,296.92 C343.82,296.72 346.23,298.8 346.76,298.01 C347.29,297.23 346.2,293.54 346.5,292.22 C346.8,290.89 347.94,290.53 348.58,290.05 C349.21,289.57 349.56,289.16 350.32,289.35 C351.07,289.54 352.42,291.33 353.09,291.18 C353.75,291.02 353.43,288.26 354.32,288.42 C355.2,288.57 357.47,291.8 358.4,292.11 C359.34,292.41 359.45,289.99 359.9,290.24 C360.36,290.49 360.48,293.12 361.14,293.6 C361.8,294.08 363.13,292.65 363.86,293.13 C364.59,293.61 364.83,296.77 365.53,296.48 C366.22,296.19 367.28,291.09 368.02,291.38 C368.76,291.68 369.45,297.56 369.96,298.25 C370.47,298.94 370.37,296.25 371.1,295.53 C371.83,294.82 373.52,293.86 374.33,293.96 C375.13,294.06 375.24,296.39 375.91,296.14 C376.59,295.89 377.87,292.56 378.36,292.45 C378.85,292.35 378.32,294.99 378.86,295.5 C379.4,296.01 380.7,295.31 381.61,295.51 C382.52,295.71 383.77,296.04 384.32,296.7 C384.88,297.36 384.43,299.38 384.95,299.47 C385.46,299.56 386.63,297.36 387.42,297.24 C388.21,297.12 389.18,298.3 389.68,298.75 C390.18,299.2 390.33,299.09 390.43,299.93 C390.52,300.78 389.86,302.81 390.23,303.82 C390.6,304.83 391.9,305.74 392.64,305.98 C393.38,306.22 393.81,305.54 394.65,305.26 C395.5,304.97 397.44,303.47 397.71,304.28 C397.98,305.08 395.56,309.43 396.28,310.11 C397,310.79 400.67,308.42 402.02,308.34 C403.38,308.26 403.86,309.36 404.42,309.61 C404.98,309.86 404.23,309.81 405.4,309.84 C406.56,309.86 410.97,309.25 411.42,309.77 C411.86,310.3 408.52,311.8 408.07,312.99 C407.61,314.19 407.8,316.42 408.66,316.93 C409.52,317.44 412.05,315.63 413.24,316.04 C414.43,316.45 415.7,318.39 415.8,319.39 C415.9,320.4 414.45,321.1 413.87,322.06 C413.29,323.02 412.67,324.13 412.31,325.13 C411.94,326.13 411.7,327.3 411.66,328.06 C411.61,328.82 411.86,328.96 412.03,329.71 C412.19,330.46 412.98,331.98 412.67,332.55 C412.35,333.11 410.9,332.68 410.15,333.1 C409.41,333.53 408.83,334.44 408.17,335.1 Z" fill="none" stroke="#2e2e2e" stroke-width="0.6"/>
<path d="M333.17,330.72 C333.13,331.11 332.88,331.57 332.53,331.78 C332.18,331.99 331.61,332.03 331.05,332 C330.48,331.96 329.38,331.9 329.12,331.57 C328.86,331.24 329.16,330.33 329.49,330 C329.81,329.67 330.55,329.69 331.09,329.6 C331.64,329.51 332.4,329.26 332.74,329.44 C333.09,329.63 333.2,330.33 333.17,330.72 Z" fill="none" stroke="#2e2e2e" stroke-width="0.45"/>
<path d="M362.38,324.78 C362.4,325.23 362.78,325.95 362.48,326.19 C362.19,326.44 361.04,326.38 360.59,326.22 C360.14,326.06 359.97,325.57 359.79,325.23 C359.6,324.9 359.34,324.49 359.48,324.21 C359.63,323.93 360.17,323.68 360.66,323.56 C361.14,323.44 362.08,323.27 362.37,323.47 C362.66,323.68 362.36,324.33 362.38,324.78 Z" fill="none" stroke="#2e2e2e" stroke-width="0.45"/>
<path d="M347.24,345.65 C347.29,346.03 347.29,346.59 346.92,346.92 C346.55,347.25 345.6,347.7 345.01,347.63 C344.42,347.56 343.65,346.95 343.36,346.48 C343.08,346 342.98,345.16 343.29,344.79 C343.59,344.42 344.63,344.29 345.19,344.27 C345.75,344.25 346.28,344.43 346.62,344.66 C346.96,344.89 347.19,345.27 347.24,345.65 Z" fill="none" stroke="#2e2e2e" stroke-width="0.45"/>
<path d="M371.54,307.17 C371.5,307.78 369.83,308.4 368.97,308.87 C368.11,309.35 367.08,310.15 366.36,310.03 C365.65,309.9 365.08,308.77 364.7,308.1 C364.31,307.43 363.79,306.69 364.06,306.01 C364.32,305.33 365.42,304.15 366.27,304.02 C367.13,303.9 368.31,304.74 369.18,305.27 C370.06,305.79 371.57,306.57 371.54,307.17 Z" fill="none" stroke="#2e2e2e" stroke-width="0.45"/>
<path d="M340.48,312.47 C340.66,313.05 341,314.32 340.49,314.72 C339.99,315.12 338.22,315.09 337.46,314.86 C336.69,314.62 336.16,313.83 335.92,313.3 C335.68,312.77 335.71,312.05 336.01,311.67 C336.32,311.3 337.18,311.13 337.74,311.06 C338.31,310.99 338.96,311.03 339.42,311.26 C339.88,311.5 340.3,311.9 340.48,312.47 Z" fill="none" stroke="#2e2e2e" stroke-width="0.45"/>
<path d="M392.79,332.65 C392.86,333.47 393.26,334.8 392.62,335.32 C391.98,335.83 390.08,335.92 388.94,335.72 C387.8,335.53 386.16,334.87 385.78,334.16 C385.4,333.45 386.15,332.29 386.66,331.46 C387.17,330.63 387.9,329.35 388.83,329.17 C389.75,329 391.54,329.81 392.2,330.39 C392.86,330.97 392.72,331.83 392.79,332.65 Z" fill="none" stroke="#2e2e2e" stroke-width="0.45"/>
<path d="M388.86,362.55 C388.95,362.95 387.93,363.73 387.34,364 C386.75,364.28 385.95,364.29 385.34,364.18 C384.73,364.07 383.93,363.73 383.69,363.34 C383.45,362.95 383.61,362.17 383.9,361.83 C384.2,361.5 384.97,361.35 385.46,361.31 C385.95,361.27 386.26,361.38 386.82,361.58 C387.39,361.79 388.78,362.14 388.86,362.55 Z" fill="none" stroke="#2e2e2e" stroke-width="0.45"/>
<path d="M502.02,375.74 C502.8,376.28 504.07,377.43 503.54,377.99 C503.02,378.54 499.49,378.53 498.88,379.08 C498.28,379.62 499.99,380.46 499.92,381.25 C499.86,382.05 498.25,382.89 498.5,383.83 C498.74,384.77 501.63,386.47 501.39,386.89 C501.15,387.32 497.96,386.03 497.07,386.38 C496.19,386.72 495.87,387.92 496.07,388.94 C496.27,389.96 497.78,391.53 498.27,392.49 C498.76,393.45 499.44,394.34 498.99,394.69 C498.55,395.04 496.62,394.51 495.6,394.57 C494.57,394.62 493.27,394.38 492.85,395.01 C492.44,395.64 493.07,397.47 493.1,398.36 C493.13,399.24 493.24,399.75 493.04,400.31 C492.85,400.86 491.93,400.63 491.94,401.67 C491.94,402.7 493.23,405.42 493.07,406.52 C492.9,407.61 491.63,408.14 490.96,408.26 C490.3,408.38 489.73,406.84 489.07,407.24 C488.41,407.65 487.14,409.51 486.99,410.71 C486.83,411.92 488.37,413.81 488.14,414.47 C487.92,415.13 486.22,414.33 485.63,414.67 C485.04,415.01 485.62,416.28 484.62,416.51 C483.61,416.73 480.8,416.48 479.61,416.04 C478.42,415.61 478.24,414.48 477.5,413.91 C476.76,413.34 475.95,412.88 475.19,412.62 C474.43,412.35 473.66,412.31 472.96,412.31 C472.27,412.31 471.76,412.65 471.02,412.62 C470.28,412.59 469.1,411.64 468.54,412.14 C467.98,412.64 468.11,414.19 467.67,415.61 C467.22,417.04 466.78,420.27 465.88,420.71 C464.98,421.16 463.29,418.23 462.27,418.28 C461.26,418.34 460.56,420.75 459.82,421.03 C459.07,421.3 458.37,420.77 457.8,419.93 C457.22,419.08 456.89,416.19 456.36,415.95 C455.84,415.71 455.55,417.71 454.65,418.46 C453.74,419.21 451.66,420.74 450.96,420.44 C450.26,420.14 450.98,417.72 450.46,416.66 C449.94,415.6 448.51,414.27 447.85,414.07 C447.18,413.87 446.93,415.47 446.48,415.49 C446.02,415.5 445.69,414.84 445.13,414.16 C444.58,413.48 444.31,411.39 443.14,411.41 C441.97,411.44 438.9,414.48 438.09,414.29 C437.29,414.09 438.33,411.39 438.32,410.24 C438.3,409.09 438.64,407.38 437.98,407.39 C437.32,407.4 435.57,410.15 434.35,410.3 C433.14,410.45 430.95,409.38 430.68,408.27 C430.4,407.17 432.94,404.1 432.72,403.67 C432.5,403.24 429.58,406.31 429.36,405.7 C429.14,405.08 431.39,400.99 431.41,399.99 C431.42,398.99 429.73,400.36 429.46,399.7 C429.19,399.04 430.02,396.87 429.8,396.04 C429.57,395.2 428.27,395.28 428.11,394.67 C427.95,394.06 428.6,393.1 428.83,392.37 C429.06,391.64 429.43,390.94 429.47,390.29 C429.52,389.64 429.46,388.97 429.08,388.48 C428.71,387.98 427.56,387.82 427.21,387.31 C426.87,386.79 428.25,385.75 427.02,385.4 C425.8,385.05 421.2,385.79 419.88,385.22 C418.55,384.65 418.98,382.7 419.07,381.97 C419.16,381.25 420.76,381.66 420.39,380.88 C420.03,380.1 417.01,378.19 416.9,377.32 C416.78,376.45 419.72,376.31 419.7,375.65 C419.67,375 416.48,373.95 416.74,373.4 C416.99,372.84 421.09,373.08 421.24,372.32 C421.4,371.55 418.24,369.64 417.68,368.8 C417.12,367.96 417.77,368.09 417.89,367.27 C418,366.45 417.87,364.74 418.39,363.88 C418.91,363.03 420.38,362.63 421.02,362.13 C421.65,361.64 422.01,361.69 422.19,360.92 C422.37,360.14 422.39,358.35 422.1,357.47 C421.82,356.59 420.6,356.31 420.46,355.64 C420.31,354.97 420.71,354.31 421.23,353.46 C421.75,352.6 423.03,350.99 423.57,350.51 C424.1,350.03 423.63,350.59 424.45,350.56 C425.26,350.53 427.61,350.62 428.48,350.34 C429.35,350.05 428.8,349 429.66,348.85 C430.52,348.69 433.06,350.15 433.63,349.41 C434.19,348.67 432.54,345.26 433.04,344.4 C433.54,343.53 435.59,344.18 436.63,344.22 C437.67,344.26 438.52,344.55 439.28,344.64 C440.04,344.72 440.46,344.54 441.2,344.73 C441.94,344.92 443.15,345.94 443.74,345.77 C444.33,345.6 444.59,345.27 444.73,343.71 C444.88,342.15 444.49,337.4 444.62,336.41 C444.74,335.43 445.04,338.34 445.47,337.8 C445.9,337.27 446.46,333.68 447.19,333.22 C447.92,332.75 449.16,335.06 449.86,335 C450.57,334.95 450.6,332.61 451.41,332.86 C452.22,333.12 453.89,335.8 454.73,336.56 C455.58,337.32 455.71,337.39 456.48,337.43 C457.25,337.48 458.71,337.28 459.36,336.82 C460,336.36 459.91,334.81 460.37,334.68 C460.83,334.55 461.39,336.15 462.11,336.04 C462.83,335.93 463.94,333.68 464.7,334.03 C465.46,334.38 465.9,337.87 466.66,338.14 C467.41,338.41 468.5,335.27 469.23,335.63 C469.97,336 470.51,339.98 471.08,340.35 C471.65,340.72 471.81,338.24 472.64,337.83 C473.47,337.42 475.12,338.01 476.08,337.9 C477.05,337.8 478.04,336.9 478.43,337.2 C478.82,337.5 478.14,338.65 478.41,339.72 C478.69,340.78 479.45,343.21 480.06,343.6 C480.67,343.99 481.19,342.71 482.08,342.07 C482.96,341.44 484.44,339.81 485.37,339.81 C486.3,339.8 487.44,340.78 487.64,342.05 C487.84,343.32 486.27,346.94 486.58,347.43 C486.88,347.93 488.63,344.97 489.47,345.02 C490.32,345.07 491.14,347.08 491.63,347.71 C492.11,348.35 491.43,348.98 492.4,348.85 C493.37,348.71 496.78,346.63 497.47,346.9 C498.16,347.18 496.09,349.7 496.53,350.49 C496.96,351.27 499.37,351.21 500.09,351.63 C500.8,352.05 500.62,352.11 500.83,352.99 C501.04,353.88 500.55,356.16 501.33,356.95 C502.12,357.74 505.32,356.94 505.55,357.73 C505.78,358.52 502.61,360.94 502.71,361.67 C502.81,362.4 505.46,361.84 506.16,362.09 C506.86,362.33 507.27,362.38 506.93,363.16 C506.58,363.95 505.42,365.53 504.07,366.79 C502.71,368.05 499.61,369.77 498.81,370.74 C498.01,371.7 499.24,371.91 499.26,372.58 C499.27,373.24 498.42,374.2 498.88,374.72 C499.35,375.25 501.25,375.19 502.02,375.74 Z" fill="none" stroke="#2e2e2e" stroke-width="0.6"/>
<path d="M485.86,383.67 C485.95,384.47 485.29,385.83 484.43,386.35 C483.58,386.87 481.85,386.99 480.73,386.79 C479.61,386.58 478.13,385.86 477.72,385.13 C477.3,384.4 477.69,383.07 478.22,382.4 C478.74,381.73 479.95,381.24 480.89,381.1 C481.83,380.96 483.02,381.12 483.85,381.55 C484.68,381.98 485.76,382.87 485.86,383.67 Z" fill="none" stroke="#2e2e2e" stroke-width="0.45"/>
<path d="M475.65,361.07 C475.85,361.76 474.86,363.19 473.97,363.71 C473.08,364.24 471.41,364.42 470.3,364.22 C469.2,364.02 467.75,363.25 467.34,362.51 C466.94,361.78 467.36,360.5 467.88,359.83 C468.4,359.15 469.65,358.51 470.46,358.47 C471.28,358.43 471.9,359.17 472.76,359.6 C473.62,360.04 475.44,360.39 475.65,361.07 Z" fill="none" stroke="#2e2e2e" stroke-width="0.45"/>
<path d="M480.03,383.59 C479.87,384.11 478.96,384.33 478.39,384.7 C477.81,385.08 477.14,385.87 476.56,385.82 C475.99,385.78 475.23,384.95 474.95,384.43 C474.67,383.91 474.57,383.11 474.88,382.72 C475.18,382.32 476.04,382.27 476.78,382.08 C477.52,381.89 478.79,381.31 479.33,381.56 C479.87,381.81 480.18,383.06 480.03,383.59 Z" fill="none" stroke="#2e2e2e" stroke-width="0.45"/>
<path d="M579.51,376.81 C579.32,377.53 580.55,377.7 580.92,378.35 C581.29,379 582.03,380.22 581.75,380.7 C581.48,381.19 579.11,380.67 579.26,381.26 C579.4,381.85 581.81,383.4 582.61,384.24 C583.42,385.07 583.77,385.67 584.11,386.28 C584.45,386.89 584.72,387.18 584.68,387.93 C584.64,388.67 584.78,390.11 583.87,390.75 C582.95,391.39 580.28,391.51 579.21,391.75 C578.14,391.98 577.5,391.64 577.44,392.18 C577.38,392.71 579.09,394.42 578.84,394.96 C578.59,395.49 576.04,394.67 575.95,395.4 C575.86,396.13 578.73,398.87 578.3,399.35 C577.87,399.82 573.85,397.55 573.35,398.26 C572.84,398.97 575.18,402.23 575.26,403.6 C575.34,404.97 574.45,406.13 573.85,406.47 C573.26,406.8 572.29,405.57 571.67,405.59 C571.06,405.62 570.66,405.82 570.14,406.61 C569.62,407.41 569.07,409.56 568.57,410.34 C568.07,411.13 567.53,410.66 567.13,411.32 C566.73,411.98 566.63,413.78 566.18,414.32 C565.73,414.86 565.26,414.95 564.41,414.56 C563.57,414.17 561.72,411.61 561.11,412 C560.5,412.38 561.25,416.35 560.75,416.86 C560.25,417.37 558.91,415.38 558.11,415.08 C557.31,414.79 556.83,414.86 555.96,415.08 C555.09,415.3 553.85,417 552.89,416.43 C551.93,415.86 551,411.98 550.2,411.66 C549.41,411.34 548.54,413.97 548.13,414.49 C547.71,415.01 548.25,413.74 547.71,414.77 C547.17,415.8 545.68,420.47 544.9,420.65 C544.12,420.83 543.66,415.57 543.04,415.87 C542.42,416.17 541.95,421.2 541.17,422.45 C540.39,423.69 539.21,423.61 538.36,423.35 C537.5,423.1 536.68,421.97 536.05,420.9 C535.42,419.83 535.39,417.2 534.57,416.92 C533.76,416.64 531.89,419.02 531.15,419.2 C530.41,419.39 530.64,418.52 530.14,418.02 C529.64,417.51 528.85,416.37 528.14,416.18 C527.42,415.98 526.35,417.34 525.86,416.83 C525.36,416.33 525.54,414.21 525.18,413.13 C524.82,412.05 524.21,411.24 523.71,410.36 C523.2,409.47 522.74,408 522.15,407.84 C521.57,407.67 520.92,409.53 520.21,409.35 C519.51,409.18 517.99,408.07 517.93,406.79 C517.86,405.5 520.22,402.07 519.82,401.63 C519.42,401.18 516.6,403.73 515.51,404.11 C514.42,404.49 513.44,404.61 513.28,403.91 C513.12,403.21 514.89,400.61 514.56,399.91 C514.23,399.21 511.54,400.61 511.3,399.72 C511.06,398.83 512.91,395.57 513.13,394.6 C513.34,393.62 513.01,394.06 512.59,393.85 C512.17,393.64 511.41,393.75 510.63,393.34 C509.85,392.93 508.17,392.17 507.9,391.38 C507.64,390.59 509.53,388.94 509.06,388.6 C508.58,388.25 505.92,389.63 505.04,389.28 C504.16,388.94 504.32,387.35 503.77,386.55 C503.21,385.74 502.38,385.17 501.72,384.46 C501.06,383.75 499.67,382.87 499.83,382.3 C499.99,381.72 502.68,381.58 502.67,381 C502.67,380.41 500.1,379.65 499.78,378.8 C499.47,377.95 501.01,376.73 500.79,375.91 C500.58,375.09 499.14,374.54 498.49,373.88 C497.83,373.22 496.54,372.7 496.84,371.94 C497.14,371.18 499.67,370.29 500.3,369.32 C500.93,368.35 500.32,366.66 500.62,366.12 C500.91,365.57 501.63,366.51 502.08,366.04 C502.52,365.58 502.69,364.09 503.31,363.32 C503.92,362.55 504.87,361.99 505.76,361.43 C506.66,360.87 508.36,360.5 508.67,359.95 C508.98,359.4 507.88,358.74 507.62,358.11 C507.37,357.49 506.75,357.01 507.14,356.19 C507.52,355.37 509.13,353.62 509.94,353.17 C510.76,352.73 512.05,354.23 512.01,353.52 C511.97,352.81 509.7,350.02 509.69,348.92 C509.69,347.81 511.49,347.43 511.98,346.88 C512.47,346.33 511.95,345.58 512.62,345.63 C513.28,345.67 515.34,347.39 515.99,347.15 C516.64,346.91 515.94,344.65 516.51,344.21 C517.09,343.76 518.68,344.85 519.43,344.49 C520.19,344.12 520.04,341.98 521.03,342.01 C522.02,342.04 524.53,344.53 525.36,344.66 C526.19,344.79 525.55,343.42 526.01,342.81 C526.48,342.2 527.84,341.8 528.16,341 C528.48,340.2 527.5,338.48 527.94,338.03 C528.37,337.57 530.17,338.88 530.77,338.27 C531.37,337.66 531.18,335.21 531.55,334.38 C531.92,333.55 532.01,332.93 532.98,333.3 C533.94,333.67 536.53,336.08 537.37,336.58 C538.2,337.07 537.38,336.19 537.96,336.29 C538.54,336.4 540.04,336.57 540.85,337.21 C541.67,337.85 542.3,340.41 542.86,340.12 C543.42,339.83 543.6,335.45 544.2,335.46 C544.8,335.47 545.62,339.14 546.45,340.19 C547.29,341.23 548.67,341.39 549.2,341.72 C549.73,342.05 549.25,342.34 549.64,342.18 C550.04,342.02 550.86,341.02 551.55,340.74 C552.23,340.46 553.01,340.64 553.73,340.5 C554.45,340.35 554.84,340.47 555.88,339.85 C556.91,339.23 559.1,337.03 559.96,336.78 C560.81,336.53 560.76,337.44 561.01,338.35 C561.25,339.26 560.76,342.15 561.43,342.25 C562.1,342.35 564.06,338.84 565.05,338.93 C566.04,339.02 566.72,342.34 567.37,342.79 C568.02,343.24 568,342.06 568.96,341.65 C569.93,341.23 572.35,339.92 573.16,340.3 C573.96,340.67 573.56,343.12 573.78,343.9 C573.99,344.68 573.88,344.58 574.44,344.99 C575.01,345.39 576.03,345.87 577.18,346.34 C578.33,346.81 580.88,346.97 581.35,347.81 C581.81,348.64 579.47,351.09 579.99,351.35 C580.5,351.61 583.96,348.76 584.44,349.37 C584.91,349.99 582.4,354.3 582.83,355.03 C583.26,355.76 586.71,353.07 587,353.76 C587.28,354.44 585.26,357.97 584.51,359.14 C583.77,360.32 582.57,360.21 582.51,360.81 C582.45,361.4 583.8,362.09 584.16,362.7 C584.52,363.32 584.87,363.5 584.69,364.51 C584.51,365.53 583.35,367.9 583.07,368.8 C582.78,369.69 583.3,369.15 582.98,369.86 C582.65,370.57 581.29,372.38 581.14,373.07 C580.99,373.76 582.34,373.38 582.07,374.01 C581.8,374.63 579.7,376.08 579.51,376.81 Z" fill="none" stroke="#2e2e2e" stroke-width="0.6"/>
<path d="M564.9,395.98 C564.75,396.49 563.51,396.75 562.89,397.08 C562.27,397.4 561.81,397.93 561.19,397.91 C560.56,397.89 559.44,397.42 559.14,396.95 C558.84,396.48 559.06,395.67 559.38,395.1 C559.69,394.54 560.3,393.74 561.04,393.56 C561.78,393.38 563.16,393.61 563.8,394.01 C564.45,394.42 565.05,395.47 564.9,395.98 Z" fill="none" stroke="#2e2e2e" stroke-width="0.45"/>
<path d="M544.55,364.58 C544.59,365.27 543.61,366.32 542.82,366.75 C542.03,367.18 540.58,367.38 539.8,367.17 C539.03,366.95 538.54,366.07 538.19,365.46 C537.85,364.86 537.46,364.07 537.74,363.53 C538.02,362.99 539.06,362.39 539.87,362.23 C540.69,362.08 541.84,362.22 542.62,362.61 C543.4,363 544.52,363.89 544.55,364.58 Z" fill="none" stroke="#2e2e2e" stroke-width="0.45"/>
<path d="M549.3,363.09 C549.31,363.41 548.46,363.75 547.97,364.08 C547.48,364.42 546.74,365.17 546.35,365.09 C545.97,365 545.87,364.03 545.64,363.58 C545.41,363.13 544.85,362.67 545,362.37 C545.15,362.08 546.09,361.86 546.57,361.83 C547.05,361.79 547.44,361.96 547.9,362.18 C548.35,362.39 549.29,362.78 549.3,363.09 Z" fill="none" stroke="#2e2e2e" stroke-width="0.45"/>
<path d="M710.02,376.5 C709.46,377.28 705.54,377.29 705.38,377.98 C705.21,378.66 708.24,379.84 709.03,380.63 C709.83,381.42 709.85,381.93 710.13,382.69 C710.41,383.45 710.37,384.14 710.71,385.19 C711.05,386.24 712.68,388.23 712.16,388.97 C711.64,389.71 707.93,389.13 707.57,389.63 C707.2,390.12 710.71,391.57 709.96,391.95 C709.22,392.32 703.97,391.38 703.1,391.9 C702.23,392.42 705.41,394.57 704.76,395.08 C704.12,395.59 700.45,394.71 699.21,394.95 C697.97,395.18 697.89,396.11 697.34,396.49 C696.78,396.86 696.34,396.68 695.89,397.18 C695.44,397.68 695.15,399 694.65,399.51 C694.14,400.01 693.11,399.84 692.85,400.22 C692.6,400.6 693.39,401.33 693.11,401.77 C692.82,402.21 691.28,401.69 691.15,402.84 C691.03,403.99 692.48,407.75 692.35,408.67 C692.22,409.59 691.42,408.86 690.39,408.37 C689.36,407.87 686.86,405.62 686.19,405.68 C685.53,405.74 686.34,407.64 686.4,408.71 C686.47,409.79 687.33,412.19 686.58,412.11 C685.83,412.03 683.02,408.97 681.89,408.22 C680.77,407.47 680.42,407.27 679.84,407.59 C679.25,407.92 678.67,408.71 678.39,410.17 C678.1,411.62 678.52,415.54 678.11,416.33 C677.69,417.12 676.74,415.4 675.91,414.93 C675.07,414.47 673.57,412.85 673.09,413.55 C672.61,414.24 673.42,417.86 673.04,419.12 C672.66,420.38 671.59,420.56 670.79,421.1 C670,421.64 669.01,422.63 668.26,422.36 C667.51,422.08 667.16,419.13 666.3,419.46 C665.44,419.79 664.07,424.39 663.07,424.34 C662.08,424.28 660.97,419.71 660.32,419.13 C659.68,418.55 659.65,421.28 659.2,420.87 C658.74,420.47 658.53,416.95 657.58,416.69 C656.64,416.43 654.27,419.43 653.5,419.32 C652.74,419.22 653.41,416.93 653.01,416.05 C652.6,415.17 651.62,414.48 651.09,414.04 C650.55,413.59 650.47,413.63 649.8,413.35 C649.13,413.07 648.02,411.82 647.06,412.37 C646.1,412.92 644.54,416.71 644.05,416.66 C643.55,416.61 644.87,412.79 644.1,412.06 C643.34,411.33 640.09,412.89 639.45,412.25 C638.81,411.62 640.38,409.05 640.27,408.26 C640.15,407.48 639.48,407.65 638.77,407.55 C638.07,407.46 636.79,407.85 636.01,407.71 C635.24,407.57 634.47,407.35 634.12,406.7 C633.77,406.06 633.97,404.67 633.91,403.85 C633.85,403.02 633.9,402.45 633.77,401.77 C633.63,401.1 633.62,400.37 633.08,399.81 C632.54,399.24 630.97,399.19 630.53,398.39 C630.08,397.59 630.17,395.94 630.4,395 C630.63,394.07 632.39,393.19 631.91,392.76 C631.44,392.34 628.72,392.62 627.54,392.47 C626.37,392.33 625.59,392.4 624.89,391.9 C624.19,391.4 622.87,390.42 623.32,389.45 C623.78,388.49 627.68,386.93 627.63,386.1 C627.59,385.26 624.17,384.93 623.05,384.44 C621.92,383.95 621.08,383.79 620.88,383.17 C620.68,382.55 621.37,381.44 621.83,380.72 C622.29,380 623.31,379.35 623.66,378.84 C624.01,378.33 623.7,378.34 623.92,377.67 C624.15,377.01 624.58,375.67 625.02,374.84 C625.47,374.01 626.46,373.33 626.62,372.68 C626.78,372.04 625.81,371.5 625.96,370.98 C626.12,370.45 627.77,370.35 627.54,369.53 C627.3,368.71 624.55,366.88 624.55,366.06 C624.55,365.24 626.36,364.79 627.55,364.62 C628.75,364.44 631.62,365.56 631.74,365 C631.86,364.44 628.87,362.3 628.27,361.28 C627.68,360.26 628.4,359.87 628.16,358.89 C627.92,357.91 627.23,356.35 626.84,355.38 C626.44,354.41 625.81,353.99 625.78,353.07 C625.76,352.16 626.84,350.74 626.69,349.89 C626.54,349.04 624.48,348.32 624.89,347.96 C625.31,347.6 628.35,348.56 629.17,347.72 C630,346.88 629.33,343.58 629.83,342.93 C630.33,342.28 631.7,344.26 632.18,343.83 C632.65,343.4 632.14,340.83 632.66,340.34 C633.18,339.85 633.97,340.6 635.31,340.87 C636.64,341.13 640.09,342.61 640.64,341.93 C641.19,341.25 638.19,337.13 638.58,336.78 C638.97,336.43 642.45,340.33 643,339.81 C643.54,339.3 641.67,334.92 641.85,333.67 C642.04,332.42 643.36,332.71 644.11,332.31 C644.86,331.91 645.62,331.79 646.37,331.29 C647.13,330.79 647.57,328.62 648.65,329.32 C649.72,330.02 651.89,334.63 652.82,335.48 C653.75,336.34 653.43,334.26 654.23,334.46 C655.04,334.66 656.77,336.79 657.67,336.7 C658.58,336.61 659.09,333.7 659.66,333.91 C660.23,334.13 660.37,337.23 661.09,337.98 C661.81,338.73 663.15,338.03 663.98,338.4 C664.82,338.77 665.56,340.77 666.1,340.2 C666.64,339.63 666.75,334.91 667.25,334.99 C667.74,335.08 668.39,339.61 669.07,340.69 C669.74,341.77 670.63,342.01 671.31,341.47 C671.99,340.93 672.24,338.58 673.14,337.44 C674.03,336.29 676,334.93 676.68,334.63 C677.35,334.32 676.78,335.06 677.19,335.6 C677.6,336.14 678.29,337.87 679.12,337.85 C679.94,337.83 681.63,334.95 682.16,335.48 C682.69,336 681.75,340.21 682.3,341 C682.85,341.79 684.82,340.2 685.45,340.21 C686.09,340.22 685.35,340.79 686.13,341.05 C686.9,341.31 689.18,341.58 690.08,341.76 C690.98,341.95 691.52,341.46 691.53,342.16 C691.54,342.86 689.53,345.39 690.15,345.96 C690.77,346.53 694.3,345.25 695.27,345.57 C696.24,345.9 696.11,347.13 695.98,347.89 C695.86,348.65 694.09,349.68 694.52,350.12 C694.94,350.55 697.59,350.2 698.52,350.5 C699.45,350.8 699.75,351.3 700.1,351.9 C700.45,352.5 699.84,353.93 700.62,354.12 C701.41,354.31 704.46,352.53 704.81,353.03 C705.16,353.54 702.78,356.2 702.73,357.16 C702.69,358.13 703.84,358.44 704.53,358.83 C705.21,359.22 706.58,358.82 706.84,359.51 C707.1,360.2 706.3,362.06 706.09,362.94 C705.88,363.83 705.34,364.05 705.59,364.84 C705.84,365.63 707.96,366.91 707.58,367.7 C707.21,368.49 704.21,368.85 703.35,369.59 C702.48,370.32 701.49,371.48 702.38,372.09 C703.28,372.71 707.46,372.57 708.73,373.3 C710,374.04 710.57,375.72 710.02,376.5 Z" fill="none" stroke="#2e2e2e" stroke-width="0.6"/>
<path d="M695.35,370.67 C695.24,371.34 695.26,371.87 694.72,372.37 C694.17,372.87 692.85,373.78 692.07,373.68 C691.29,373.57 690.31,372.4 690.06,371.75 C689.81,371.1 690.16,370.23 690.57,369.79 C690.97,369.34 691.69,369.31 692.49,369.07 C693.28,368.84 694.88,368.1 695.35,368.37 C695.83,368.64 695.46,370.01 695.35,370.67 Z" fill="none" stroke="#2e2e2e" stroke-width="0.45"/>
<path d="M666.89,388.56 C666.95,389.11 666.1,390.14 665.48,390.38 C664.86,390.61 664.05,390.06 663.18,389.97 C662.31,389.87 660.59,390.18 660.26,389.8 C659.94,389.42 660.78,388.27 661.22,387.68 C661.66,387.09 662.27,386.35 662.91,386.25 C663.56,386.16 664.44,386.73 665.1,387.11 C665.76,387.5 666.82,388.02 666.89,388.56 Z" fill="none" stroke="#2e2e2e" stroke-width="0.45"/>
<path d="M660.46,386.71 C660.53,387.41 660.71,388.47 660.1,389 C659.49,389.52 657.91,389.98 656.8,389.86 C655.68,389.75 653.61,388.97 653.41,388.31 C653.2,387.65 655.01,386.7 655.58,385.91 C656.15,385.13 656.13,383.8 656.81,383.62 C657.5,383.44 659.08,384.31 659.68,384.83 C660.29,385.34 660.39,386.02 660.46,386.71 Z" fill="none" stroke="#2e2e2e" stroke-width="0.45"/>
<path d="M756.59,369.03 C756.89,369.53 756.08,370.25 755.78,370.78 C755.48,371.32 754.71,371.47 754.79,372.24 C754.87,373.01 756.4,374.68 756.25,375.41 C756.09,376.15 753.7,375.93 753.87,376.63 C754.03,377.33 756.64,378.54 757.22,379.61 C757.79,380.68 757.16,382.37 757.34,383.06 C757.52,383.75 759.04,383.51 758.3,383.76 C757.56,384 753.83,383.88 752.9,384.52 C751.96,385.15 752.48,386.59 752.69,387.57 C752.9,388.55 754.27,389.69 754.18,390.39 C754.09,391.1 753.28,391.66 752.14,391.78 C751,391.9 748.42,391.06 747.33,391.09 C746.24,391.13 746.24,391.62 745.61,392 C744.98,392.37 743.27,392.4 743.56,393.34 C743.85,394.28 747.34,397.04 747.35,397.64 C747.35,398.24 744.65,396.96 743.6,396.94 C742.56,396.92 741.45,396.6 741.07,397.52 C740.7,398.45 741.18,401.2 741.36,402.49 C741.54,403.78 742.55,404.61 742.15,405.24 C741.74,405.88 739.82,405.85 738.95,406.3 C738.07,406.75 737.2,407.34 736.87,407.95 C736.55,408.55 737.21,409.06 736.99,409.92 C736.78,410.79 736.41,412.86 735.58,413.16 C734.76,413.47 733.06,412.2 732.04,411.74 C731.03,411.28 729.9,409.9 729.51,410.39 C729.12,410.88 730.05,413.74 729.71,414.68 C729.36,415.61 728.35,415.84 727.46,416.01 C726.57,416.17 725.64,416.53 724.37,415.68 C723.11,414.83 720.66,411.5 719.87,410.92 C719.08,410.34 720.03,411.64 719.64,412.22 C719.25,412.79 718.33,414 717.53,414.35 C716.73,414.71 715.69,414.28 714.85,414.34 C714.01,414.41 713.13,414.97 712.5,414.73 C711.88,414.48 711.81,412.78 711.1,412.87 C710.39,412.97 709.19,415.29 708.23,415.31 C707.26,415.34 705.77,414.24 705.31,413.04 C704.85,411.85 705.84,408.4 705.47,408.16 C705.09,407.92 703.94,411.01 703.03,411.6 C702.13,412.19 700.57,412.46 700.04,411.7 C699.51,410.94 700.4,407.36 699.87,407.06 C699.35,406.77 697.63,410.23 696.87,409.94 C696.11,409.65 695.94,406.11 695.33,405.3 C694.71,404.49 693.37,405.95 693.2,405.08 C693.03,404.2 694.65,400.38 694.31,400.06 C693.97,399.74 691.97,403.15 691.17,403.16 C690.37,403.17 689.71,401.34 689.53,400.12 C689.35,398.89 690.31,396.2 690.08,395.8 C689.86,395.41 688.86,397.7 688.16,397.75 C687.46,397.8 686.61,396.53 685.88,396.12 C685.15,395.7 684.71,395.26 683.78,395.28 C682.85,395.3 681.54,396.16 680.3,396.25 C679.07,396.33 677.77,395.96 676.38,395.81 C674.98,395.66 672.64,395.93 671.96,395.34 C671.28,394.75 672.5,392.88 672.28,392.26 C672.07,391.64 670.25,392.47 670.65,391.63 C671.05,390.79 674.67,388.28 674.7,387.24 C674.72,386.2 671.42,385.96 670.79,385.4 C670.16,384.84 670.27,384.73 670.92,383.89 C671.57,383.05 674.3,381.05 674.71,380.34 C675.12,379.63 673.48,380.31 673.38,379.64 C673.28,378.97 675.11,376.99 674.09,376.32 C673.07,375.64 667.56,376.2 667.27,375.57 C666.99,374.95 671.96,373.36 672.41,372.55 C672.85,371.73 670.95,371.45 669.93,370.69 C668.92,369.94 666.39,368.58 666.31,368.03 C666.23,367.48 668.92,367.81 669.45,367.4 C669.98,366.99 669.99,366.51 669.48,365.58 C668.96,364.65 665.78,362.57 666.35,361.81 C666.93,361.06 671.81,361.69 672.91,361.06 C674.02,360.43 672.99,358.58 672.98,358.04 C672.97,357.5 673.06,358.39 672.87,357.83 C672.69,357.26 671.81,355.64 671.87,354.65 C671.94,353.66 672.36,352.37 673.23,351.91 C674.11,351.45 677.32,352.6 677.11,351.9 C676.9,351.21 671.9,348.52 671.96,347.75 C672.02,346.99 676.11,347.54 677.48,347.3 C678.85,347.07 680.34,347.41 680.17,346.32 C680,345.23 677.18,342.09 676.45,340.75 C675.71,339.41 675.3,338.7 675.76,338.3 C676.21,337.89 678.43,338.88 679.19,338.32 C679.95,337.76 679.6,335.26 680.32,334.96 C681.04,334.66 682.82,336.53 683.48,336.52 C684.14,336.52 683.48,335.23 684.27,334.94 C685.07,334.65 687.46,335.17 688.26,334.8 C689.07,334.43 688.44,332.74 689.11,332.7 C689.78,332.67 691.33,333.99 692.29,334.61 C693.26,335.23 694.08,336.36 694.91,336.44 C695.73,336.52 696.87,336.1 697.23,335.09 C697.58,334.09 696.8,331 697.05,330.43 C697.3,329.86 698.05,331.4 698.71,331.67 C699.37,331.94 700.32,332.16 701.02,332.06 C701.72,331.96 702.03,331.08 702.9,331.07 C703.77,331.05 705.69,332.35 706.26,331.98 C706.84,331.62 706.01,329.49 706.36,328.88 C706.71,328.27 707.68,328.8 708.35,328.33 C709.02,327.86 709.63,326.74 710.38,326.05 C711.12,325.37 712.05,324.19 712.81,324.23 C713.57,324.27 714.42,325.95 714.94,326.3 C715.47,326.65 715.23,326.42 715.94,326.33 C716.64,326.24 718.43,325.21 719.18,325.77 C719.92,326.33 719.65,329.82 720.41,329.7 C721.17,329.58 722.92,325.57 723.73,325.07 C724.55,324.57 724.79,326.05 725.28,326.69 C725.78,327.33 725.94,328.87 726.71,328.93 C727.49,328.99 729.14,327.48 729.92,327.07 C730.7,326.65 730.43,327.14 731.41,326.46 C732.39,325.78 734.91,322.84 735.78,323 C736.66,323.15 735.59,327.25 736.68,327.39 C737.76,327.53 741.73,323.58 742.31,323.86 C742.9,324.15 740.06,328.22 740.16,329.1 C740.26,329.98 742.36,328.58 742.91,329.13 C743.47,329.68 742.51,331.81 743.5,332.37 C744.49,332.94 748.05,331.97 748.85,332.52 C749.66,333.07 749.15,334.15 748.33,335.68 C747.5,337.21 743.9,340.97 743.89,341.69 C743.88,342.41 747.55,339.52 748.28,340 C749.02,340.48 748.46,343.47 748.31,344.57 C748.16,345.67 746.98,346.09 747.35,346.61 C747.72,347.13 750.26,346.94 750.54,347.69 C750.81,348.43 749.43,350.28 749.01,351.07 C748.58,351.86 747.53,352.11 747.96,352.42 C748.39,352.74 750.68,352.58 751.58,352.97 C752.48,353.35 752.6,354.07 753.34,354.75 C754.08,355.43 755.27,356.35 756.02,357.04 C756.76,357.73 758.07,358.18 757.8,358.9 C757.54,359.61 754.36,360.61 754.44,361.33 C754.51,362.05 758.14,362.46 758.25,363.2 C758.36,363.93 755.84,364.98 755.12,365.74 C754.41,366.51 753.71,367.23 753.96,367.78 C754.2,368.32 756.28,368.53 756.59,369.03 Z" fill="none" stroke="#2e2e2e" stroke-width="0.6"/>
<path d="M712.48,358.08 C712.43,358.95 711.29,359.88 710.32,360.53 C709.34,361.18 707.79,362.12 706.62,361.99 C705.44,361.86 703.79,360.67 703.27,359.76 C702.74,358.84 702.9,357.35 703.47,356.49 C704.05,355.63 705.55,354.77 706.74,354.58 C707.93,354.39 709.66,354.77 710.61,355.35 C711.57,355.93 712.53,357.22 712.48,358.08 Z" fill="none" stroke="#2e2e2e" stroke-width="0.45"/>
<path d="M733.83,385.62 C733.82,385.87 733.34,386.12 733,386.35 C732.67,386.57 732.28,386.97 731.85,386.97 C731.41,386.96 730.53,386.59 730.41,386.29 C730.29,386 730.88,385.52 731.12,385.2 C731.36,384.88 731.55,384.45 731.88,384.38 C732.21,384.32 732.76,384.6 733.08,384.81 C733.41,385.02 733.84,385.36 733.83,385.62 Z" fill="none" stroke="#2e2e2e" stroke-width="0.45"/>
<path d="M738.37,365.58 C738.35,366 737.83,366.51 737.38,366.77 C736.94,367.02 736.2,367.2 735.71,367.11 C735.21,367.02 734.57,366.57 734.41,366.23 C734.26,365.89 734.55,365.37 734.78,365.07 C735.02,364.78 735.38,364.61 735.83,364.48 C736.29,364.35 737.08,364.1 737.5,364.29 C737.93,364.47 738.39,365.17 738.37,365.58 Z" fill="none" stroke="#2e2e2e" stroke-width="0.45"/>
<path d="M731.25,383.58 C731.12,384.17 729.75,384.62 729.04,384.97 C728.33,385.31 727.56,385.77 726.99,385.66 C726.42,385.55 725.88,384.8 725.62,384.32 C725.35,383.84 725.19,383.38 725.38,382.76 C725.56,382.13 725.97,380.78 726.71,380.57 C727.45,380.35 729.04,380.96 729.8,381.47 C730.56,381.97 731.38,383 731.25,383.58 Z" fill="none" stroke="#2e2e2e" stroke-width="0.45"/>
<path d="M747.52,383.3 C747.49,383.91 747.29,384.81 746.79,385.06 C746.29,385.3 745.15,384.94 744.53,384.77 C743.92,384.59 743.35,384.35 743.1,383.99 C742.86,383.62 742.84,383.03 743.06,382.59 C743.27,382.15 743.73,381.55 744.39,381.34 C745.04,381.14 746.46,381.03 746.98,381.35 C747.51,381.68 747.55,382.68 747.52,383.3 Z" fill="none" stroke="#2e2e2e" stroke-width="0.45"/>
<path d="M868.23,241.76 C867.83,242.49 867.94,242.77 867.44,243.37 C866.93,243.97 865.74,244.59 865.2,245.35 C864.65,246.11 864.15,247.08 864.15,247.93 C864.16,248.78 864.89,249.92 865.24,250.48 C865.59,251.04 866.16,250.75 866.25,251.31 C866.34,251.86 866.5,253.28 865.76,253.82 C865.02,254.36 862.45,254.14 861.81,254.54 C861.16,254.95 861.6,255.39 861.88,256.25 C862.16,257.1 863.07,258.66 863.48,259.65 C863.9,260.65 865.35,262.09 864.37,262.21 C863.4,262.34 858.56,260.12 857.63,260.38 C856.69,260.64 857.98,262.66 858.78,263.79 C859.57,264.92 862.27,266.43 862.41,267.17 C862.56,267.9 860.79,268.12 859.64,268.22 C858.49,268.32 855.97,267.24 855.53,267.76 C855.08,268.27 857.03,270.47 856.96,271.3 C856.89,272.12 855.1,271.74 855.11,272.72 C855.11,273.69 857.06,276.24 857,277.15 C856.94,278.06 855.06,277.29 854.74,278.18 C854.41,279.06 855.09,281.29 855.05,282.44 C855.01,283.58 855.06,284.27 854.51,285.04 C853.95,285.81 852.54,286.16 851.73,287.05 C850.91,287.94 850.25,290.14 849.61,290.37 C848.98,290.59 848.78,288.59 847.92,288.43 C847.05,288.27 845.46,289.3 844.42,289.41 C843.37,289.51 842.8,289.72 841.64,289.07 C840.48,288.42 838.17,285.63 837.46,285.53 C836.75,285.43 838.06,288.96 837.39,288.45 C836.73,287.95 834.28,282.89 833.47,282.48 C832.66,282.07 833.17,285.42 832.53,285.99 C831.88,286.57 830.31,285.79 829.61,285.93 C828.91,286.07 829.02,287.42 828.34,286.81 C827.65,286.21 826.35,282.28 825.48,282.32 C824.61,282.35 823.78,286.07 823.12,287.01 C822.46,287.95 822.18,288.61 821.52,287.96 C820.86,287.32 819.8,283.37 819.17,283.15 C818.54,282.94 818.42,286.82 817.76,286.67 C817.11,286.52 816,282.53 815.26,282.25 C814.52,281.98 813.87,285.21 813.33,285.02 C812.78,284.83 812.26,282.41 811.99,281.11 C811.71,279.81 812.1,277.58 811.67,277.2 C811.24,276.82 810.45,278.63 809.43,278.83 C808.41,279.02 806.23,278.92 805.57,278.37 C804.92,277.82 806.01,275.61 805.52,275.53 C805.02,275.45 803.53,277.73 802.61,277.88 C801.68,278.02 800.36,277.06 799.97,276.39 C799.58,275.72 800.86,274.07 800.26,273.87 C799.67,273.67 796.95,275.53 796.39,275.18 C795.82,274.82 797.58,272.13 796.86,271.75 C796.15,271.38 792.73,273.21 792.1,272.93 C791.46,272.65 793.12,270.96 793.05,270.06 C792.99,269.16 792.53,267.78 791.7,267.53 C790.87,267.29 788.47,268.91 788.07,268.58 C787.66,268.26 788.7,266.89 789.29,265.59 C789.88,264.29 791.53,261.71 791.62,260.76 C791.7,259.81 789.64,260.62 789.78,259.9 C789.93,259.18 792.66,257.02 792.5,256.46 C792.34,255.89 789.75,256.73 788.83,256.51 C787.9,256.29 787.11,255.71 786.93,255.13 C786.74,254.56 788.5,253.69 787.73,253.07 C786.96,252.46 783.26,252.01 782.29,251.46 C781.32,250.92 782.3,250.51 781.9,249.8 C781.5,249.09 779.68,248.12 779.9,247.2 C780.12,246.27 783.27,244.88 783.22,244.26 C783.17,243.64 780.24,243.96 779.61,243.48 C778.99,242.99 780.08,242.18 779.49,241.35 C778.9,240.53 776.2,239.37 776.1,238.55 C775.99,237.73 778.67,237.28 778.86,236.44 C779.06,235.61 776.91,234.29 777.26,233.55 C777.6,232.8 781.09,232.72 780.93,231.95 C780.78,231.18 776.52,229.86 776.32,228.92 C776.12,227.97 778.63,227 779.72,226.3 C780.81,225.6 782.15,225.01 782.87,224.71 C783.58,224.4 783.77,224.85 783.99,224.47 C784.22,224.09 783.8,223.07 784.22,222.42 C784.64,221.78 786.23,221.48 786.52,220.59 C786.8,219.71 786.11,218.19 785.93,217.11 C785.74,216.02 785.11,214.53 785.39,214.07 C785.68,213.61 786.48,214.36 787.64,214.33 C788.8,214.31 791.18,214.31 792.35,213.9 C793.53,213.5 794.56,212.57 794.69,211.88 C794.82,211.2 792.16,209.65 793.12,209.79 C794.09,209.93 799.56,213.05 800.48,212.7 C801.41,212.35 797.91,207.72 798.67,207.68 C799.43,207.64 804.07,212.36 805.04,212.48 C806.01,212.6 804.32,209.18 804.48,208.42 C804.63,207.65 805.56,208.18 805.97,207.91 C806.39,207.64 806.24,206.38 806.97,206.79 C807.7,207.19 809.56,210.36 810.36,210.33 C811.16,210.29 811.62,207.99 811.77,206.56 C811.92,205.14 810.93,202.13 811.25,201.78 C811.57,201.42 812.8,204.3 813.69,204.45 C814.57,204.61 815.85,203.13 816.56,202.7 C817.27,202.27 817.6,203.22 817.95,201.85 C818.29,200.48 818.25,195.34 818.62,194.48 C818.98,193.61 819.27,196.14 820.12,196.68 C820.98,197.22 822.92,197.28 823.75,197.71 C824.57,198.14 824.31,199.26 825.06,199.27 C825.81,199.27 827.44,198.01 828.26,197.74 C829.08,197.48 829.46,197.59 829.97,197.66 C830.49,197.74 830.54,198.39 831.34,198.22 C832.14,198.04 834.03,195.78 834.79,196.61 C835.55,197.44 835.44,203.01 835.92,203.19 C836.39,203.37 836.63,198.62 837.64,197.68 C838.66,196.74 841.18,197.13 841.99,197.56 C842.8,198 842.33,199.4 842.5,200.28 C842.68,201.16 842.5,202.63 843.02,202.86 C843.55,203.1 844.88,201.69 845.63,201.7 C846.39,201.7 846.6,202.75 847.55,202.91 C848.51,203.06 849.99,202.85 851.36,202.62 C852.73,202.38 855.54,200.5 855.77,201.51 C856,202.51 853.1,207.32 852.72,208.65 C852.35,209.97 852.79,209.6 853.54,209.46 C854.29,209.32 856.19,207.91 857.21,207.82 C858.24,207.72 859.22,208.24 859.69,208.88 C860.16,209.52 860.08,210.75 860.03,211.66 C859.98,212.56 858.86,213.56 859.39,214.28 C859.92,215 862.79,215.16 863.22,215.99 C863.66,216.81 861.37,218.78 862,219.24 C862.63,219.71 866.59,218.17 867.01,218.78 C867.42,219.4 864.36,222.42 864.51,222.94 C864.65,223.46 867.44,221.32 867.87,221.89 C868.29,222.46 866.63,225.72 867.04,226.35 C867.46,226.99 869.08,225.64 870.35,225.7 C871.62,225.77 874.7,225.8 874.67,226.75 C874.64,227.7 871.26,230.07 870.17,231.39 C869.08,232.7 868.5,233.89 868.12,234.65 C867.73,235.41 868.37,235.32 867.86,235.94 C867.35,236.55 864.7,237.84 865.04,238.35 C865.37,238.85 869.35,238.41 869.88,238.98 C870.41,239.55 868.64,241.03 868.23,241.76 Z" fill="none" stroke="#2e2e2e" stroke-width="0.6"/>
<path d="M847.82,216.43 C848.02,217.18 847.77,218.88 847.04,219.26 C846.3,219.65 844.61,218.96 843.41,218.75 C842.22,218.54 840.31,218.59 839.88,218 C839.44,217.41 840.29,216.11 840.8,215.21 C841.32,214.31 842.13,212.68 842.97,212.61 C843.8,212.53 845.02,214.13 845.82,214.77 C846.63,215.41 847.62,215.68 847.82,216.43 Z" fill="none" stroke="#2e2e2e" stroke-width="0.45"/>
<path d="M857.11,236.12 C857.06,236.51 856.44,236.99 856.03,237.16 C855.62,237.32 855.15,237.15 854.67,237.08 C854.2,237.02 853.5,237.09 853.17,236.79 C852.84,236.49 852.45,235.56 852.7,235.29 C852.95,235.01 854.06,235.22 854.67,235.14 C855.27,235.06 855.92,234.64 856.33,234.81 C856.73,234.97 857.16,235.73 857.11,236.12 Z" fill="none" stroke="#2e2e2e" stroke-width="0.45"/>
<path d="M865.23,245.27 C865.19,245.86 863.57,246.44 862.72,246.93 C861.86,247.42 860.87,248.33 860.12,248.23 C859.36,248.13 858.64,247.02 858.19,246.31 C857.75,245.59 857.1,244.57 857.43,243.95 C857.77,243.33 859.28,242.69 860.2,242.59 C861.12,242.5 862.12,242.93 862.96,243.37 C863.8,243.82 865.27,244.68 865.23,245.27 Z" fill="none" stroke="#2e2e2e" stroke-width="0.45"/>
<path d="M843.35,234.1 C843.32,234.77 843.12,235.62 842.54,236 C841.97,236.38 840.56,236.57 839.91,236.38 C839.25,236.18 838.91,235.36 838.62,234.83 C838.33,234.3 837.97,233.72 838.18,233.21 C838.39,232.7 839.13,231.97 839.89,231.77 C840.65,231.57 842.17,231.62 842.75,232.01 C843.33,232.4 843.38,233.44 843.35,234.1 Z" fill="none" stroke="#2e2e2e" stroke-width="0.45"/>
<path d="M803.89,240.58 C803.97,240.91 803.98,241.59 803.68,241.79 C803.37,241.99 802.45,241.92 802.07,241.78 C801.68,241.65 801.65,241.28 801.39,240.96 C801.13,240.64 800.38,240.09 800.51,239.87 C800.64,239.65 801.69,239.66 802.15,239.65 C802.6,239.64 802.94,239.65 803.23,239.8 C803.52,239.95 803.82,240.25 803.89,240.58 Z" fill="none" stroke="#2e2e2e" stroke-width="0.45"/>
<path d="M856.82,231.68 C856.81,232.14 856.87,232.75 856.51,233.02 C856.15,233.29 855.2,233.4 854.64,233.3 C854.07,233.2 853.47,232.85 853.11,232.42 C852.76,231.99 852.28,231.2 852.5,230.71 C852.73,230.23 853.8,229.59 854.48,229.52 C855.16,229.44 856.19,229.91 856.58,230.27 C856.97,230.63 856.83,231.22 856.82,231.68 Z" fill="none" stroke="#2e2e2e" stroke-width="0.45"/>
<circle cx="826" cy="242" r="0.35" fill="#1e1e1e" stroke="#1e1e1e" stroke-width="0.3"/>
<path d="M921.18,320.33 C920.26,321.23 918.76,321.15 918.22,321.97 C917.68,322.78 918.19,324.3 917.92,325.22 C917.65,326.14 917.11,327.08 916.61,327.48 C916.11,327.88 915.22,327.1 914.92,327.63 C914.61,328.16 914.79,329.63 914.77,330.67 C914.76,331.71 915.3,333.31 914.84,333.89 C914.38,334.47 912.62,333.74 912.03,334.17 C911.44,334.6 912.21,336.06 911.29,336.48 C910.37,336.9 907.65,336.31 906.53,336.68 C905.4,337.05 905.19,338.33 904.53,338.69 C903.88,339.06 902.35,338.05 902.6,338.86 C902.85,339.67 905.49,342.39 906.02,343.53 C906.54,344.68 905.86,344.89 905.74,345.74 C905.63,346.59 905.02,347.7 905.33,348.63 C905.64,349.57 908.02,351.12 907.61,351.36 C907.2,351.59 903.76,349.9 902.86,350.04 C901.95,350.18 902.2,351.05 902.19,352.21 C902.17,353.37 903.48,356.52 902.76,357.03 C902.04,357.53 898.35,355 897.85,355.22 C897.36,355.45 899.72,357.27 899.79,358.39 C899.86,359.5 899.25,361.51 898.28,361.92 C897.32,362.34 895.2,361.59 894,360.88 C892.8,360.17 891.53,357.27 891.07,357.67 C890.62,358.07 892.1,363.09 891.27,363.29 C890.43,363.5 886.73,358.81 886.08,358.9 C885.43,358.99 887.89,363.4 887.35,363.82 C886.81,364.25 883.38,360.86 882.84,361.44 C882.31,362.01 884.56,366.88 884.14,367.28 C883.73,367.68 881.05,363.7 880.37,363.84 C879.69,363.99 880.21,366.95 880.07,368.15 C879.94,369.35 880.14,370.43 879.54,371.05 C878.94,371.67 877.36,372.53 876.48,371.86 C875.59,371.19 874.78,366.85 874.22,367.03 C873.66,367.21 873.79,371.44 873.12,372.91 C872.44,374.39 871.08,376.2 870.17,375.89 C869.27,375.58 868.39,372.12 867.68,371.05 C866.97,369.98 866.64,369.65 865.93,369.49 C865.22,369.33 864.21,370.35 863.42,370.08 C862.64,369.81 861.7,367.91 861.2,367.87 C860.69,367.82 860.82,370.19 860.41,369.79 C860.01,369.4 859.38,366 858.78,365.5 C858.18,365 857.76,365.48 856.83,366.77 C855.9,368.05 853.81,373.27 853.23,373.21 C852.64,373.16 853.91,367.31 853.31,366.43 C852.71,365.55 850.44,367.59 849.63,367.94 C848.82,368.29 849.03,368.05 848.44,368.55 C847.86,369.05 846.86,371.01 846.13,370.93 C845.39,370.85 845.08,367.66 844.04,368.07 C843,368.48 840.76,373.11 839.9,373.4 C839.03,373.68 839.63,369.67 838.83,369.79 C838.03,369.9 835.9,374.15 835.12,374.09 C834.34,374.04 834.66,370.16 834.17,369.47 C833.67,368.78 833.09,370.15 832.17,369.94 C831.25,369.74 829.31,368.79 828.66,368.26 C828.01,367.74 829.19,366.57 828.28,366.78 C827.37,367 824.65,369.32 823.22,369.56 C821.79,369.79 819.91,369.23 819.68,368.21 C819.45,367.18 821.12,365.08 821.84,363.39 C822.55,361.7 824.48,358.94 823.98,358.08 C823.48,357.23 819.27,359.03 818.85,358.27 C818.42,357.52 822.01,354.03 821.44,353.56 C820.87,353.1 816.2,355.71 815.42,355.49 C814.64,355.26 816.43,353.01 816.77,352.21 C817.12,351.41 817.66,351.46 817.5,350.68 C817.33,349.91 815.97,348.44 815.8,347.55 C815.64,346.67 816.2,346.07 816.5,345.35 C816.8,344.62 818.44,343.39 817.59,343.21 C816.74,343.03 812.47,344.55 811.41,344.25 C810.34,343.95 811.01,342.6 811.22,341.42 C811.42,340.24 812.48,338.09 812.62,337.19 C812.76,336.28 812.59,336.45 812.06,335.99 C811.53,335.52 808.85,335.17 809.43,334.41 C810.01,333.64 815.31,332.04 815.54,331.38 C815.77,330.73 810.57,331.16 810.8,330.5 C811.04,329.83 816.25,328.23 816.96,327.41 C817.67,326.58 814.95,326.29 815.07,325.54 C815.19,324.78 818.19,323.4 817.68,322.89 C817.17,322.39 812.53,322.9 812,322.5 C811.47,322.1 814.22,321.14 814.52,320.47 C814.83,319.81 813.1,319.04 813.82,318.53 C814.53,318.02 818.45,318.01 818.84,317.41 C819.22,316.82 817.51,315.89 816.11,314.98 C814.71,314.06 811.1,312.62 810.44,311.92 C809.78,311.23 812.63,311.78 812.14,310.8 C811.65,309.83 807.55,306.82 807.49,306.05 C807.44,305.29 811.41,306.66 811.8,306.23 C812.18,305.8 809.82,304.34 809.81,303.47 C809.8,302.61 811.95,301.78 811.75,301.05 C811.54,300.32 808.37,299.75 808.58,299.1 C808.78,298.45 812.44,297.85 812.98,297.14 C813.51,296.43 812.2,295.63 811.79,294.86 C811.38,294.08 810.64,293.64 810.51,292.47 C810.37,291.3 810.07,288.28 810.99,287.81 C811.91,287.35 814.42,289.32 816.05,289.67 C817.69,290.02 820.27,290.38 820.79,289.91 C821.31,289.44 819.38,287.64 819.16,286.83 C818.95,286.01 818.71,285.51 819.5,285.02 C820.3,284.53 822.7,284.05 823.93,283.87 C825.17,283.69 826.51,284.39 826.93,283.93 C827.35,283.47 826.95,282.24 826.48,281.1 C826,279.95 824.12,277.92 824.06,277.05 C824,276.17 825.01,275.8 826.12,275.85 C827.23,275.9 829.77,277.76 830.73,277.37 C831.7,276.99 831.27,273.91 831.92,273.55 C832.56,273.19 834.11,275.2 834.6,275.21 C835.09,275.22 834.32,274.06 834.88,273.62 C835.45,273.19 837.2,273.23 838,272.61 C838.79,271.98 839.09,270.51 839.66,269.87 C840.22,269.22 840.78,268.62 841.4,268.76 C842.03,268.89 842.74,271.18 843.4,270.66 C844.07,270.15 844.64,265.72 845.4,265.67 C846.15,265.62 847.22,270.33 847.93,270.35 C848.65,270.38 849.17,266.52 849.69,265.83 C850.22,265.15 850.43,266.49 851.07,266.24 C851.71,265.99 852.83,264.09 853.55,264.32 C854.27,264.55 854.73,266.64 855.41,267.62 C856.09,268.59 856.76,270.26 857.64,270.18 C858.53,270.1 859.89,268.13 860.73,267.15 C861.58,266.17 861.99,265.14 862.7,264.29 C863.41,263.43 864.34,261.39 864.98,262.03 C865.62,262.67 865.97,267.71 866.52,268.14 C867.06,268.56 867.69,264.97 868.25,264.59 C868.8,264.22 869.08,266.24 869.86,265.89 C870.63,265.54 871.97,261.99 872.9,262.5 C873.83,263.02 874.62,268.47 875.42,268.98 C876.23,269.49 877.2,265 877.71,265.58 C878.23,266.16 878.28,271 878.53,272.46 C878.77,273.92 878.93,273.35 879.21,274.33 C879.48,275.32 879.55,278.29 880.15,278.36 C880.75,278.43 882.69,274.18 882.82,274.77 C882.95,275.36 880.73,280.94 880.93,281.9 C881.14,282.86 882.81,281.07 884.07,280.54 C885.33,280.02 887.98,278.08 888.5,278.74 C889.02,279.39 887.01,283.85 887.19,284.47 C887.37,285.08 889.05,282.58 889.57,282.44 C890.09,282.3 890.22,282.71 890.29,283.64 C890.35,284.57 888.91,287.8 889.95,288.04 C891,288.27 895.98,284.79 896.54,285.02 C897.1,285.26 892.96,289.15 893.32,289.43 C893.67,289.7 897.87,286.72 898.66,286.66 C899.45,286.61 897.21,288.92 898.07,289.1 C898.93,289.28 902.3,287.75 903.83,287.74 C905.36,287.72 906.59,288.45 907.27,289.01 C907.94,289.57 907.58,290.44 907.85,291.09 C908.13,291.74 909.29,291.87 908.94,292.91 C908.6,293.95 905.27,296.61 905.78,297.31 C906.29,298.01 911.42,296.66 912,297.09 C912.57,297.52 908.9,299.53 909.23,299.9 C909.56,300.27 913.4,298.98 913.96,299.33 C914.52,299.69 912.56,301 912.59,302.02 C912.62,303.04 913.91,304.74 914.15,305.44 C914.39,306.14 914.03,305.46 914.02,306.22 C914,306.97 912.98,309.23 914.06,309.95 C915.15,310.67 919.33,310.03 920.54,310.54 C921.75,311.04 921,312.13 921.34,312.98 C921.68,313.83 922.18,315.05 922.58,315.64 C922.98,316.24 923.97,315.77 923.73,316.55 C923.5,317.33 922.1,319.43 921.18,320.33 Z" fill="none" stroke="#2e2e2e" stroke-width="0.6"/>
<path d="M878.86,305.72 C878.78,306.29 878.55,306.83 878.05,307.21 C877.55,307.59 876.61,308.04 875.83,307.98 C875.06,307.93 873.77,307.44 873.38,306.88 C872.98,306.32 873.1,305.24 873.49,304.6 C873.88,303.97 874.89,303.21 875.72,303.08 C876.56,302.95 877.97,303.36 878.49,303.8 C879.02,304.24 878.93,305.15 878.86,305.72 Z" fill="none" stroke="#2e2e2e" stroke-width="0.45"/>
<path d="M844.76,327.62 C844.83,328.01 844.7,328.77 844.33,328.99 C843.95,329.21 843.12,329.04 842.51,328.95 C841.9,328.86 841,328.81 840.68,328.44 C840.36,328.08 840.33,327.26 840.59,326.76 C840.85,326.26 841.7,325.46 842.26,325.44 C842.81,325.42 843.5,326.28 843.91,326.65 C844.33,327.01 844.69,327.23 844.76,327.62 Z" fill="none" stroke="#2e2e2e" stroke-width="0.45"/>
<path d="M880.34,311.49 C880.34,311.89 878.94,312.27 878.24,312.72 C877.55,313.16 876.76,314.24 876.17,314.18 C875.58,314.11 875.02,312.93 874.72,312.32 C874.42,311.71 874.1,311.01 874.37,310.53 C874.65,310.04 875.72,309.47 876.36,309.43 C876.99,309.39 877.52,309.97 878.19,310.31 C878.85,310.66 880.33,311.09 880.34,311.49 Z" fill="none" stroke="#2e2e2e" stroke-width="0.45"/>
<path d="M848.94,333.17 C848.86,333.63 847.14,334.02 846.42,334.34 C845.7,334.66 845.28,335.11 844.64,335.07 C844,335.04 843.04,334.65 842.59,334.13 C842.14,333.62 841.57,332.35 841.93,331.95 C842.3,331.56 843.95,331.81 844.78,331.74 C845.61,331.67 846.2,331.3 846.89,331.54 C847.59,331.77 849.02,332.7 848.94,333.17 Z" fill="none" stroke="#2e2e2e" stroke-width="0.45"/>
<path d="M892.37,298.41 C892.3,298.73 892.09,299.02 891.81,299.18 C891.54,299.35 891.05,299.44 890.72,299.38 C890.38,299.33 889.94,299.08 889.8,298.85 C889.67,298.62 889.76,298.29 889.89,297.99 C890.03,297.7 890.24,297.23 890.62,297.11 C891,296.98 891.9,297.04 892.2,297.26 C892.49,297.48 892.43,298.09 892.37,298.41 Z" fill="none" stroke="#2e2e2e" stroke-width="0.45"/>
<path d="M866.72,337.46 C866.71,337.98 866.4,338.71 865.93,338.97 C865.46,339.22 864.51,339.12 863.91,339 C863.3,338.88 862.41,338.57 862.28,338.23 C862.14,337.9 862.81,337.4 863.07,336.98 C863.34,336.57 863.36,335.92 863.85,335.74 C864.34,335.55 865.54,335.57 866.02,335.86 C866.5,336.15 866.74,336.94 866.72,337.46 Z" fill="none" stroke="#2e2e2e" stroke-width="0.45"/>
<path d="M849.72,323.36 C849.68,323.76 849.63,324.19 849.3,324.44 C848.97,324.69 848.3,324.9 847.74,324.85 C847.18,324.81 846.07,324.5 845.96,324.18 C845.85,323.86 846.77,323.3 847.08,322.95 C847.38,322.6 847.4,322.23 847.8,322.09 C848.21,321.94 849.2,321.85 849.52,322.06 C849.84,322.28 849.76,322.96 849.72,323.36 Z" fill="none" stroke="#2e2e2e" stroke-width="0.45"/>
<path d="M843.23,292.77 C843.14,293.13 842.84,293.35 842.5,293.59 C842.17,293.83 841.58,294.26 841.22,294.2 C840.87,294.15 840.62,293.6 840.38,293.24 C840.14,292.89 839.6,292.3 839.77,292.07 C839.93,291.85 840.85,292 841.39,291.89 C841.93,291.79 842.71,291.31 843.02,291.45 C843.32,291.6 843.32,292.41 843.23,292.77 Z" fill="none" stroke="#2e2e2e" stroke-width="0.45"/>
<path d="M854.46,330.76 C854.42,331.32 853.42,331.8 852.7,332.32 C851.98,332.85 850.95,333.98 850.14,333.91 C849.33,333.85 848.33,332.71 847.85,331.95 C847.37,331.19 846.84,329.95 847.25,329.34 C847.67,328.73 849.39,328.34 850.34,328.27 C851.29,328.2 852.29,328.51 852.98,328.92 C853.66,329.34 854.51,330.19 854.46,330.76 Z" fill="none" stroke="#2e2e2e" stroke-width="0.45"/>
<path d="M868.7,297.93 C868.52,298.57 867.36,298.93 866.65,299.35 C865.94,299.77 865.08,300.53 864.44,300.44 C863.8,300.35 863.07,299.37 862.82,298.81 C862.56,298.25 862.67,297.74 862.92,297.09 C863.16,296.45 863.5,295.21 864.3,294.95 C865.09,294.68 866.96,295.01 867.69,295.51 C868.43,296.01 868.87,297.29 868.7,297.93 Z" fill="none" stroke="#2e2e2e" stroke-width="0.45"/>
<path d="M860.67,385.34 C860.74,385.89 856.32,386.02 856.43,386.69 C856.54,387.36 861.44,388.56 861.34,389.38 C861.25,390.2 856.56,390.94 855.88,391.62 C855.21,392.31 856.79,392.81 857.3,393.49 C857.8,394.18 858.65,395.08 858.93,395.74 C859.21,396.4 859.4,396.95 858.98,397.44 C858.55,397.93 856.85,398.09 856.39,398.68 C855.93,399.27 856.86,400.27 856.22,400.99 C855.58,401.7 852.98,402.42 852.54,402.97 C852.1,403.52 853.57,403.46 853.59,404.31 C853.61,405.16 853.46,407.54 852.67,408.08 C851.88,408.62 849.68,407.62 848.84,407.55 C848,407.48 847.99,407.26 847.63,407.64 C847.27,408.02 846.66,408.7 846.68,409.82 C846.7,410.94 848.02,413.34 847.74,414.36 C847.46,415.38 846.12,416.21 845.02,415.92 C843.92,415.64 842.11,413.05 841.12,412.65 C840.13,412.24 839.52,412.88 839.09,413.51 C838.67,414.14 839.19,416.24 838.58,416.43 C837.97,416.63 836.36,414.97 835.44,414.68 C834.52,414.39 833.32,414.14 833.04,414.69 C832.76,415.25 833.98,416.51 833.76,418.03 C833.53,419.55 832.5,423.27 831.69,423.84 C830.88,424.41 829.56,421.68 828.91,421.44 C828.25,421.19 828.32,421.58 827.76,422.37 C827.2,423.15 826.06,425.92 825.54,426.16 C825.02,426.4 825.27,423.78 824.65,423.81 C824.03,423.84 822.84,425.26 821.83,426.35 C820.81,427.44 819.46,430.42 818.57,430.33 C817.69,430.24 816.95,426.77 816.51,425.79 C816.07,424.81 816.75,424.57 815.94,424.45 C815.12,424.32 812.64,424.63 811.62,425.05 C810.6,425.46 810.28,427.09 809.81,426.92 C809.33,426.74 809.27,425.41 808.78,424.01 C808.29,422.6 807.46,418.99 806.86,418.5 C806.25,418.02 805.78,421.22 805.16,421.08 C804.54,420.94 803.52,418.42 803.13,417.65 C802.73,416.87 803.52,416.23 802.78,416.41 C802.05,416.58 799.45,419 798.72,418.72 C798,418.43 798.67,415.63 798.43,414.71 C798.19,413.79 797.64,414.01 797.3,413.2 C796.96,412.39 797.05,410.46 796.37,409.88 C795.69,409.3 793.19,410.34 793.23,409.71 C793.27,409.08 796.82,406.54 796.61,406.09 C796.41,405.64 792.75,407.27 792.01,407.01 C791.26,406.75 792.06,405.45 792.12,404.51 C792.18,403.57 792.63,402.03 792.36,401.37 C792.09,400.71 790.68,401.19 790.52,400.53 C790.36,399.88 792.12,397.77 791.39,397.46 C790.66,397.16 787.24,398.91 786.12,398.7 C785.01,398.48 785.49,396.59 784.71,396.17 C783.94,395.74 782.43,396.69 781.45,396.18 C780.47,395.67 778.47,394.05 778.85,393.1 C779.23,392.16 783.51,391.13 783.72,390.49 C783.92,389.85 780.39,390.02 780.07,389.26 C779.75,388.51 781.42,386.69 781.8,385.96 C782.19,385.24 781.68,385.68 782.38,384.89 C783.08,384.1 785.26,381.89 786,381.21 C786.74,380.53 787.1,381.21 786.82,380.79 C786.53,380.38 784.86,379.72 784.29,378.73 C783.71,377.73 783.12,375.67 783.36,374.82 C783.6,373.98 785.42,374.28 785.73,373.66 C786.04,373.03 785.16,371.59 785.24,371.08 C785.31,370.57 785.57,371.17 786.17,370.59 C786.77,370.01 789.12,368.67 788.82,367.61 C788.53,366.55 784.86,365.08 784.39,364.24 C783.92,363.4 785.28,363.07 786.01,362.59 C786.75,362.11 787.94,361.94 788.79,361.34 C789.65,360.74 790.61,359.76 791.14,358.99 C791.67,358.21 791.78,357.3 791.99,356.68 C792.2,356.06 791.57,355.37 792.42,355.27 C793.27,355.18 796.5,356.42 797.07,356.1 C797.64,355.78 795.67,353.89 795.83,353.37 C795.99,352.84 797.38,353.83 798.04,352.93 C798.71,352.03 799,348.35 799.84,347.96 C800.68,347.58 802.51,351.17 803.11,350.6 C803.7,350.03 803.1,345.23 803.4,344.53 C803.7,343.83 804.13,346.03 804.89,346.4 C805.66,346.77 807.04,346.59 807.98,346.75 C808.92,346.92 809.53,346.72 810.52,347.38 C811.52,348.05 813.15,350.04 813.93,350.74 C814.71,351.45 814.51,351.76 815.2,351.62 C815.88,351.48 817.39,349.61 818.02,349.92 C818.65,350.23 818.51,353.01 818.97,353.47 C819.42,353.93 820.07,353.25 820.76,352.68 C821.44,352.12 822.4,349.62 823.05,350.08 C823.71,350.54 824.02,355.28 824.69,355.44 C825.36,355.6 826.42,351.96 827.08,351.05 C827.73,350.15 827.93,349.85 828.6,350 C829.28,350.15 830.51,351.34 831.11,351.96 C831.72,352.57 831.48,353.69 832.23,353.7 C832.97,353.71 834.65,352.43 835.59,352.04 C836.52,351.64 837.28,351.16 837.85,351.33 C838.43,351.5 838.48,352.72 839.04,353.06 C839.6,353.4 840.45,353.25 841.21,353.36 C841.97,353.47 842.71,353.73 843.58,353.73 C844.45,353.73 846.02,352.97 846.41,353.37 C846.81,353.77 845.91,355.32 845.96,356.14 C846.01,356.97 845.9,357.79 846.71,358.31 C847.51,358.83 849.47,359.33 850.78,359.27 C852.1,359.21 853.63,357.95 854.61,357.95 C855.59,357.95 856.33,358.36 856.66,359.26 C857,360.17 856.65,362.35 856.61,363.37 C856.58,364.4 856.44,364.57 856.46,365.41 C856.48,366.25 856.78,367.59 856.76,368.41 C856.73,369.24 855.93,369.72 856.3,370.36 C856.68,371 858.6,371.64 859.02,372.25 C859.44,372.86 859.15,373.35 858.82,374.01 C858.49,374.68 857.52,375.32 857.05,376.25 C856.58,377.18 855.43,378.91 856,379.59 C856.57,380.28 860.46,379.72 860.47,380.35 C860.47,380.98 855.99,382.55 856.02,383.39 C856.05,384.22 860.6,384.79 860.67,385.34 Z" fill="none" stroke="#2e2e2e" stroke-width="0.6"/>
<path d="M835.87,392.65 C835.9,393.03 835.62,393.71 835.27,393.87 C834.91,394.03 834.23,393.69 833.72,393.59 C833.21,393.5 832.4,393.55 832.22,393.31 C832.04,393.07 832.41,392.46 832.65,392.15 C832.89,391.84 833.23,391.53 833.64,391.43 C834.05,391.34 834.74,391.38 835.11,391.58 C835.48,391.78 835.85,392.27 835.87,392.65 Z" fill="none" stroke="#2e2e2e" stroke-width="0.45"/>
<path d="M802.12,384.46 C802.24,384.96 802.12,386.06 801.65,386.3 C801.18,386.54 799.99,386.08 799.32,385.9 C798.64,385.73 797.84,385.6 797.61,385.25 C797.39,384.9 797.68,384.2 797.96,383.8 C798.23,383.4 798.77,382.94 799.27,382.86 C799.76,382.78 800.46,383.05 800.93,383.32 C801.41,383.59 802,383.97 802.12,384.46 Z" fill="none" stroke="#2e2e2e" stroke-width="0.45"/>
<path d="M829.13,366.8 C829.1,367.15 828.48,367.6 828.1,367.76 C827.71,367.92 827.25,367.83 826.82,367.77 C826.39,367.7 825.66,367.62 825.52,367.39 C825.38,367.16 825.78,366.69 825.98,366.38 C826.18,366.07 826.34,365.64 826.72,365.51 C827.11,365.39 827.89,365.44 828.3,365.65 C828.7,365.86 829.17,366.45 829.13,366.8 Z" fill="none" stroke="#2e2e2e" stroke-width="0.45"/>
<path d="M851.04,302.36 C851.82,302.84 853.05,302.91 852.74,303.39 C852.43,303.87 850.21,304.49 849.19,305.22 C848.18,305.96 847.21,307.17 846.65,307.81 C846.1,308.45 845.67,308.3 845.87,309.05 C846.06,309.8 847.95,311.56 847.8,312.31 C847.66,313.07 844.96,312.98 845,313.55 C845.04,314.13 847.84,314.88 848.03,315.76 C848.23,316.64 846.83,318.3 846.16,318.81 C845.5,319.31 844.14,318.14 844.05,318.79 C843.97,319.45 846.17,322.31 845.66,322.74 C845.14,323.17 841.53,320.77 840.95,321.38 C840.37,321.99 842.24,325.22 842.18,326.37 C842.13,327.53 841.51,328.02 840.64,328.32 C839.77,328.62 837.89,328.27 836.96,328.18 C836.04,328.1 835.49,327.37 835.09,327.8 C834.69,328.22 834.8,329.87 834.55,330.74 C834.3,331.62 833.98,332.71 833.59,333.06 C833.2,333.4 832.94,332.9 832.21,332.81 C831.47,332.73 829.9,332.24 829.2,332.56 C828.49,332.87 828.52,334.18 827.98,334.71 C827.44,335.23 826.5,334.74 825.97,335.71 C825.45,336.68 825.38,339.83 824.82,340.55 C824.26,341.26 823.64,340.03 822.62,340 C821.6,339.97 819.6,340.07 818.69,340.38 C817.78,340.69 817.86,342.17 817.16,341.85 C816.47,341.54 815.19,339.4 814.52,338.47 C813.86,337.55 813.89,336.15 813.16,336.3 C812.44,336.45 810.97,339.33 810.16,339.37 C809.35,339.42 809,337.03 808.29,336.56 C807.58,336.09 806.24,337.15 805.9,336.55 C805.57,335.94 806.64,333.49 806.26,332.92 C805.89,332.35 804.5,333.52 803.66,333.13 C802.83,332.74 802.02,330.59 801.25,330.6 C800.48,330.61 799.66,333.09 799.05,333.2 C798.43,333.3 798.12,331.76 797.57,331.23 C797.02,330.7 795.86,330.93 795.75,330.02 C795.64,329.12 797.1,326.52 796.91,325.79 C796.72,325.06 795.38,326 794.62,325.65 C793.85,325.29 792.71,324.15 792.34,323.65 C791.98,323.15 793.28,322.64 792.43,322.65 C791.57,322.67 787.66,324.12 787.2,323.75 C786.75,323.38 789.61,321.37 789.7,320.45 C789.78,319.53 788.96,318.4 787.71,318.23 C786.46,318.05 782.8,319.75 782.2,319.4 C781.6,319.06 784.84,316.71 784.11,316.16 C783.37,315.6 779.21,316.5 777.78,316.04 C776.35,315.59 775.05,314.42 775.51,313.42 C775.97,312.42 780.19,310.81 780.54,310.03 C780.89,309.26 777.65,309.46 777.6,308.77 C777.55,308.09 779.44,306.72 780.25,305.94 C781.07,305.15 782.49,304.89 782.49,304.09 C782.49,303.28 781.1,301.74 780.25,301.1 C779.41,300.46 777.5,300.69 777.43,300.24 C777.36,299.78 779.92,299.39 779.86,298.39 C779.79,297.38 776.93,295.07 777.06,294.21 C777.18,293.35 780.26,293.67 780.6,293.23 C780.93,292.79 779.2,292.36 779.06,291.58 C778.91,290.79 779.54,289.42 779.71,288.52 C779.88,287.63 779.2,286.53 780.07,286.21 C780.94,285.89 783.6,286.84 784.93,286.6 C786.27,286.37 787.99,285.78 788.06,284.8 C788.13,283.82 785.34,281.16 785.36,280.7 C785.38,280.25 787.7,282.67 788.18,282.06 C788.67,281.46 787.64,277.59 788.28,277.08 C788.91,276.58 791.26,279.2 792,279.03 C792.74,278.87 792.94,277.2 792.72,276.09 C792.51,274.98 790.47,273.05 790.74,272.35 C791.01,271.65 793.18,271.96 794.34,271.89 C795.5,271.82 797.06,272.07 797.69,271.94 C798.32,271.8 797.53,271.36 798.11,271.07 C798.69,270.78 800.3,269.97 801.18,270.19 C802.07,270.42 802.8,272.72 803.41,272.4 C804.01,272.08 804.09,268.29 804.81,268.28 C805.53,268.27 806.93,271.25 807.72,272.35 C808.52,273.44 808.94,274.84 809.58,274.85 C810.22,274.86 811.03,272.75 811.56,272.41 C812.09,272.08 812.16,272.98 812.77,272.85 C813.38,272.73 814.42,272.02 815.23,271.66 C816.04,271.3 817.08,271.6 817.62,270.71 C818.16,269.81 817.83,266.53 818.45,266.29 C819.07,266.04 820.65,268.9 821.33,269.24 C822.01,269.58 821.65,269.06 822.55,268.32 C823.46,267.58 825.8,264.75 826.76,264.79 C827.72,264.83 827.74,268.25 828.3,268.57 C828.87,268.89 829.67,266.3 830.14,266.72 C830.6,267.13 830.46,270.41 831.07,271.08 C831.69,271.75 832.8,270.83 833.84,270.71 C834.87,270.59 836.27,270.74 837.3,270.36 C838.34,269.99 839.54,268.05 840.05,268.47 C840.56,268.88 839.67,272.26 840.35,272.85 C841.03,273.45 843.65,271.35 844.12,272.03 C844.58,272.71 843.09,275.87 843.13,276.93 C843.17,278 844.02,277.52 844.33,278.41 C844.65,279.31 844.86,281.31 845.04,282.32 C845.23,283.32 845.44,283.96 845.42,284.46 C845.41,284.95 844.44,284.74 844.96,285.28 C845.48,285.82 848.13,286.79 848.53,287.68 C848.92,288.57 847.44,290.07 847.33,290.63 C847.22,291.2 848.01,290.56 847.86,291.07 C847.71,291.58 846.59,293 846.43,293.71 C846.26,294.42 846.55,294.46 846.88,295.32 C847.21,296.19 848.21,298.01 848.4,298.88 C848.59,299.75 847.59,299.96 848.03,300.54 C848.47,301.12 850.25,301.89 851.04,302.36 Z" fill="none" stroke="#2e2e2e" stroke-width="0.6"/>
<path d="M804.24,306.74 C804.23,307.59 802.49,308.68 801.41,309.27 C800.33,309.85 798.64,310.49 797.75,310.24 C796.85,309.99 796.37,308.54 796.02,307.76 C795.67,306.98 795.39,306.42 795.66,305.58 C795.92,304.73 796.62,302.94 797.59,302.7 C798.55,302.47 800.34,303.49 801.45,304.17 C802.56,304.84 804.24,305.89 804.24,306.74 Z" fill="none" stroke="#2e2e2e" stroke-width="0.45"/>
<path d="M794.46,295.97 C794.5,296.28 794.1,296.74 793.72,297 C793.34,297.27 792.55,297.67 792.18,297.57 C791.8,297.47 791.74,296.8 791.48,296.41 C791.22,296.01 790.46,295.44 790.61,295.22 C790.76,295 791.9,295.08 792.38,295.07 C792.86,295.06 793.13,295.02 793.48,295.17 C793.83,295.32 794.42,295.67 794.46,295.97 Z" fill="none" stroke="#2e2e2e" stroke-width="0.45"/>
<path d="M798.59,289.81 C798.63,290.31 799.05,291.25 798.72,291.47 C798.38,291.69 797.23,291.29 796.59,291.15 C795.96,291 795.19,290.93 794.91,290.58 C794.62,290.22 794.6,289.41 794.87,289.02 C795.14,288.64 795.94,288.37 796.54,288.27 C797.13,288.17 798.08,288.17 798.43,288.42 C798.77,288.68 798.54,289.3 798.59,289.81 Z" fill="none" stroke="#2e2e2e" stroke-width="0.45"/>
<path d="M790.93,298.23 C790.85,298.65 790.06,299.01 789.59,299.26 C789.12,299.5 788.62,299.72 788.09,299.68 C787.56,299.64 786.61,299.35 786.41,299.01 C786.22,298.67 786.62,297.99 786.9,297.63 C787.19,297.27 787.59,297.01 788.12,296.86 C788.64,296.72 789.59,296.52 790.06,296.75 C790.53,296.98 791.01,297.81 790.93,298.23 Z" fill="none" stroke="#2e2e2e" stroke-width="0.45"/>
<path d="M920.94,40.4 C920.95,41.24 920.89,41.26 920.93,41.96 C920.97,42.66 921.08,43.75 921.18,44.61 C921.28,45.46 921.7,46.41 921.56,47.09 C921.42,47.77 921.29,48.3 920.34,48.68 C919.4,49.07 916.27,48.84 915.89,49.41 C915.51,49.97 917.89,51.16 918.05,52.08 C918.2,52.99 917.68,54.25 916.82,54.91 C915.96,55.57 913.95,55.66 912.89,56.06 C911.83,56.47 910.26,56.73 910.46,57.35 C910.66,57.97 913.7,58.9 914.08,59.77 C914.45,60.64 913.54,62.08 912.7,62.57 C911.87,63.07 910.02,62.45 909.07,62.73 C908.12,63.02 907.07,63.39 907,64.26 C906.93,65.13 908.93,67.61 908.64,67.96 C908.35,68.32 905.62,65.95 905.27,66.4 C904.93,66.85 906.96,69.92 906.58,70.67 C906.2,71.43 903.27,70.34 903.01,70.91 C902.75,71.48 905.46,73.69 905.03,74.09 C904.6,74.48 901.22,72.94 900.42,73.28 C899.63,73.62 900.45,75.44 900.26,76.11 C900.06,76.78 899.82,77.21 899.26,77.3 C898.7,77.4 897.56,76.26 896.89,76.69 C896.22,77.11 895.81,79.13 895.24,79.84 C894.68,80.56 894.07,80.49 893.5,80.97 C892.92,81.45 892.18,82.27 891.8,82.72 C891.42,83.18 891.72,83.85 891.19,83.71 C890.67,83.56 889.54,81.8 888.63,81.86 C887.72,81.92 886.25,82.84 885.71,84.07 C885.18,85.3 885.98,88.9 885.44,89.26 C884.91,89.61 883.42,86.72 882.5,86.22 C881.58,85.72 880.55,85.61 879.92,86.23 C879.3,86.85 879.2,89.23 878.77,89.93 C878.33,90.62 878.11,90.14 877.32,90.39 C876.53,90.64 874.81,91.8 874.04,91.43 C873.28,91.06 873.38,88.31 872.74,88.19 C872.09,88.08 870.88,90.62 870.17,90.72 C869.47,90.82 869.11,88.78 868.51,88.8 C867.92,88.83 867.35,91.26 866.61,90.85 C865.87,90.45 864.93,87.06 864.09,86.37 C863.24,85.68 862.3,86.82 861.55,86.73 C860.8,86.64 860.26,85.97 859.59,85.83 C858.92,85.7 858.27,85.64 857.53,85.93 C856.8,86.22 855.59,87.76 855.18,87.55 C854.78,87.34 855.34,85.53 855.11,84.64 C854.88,83.76 854.56,82.13 853.8,82.26 C853.05,82.38 851.42,85.42 850.57,85.39 C849.71,85.37 849.29,82.68 848.69,82.1 C848.1,81.52 847.65,82.2 847,81.9 C846.34,81.6 845.54,80.74 844.76,80.28 C843.98,79.81 843.15,79.14 842.31,79.09 C841.48,79.03 840.35,80.06 839.76,79.95 C839.17,79.84 839.61,78.67 838.76,78.44 C837.91,78.21 835.13,78.85 834.63,78.57 C834.14,78.29 835.95,77.64 835.78,76.75 C835.61,75.86 834.09,74 833.62,73.23 C833.15,72.45 833.28,72.45 832.98,72.11 C832.68,71.77 832.33,71.8 831.83,71.18 C831.32,70.56 829.87,69.43 829.94,68.39 C830.02,67.36 832.51,65.48 832.28,64.96 C832.05,64.44 829.57,65.63 828.55,65.29 C827.53,64.94 826.68,63.38 826.14,62.88 C825.6,62.39 825.05,63.16 825.29,62.31 C825.53,61.46 827.76,58.68 827.58,57.79 C827.4,56.9 825.15,57.15 824.22,56.96 C823.29,56.77 822.13,57.17 822.01,56.66 C821.9,56.14 823.64,54.73 823.54,53.85 C823.44,52.98 821.28,52.2 821.42,51.4 C821.56,50.59 824.15,49.62 824.38,49.01 C824.6,48.4 822.72,48.42 822.77,47.75 C822.82,47.08 824.07,45.8 824.68,44.98 C825.28,44.16 826.87,43.61 826.39,42.85 C825.91,42.08 821.74,41.12 821.78,40.4 C821.83,39.67 826.52,39.13 826.69,38.48 C826.85,37.83 822.77,37.13 822.79,36.52 C822.81,35.91 826.49,35.5 826.83,34.84 C827.16,34.17 825.18,33.1 824.79,32.51 C824.4,31.92 824.5,31.98 824.49,31.27 C824.48,30.57 824.61,29.1 824.74,28.28 C824.87,27.45 825.56,26.87 825.29,26.31 C825.02,25.76 823.55,25.73 823.13,24.96 C822.7,24.19 822.23,22.49 822.75,21.7 C823.27,20.9 825.71,20.56 826.24,20.2 C826.77,19.83 826.1,20.36 825.92,19.5 C825.73,18.64 824.9,15.78 825.13,15.04 C825.35,14.29 826.77,15.53 827.28,15.05 C827.8,14.56 828,12.96 828.2,12.1 C828.4,11.24 828.02,10.48 828.5,9.88 C828.98,9.27 830.2,8.56 831.06,8.47 C831.93,8.37 833.11,9.77 833.67,9.29 C834.23,8.81 834.25,6.72 834.42,5.58 C834.58,4.44 834.14,2.88 834.68,2.43 C835.21,1.98 836.7,2.65 837.63,2.87 C838.57,3.1 839.55,4.05 840.28,3.78 C841.01,3.51 841.97,2.55 842.02,1.25 C842.08,-0.05 840.39,-3.35 840.59,-4.04 C840.79,-4.73 842.65,-2.82 843.25,-2.89 C843.85,-2.95 843.41,-4.37 844.18,-4.45 C844.95,-4.52 847.19,-2.99 847.87,-3.35 C848.56,-3.7 847.65,-6.54 848.31,-6.57 C848.96,-6.59 851.03,-3.34 851.81,-3.5 C852.59,-3.66 852.41,-6.9 853.01,-7.51 C853.61,-8.12 854.71,-7.08 855.4,-7.16 C856.09,-7.23 856.23,-7.83 857.16,-7.94 C858.09,-8.06 860.11,-7.7 860.98,-7.85 C861.85,-8 861.71,-8.79 862.39,-8.84 C863.07,-8.9 864.51,-8 865.07,-8.17 C865.63,-8.34 865.09,-9.8 865.75,-9.85 C866.4,-9.91 868.3,-9.09 868.98,-8.5 C869.67,-7.92 869.26,-6.21 869.87,-6.34 C870.47,-6.48 871.68,-9.03 872.62,-9.31 C873.55,-9.59 874.86,-8.24 875.47,-8.02 C876.08,-7.79 875.68,-7.8 876.3,-7.98 C876.93,-8.17 878.41,-9.35 879.22,-9.13 C880.03,-8.9 880.51,-6.5 881.19,-6.63 C881.87,-6.77 882.5,-9.78 883.3,-9.93 C884.1,-10.07 885.45,-8.17 885.99,-7.51 C886.52,-6.84 886.05,-6.31 886.51,-5.95 C886.97,-5.6 888.07,-6.1 888.75,-5.39 C889.43,-4.67 890.15,-2.25 890.58,-1.67 C891,-1.08 890.36,-1.7 891.3,-1.87 C892.24,-2.03 895.55,-3.05 896.21,-2.63 C896.87,-2.22 894.94,-0.03 895.25,0.62 C895.57,1.27 897.61,0.69 898.11,1.28 C898.6,1.87 897.85,3.45 898.22,4.15 C898.6,4.86 899.57,5.25 900.37,5.51 C901.16,5.76 902.36,5.49 903.01,5.67 C903.66,5.84 904.07,6.11 904.25,6.55 C904.44,6.98 903.79,7.79 904.11,8.29 C904.43,8.8 905.59,9.12 906.19,9.6 C906.79,10.08 907.4,10.45 907.68,11.16 C907.97,11.87 906.97,13.45 907.91,13.85 C908.84,14.24 912.35,13.15 913.29,13.54 C914.23,13.93 913.39,15.55 913.55,16.2 C913.71,16.85 914.25,17.01 914.25,17.46 C914.24,17.92 913.12,18.24 913.54,18.94 C913.96,19.64 916.04,20.97 916.76,21.67 C917.48,22.37 917.63,22.42 917.85,23.14 C918.06,23.85 917.59,25.29 918.05,25.95 C918.5,26.62 920.86,26.36 920.59,27.14 C920.31,27.93 916.59,30 916.38,30.69 C916.16,31.37 918.83,30.87 919.3,31.27 C919.76,31.67 919.58,32.28 919.18,33.1 C918.79,33.91 916.66,35.51 916.94,36.15 C917.22,36.79 920.22,36.22 920.88,36.92 C921.55,37.63 920.93,39.56 920.94,40.4 Z" fill="none" stroke="#2e2e2e" stroke-width="0.6"/>
<path d="M904.63,38.6 C904.37,39.41 904.24,39.55 903.84,40.1 C903.45,40.66 902.44,41.11 902.27,41.91 C902.1,42.71 902.65,44.06 902.82,44.9 C902.99,45.75 903.36,46.51 903.29,46.99 C903.23,47.46 902.48,46.97 902.43,47.74 C902.37,48.51 903.23,50.98 902.97,51.6 C902.72,52.22 901.29,50.98 900.91,51.48 C900.52,51.98 900.6,53.56 900.65,54.6 C900.7,55.64 901.5,57.01 901.21,57.71 C900.91,58.42 899.46,58.54 898.89,58.82 C898.33,59.1 898.52,58.88 897.82,59.4 C897.11,59.92 894.86,60.98 894.68,61.93 C894.5,62.88 896.84,64.36 896.72,65.09 C896.61,65.81 895.28,66.36 893.98,66.27 C892.68,66.18 889.87,64.32 888.94,64.54 C888,64.77 888.51,67.02 888.37,67.6 C888.23,68.17 888.74,67.81 888.09,67.99 C887.44,68.17 885.13,68.23 884.47,68.69 C883.81,69.15 884.78,70.63 884.13,70.77 C883.47,70.91 881.61,69.95 880.54,69.52 C879.48,69.09 878.14,67.85 877.75,68.19 C877.36,68.53 878.57,70.93 878.19,71.55 C877.81,72.17 876.38,72.05 875.48,71.92 C874.58,71.78 873.5,70.2 872.78,70.75 C872.05,71.29 871.77,75.15 871.14,75.16 C870.51,75.18 869.88,71.05 869.01,70.84 C868.13,70.63 866.44,73.55 865.89,73.9 C865.34,74.25 866.32,72.8 865.69,72.92 C865.05,73.04 862.72,75.08 862.07,74.61 C861.42,74.15 862.29,71.12 861.8,70.13 C861.31,69.13 860.03,68.76 859.13,68.65 C858.24,68.54 857.06,69.55 856.42,69.48 C855.79,69.41 855.86,68.11 855.33,68.22 C854.79,68.33 853.89,70.5 853.21,70.12 C852.53,69.73 852.09,65.98 851.23,65.92 C850.37,65.86 849.09,69.62 848.06,69.78 C847.02,69.95 845.74,67.65 845.01,66.91 C844.28,66.18 843.76,66.18 843.67,65.36 C843.57,64.53 844.66,62.78 844.43,61.97 C844.19,61.16 842.96,60.91 842.26,60.52 C841.57,60.13 840.7,59.94 840.25,59.63 C839.8,59.31 839.82,59 839.54,58.62 C839.27,58.24 838.75,58.3 838.59,57.36 C838.44,56.42 838.87,53.89 838.64,52.98 C838.4,52.07 837.71,52.21 837.2,51.91 C836.69,51.61 836.12,51.85 835.59,51.2 C835.05,50.55 834.12,48.75 833.99,48.01 C833.86,47.27 834.51,47.29 834.81,46.74 C835.12,46.2 836.21,45.51 835.81,44.72 C835.4,43.93 833.2,42.81 832.37,42.01 C831.53,41.21 830.83,40.51 830.81,39.94 C830.79,39.37 831.35,39.15 832.25,38.58 C833.15,38.02 835.72,37.49 836.2,36.55 C836.68,35.61 835.07,33.66 835.13,32.92 C835.19,32.19 836.32,32.47 836.58,32.14 C836.84,31.81 836.86,31.75 836.69,30.96 C836.53,30.16 835.58,28.36 835.6,27.35 C835.62,26.35 836.76,25.79 836.79,24.9 C836.82,24.01 835.57,22.44 835.79,22.01 C836.02,21.59 837.08,22.46 838.14,22.33 C839.21,22.2 841.56,21.55 842.19,21.23 C842.82,20.91 842.06,21.08 841.92,20.41 C841.77,19.75 841.08,17.98 841.32,17.26 C841.57,16.54 842.77,16.4 843.39,16.08 C844.02,15.77 844.55,15.85 845.1,15.39 C845.64,14.92 846.16,13.77 846.69,13.31 C847.21,12.85 847.8,13.37 848.24,12.61 C848.67,11.86 848.87,9.28 849.31,8.78 C849.74,8.29 850.21,9.99 850.83,9.63 C851.44,9.28 852.31,7.24 852.99,6.63 C853.67,6.02 854.24,6.21 854.91,5.97 C855.57,5.73 856.43,5.28 856.99,5.2 C857.56,5.12 857.79,6.04 858.31,5.5 C858.82,4.96 859.46,2.57 860.06,1.95 C860.66,1.32 861.21,1.78 861.9,1.76 C862.59,1.74 863.38,1.71 864.19,1.83 C864.99,1.95 865.84,2.64 866.74,2.46 C867.63,2.28 868.68,0.81 869.54,0.74 C870.4,0.68 871.17,1.85 871.88,2.09 C872.6,2.32 873.2,2.05 873.82,2.17 C874.44,2.29 874.9,2.38 875.6,2.82 C876.31,3.26 877.26,4.64 878.06,4.79 C878.85,4.95 879.94,3.77 880.36,3.76 C880.78,3.76 880.19,3.86 880.58,4.76 C880.98,5.67 881.84,8.73 882.72,9.21 C883.6,9.68 885.1,8.03 885.86,7.61 C886.62,7.19 886.69,6.49 887.27,6.69 C887.86,6.9 888.8,8.27 889.39,8.85 C889.99,9.43 890.55,9.49 890.83,10.19 C891.11,10.89 890.71,12.51 891.07,13.04 C891.44,13.58 892.44,13.05 893.05,13.39 C893.65,13.73 894.34,14.55 894.7,15.08 C895.06,15.61 894.5,16.27 895.2,16.59 C895.9,16.91 898.31,16.32 898.91,17 C899.5,17.68 898.47,19.95 898.76,20.66 C899.05,21.38 900.46,20.59 900.63,21.28 C900.8,21.96 899.84,23.97 899.77,24.77 C899.69,25.58 899.95,25.4 900.17,26.1 C900.39,26.8 900.94,28.29 901.1,28.98 C901.26,29.68 900.91,29.93 901.16,30.26 C901.41,30.58 902.45,30.2 902.59,30.94 C902.74,31.69 901.55,34.02 902.02,34.73 C902.49,35.44 904.97,34.55 905.4,35.2 C905.83,35.84 904.88,37.78 904.63,38.6 Z" fill="none" stroke="#2e2e2e" stroke-width="0.6"/>
<circle cx="874.5" cy="45.6" r="0.35" fill="#1e1e1e" stroke="#1e1e1e" stroke-width="0.3"/>
<path d="M799.94,211.9 C800.32,211.62 801.48,210.87 802.2,210.25 C802.91,209.63 803.28,208.44 804.22,208.2 C805.15,207.96 807.03,209.34 807.79,208.81 C808.56,208.29 808.1,205.67 808.8,205.04 C809.51,204.4 811.15,204.65 812,205.01 C812.85,205.37 813.02,207.05 813.91,207.18 C814.8,207.3 816.45,205.6 817.32,205.76 C818.19,205.93 818.44,207.56 819.13,208.16 C819.82,208.76 820.79,209.23 821.46,209.34 C822.12,209.46 822.4,209.02 823.12,208.82 C823.84,208.63 824.89,208.41 825.77,208.19 C826.65,207.97 827.7,207.99 828.39,207.52 C829.08,207.05 829.31,205.96 829.91,205.38 C830.51,204.79 831.65,204.23 832,204" fill="none" stroke="#3a3a3a" stroke-width="0.55"/>
</g>
<g>
<circle cx="31.7" cy="445.7" r="14.7" fill="none" stroke="#333" stroke-width="0.65"/>
<text x="31.4" y="452.8" font-size="19" text-anchor="middle" fill="#111" stroke="#111" stroke-width="0.3">1</text>
<rect x="25" y="449" width="5.75" height="4.4" fill="#fff" stroke="none" stroke-width="0"/>
<rect x="32.75" y="449" width="5.25" height="4.4" fill="#fff" stroke="none" stroke-width="0"/>
<text x="52" y="443.2" font-size="9.9" fill="#111" stroke="#111" stroke-width="0.25" textLength="163.3" lengthAdjust="spacingAndGlyphs">NEW PARKING LOT STRIPING PLAN</text>
<path d="M46.4,445.6 H834.5 V454.4 H843.7 V445.6 H852.6 V454.4 H870.9 V445.6 H907.6 V454.4 H943.5 V445.6" fill="none" stroke="#222" stroke-width="0.7"/>
<text x="826.3" y="454.5" font-size="9.5" text-anchor="end" fill="#111" stroke="#111" stroke-width="0.22">1/16&quot; = 1'-0&quot;</text>
<text x="834.5" y="461.8" font-size="3.9" text-anchor="middle" fill="#151515" stroke="#151515" stroke-width="0.07" font-weight="normal">0</text>
<text x="844" y="461.8" font-size="3.9" text-anchor="middle" fill="#151515" stroke="#151515" stroke-width="0.07" font-weight="normal">1'</text>
<text x="853" y="461.8" font-size="3.9" text-anchor="middle" fill="#151515" stroke="#151515" stroke-width="0.07" font-weight="normal">2'</text>
<text x="871" y="461.8" font-size="3.9" text-anchor="middle" fill="#151515" stroke="#151515" stroke-width="0.07" font-weight="normal">4'</text>
<text x="907.3" y="461.8" font-size="3.9" text-anchor="middle" fill="#151515" stroke="#151515" stroke-width="0.07" font-weight="normal">8'</text>
<text x="943.5" y="461.8" font-size="3.9" text-anchor="middle" fill="#151515" stroke="#151515" stroke-width="0.07" font-weight="normal">12'</text>
<text x="961.2" y="444.9" font-size="6.8" text-anchor="middle" fill="#111" stroke="#111" stroke-width="0.2">N</text>
<circle cx="973.7" cy="451.6" r="8.9" fill="none" stroke="#111" stroke-width="0.7"/>
<path d="M966.6,446.3 L981.2,446.6 L967.2,457.8 Z" fill="#111" stroke="#111" stroke-width="0.3"/>
</g>
</svg>
</body>
</html>
